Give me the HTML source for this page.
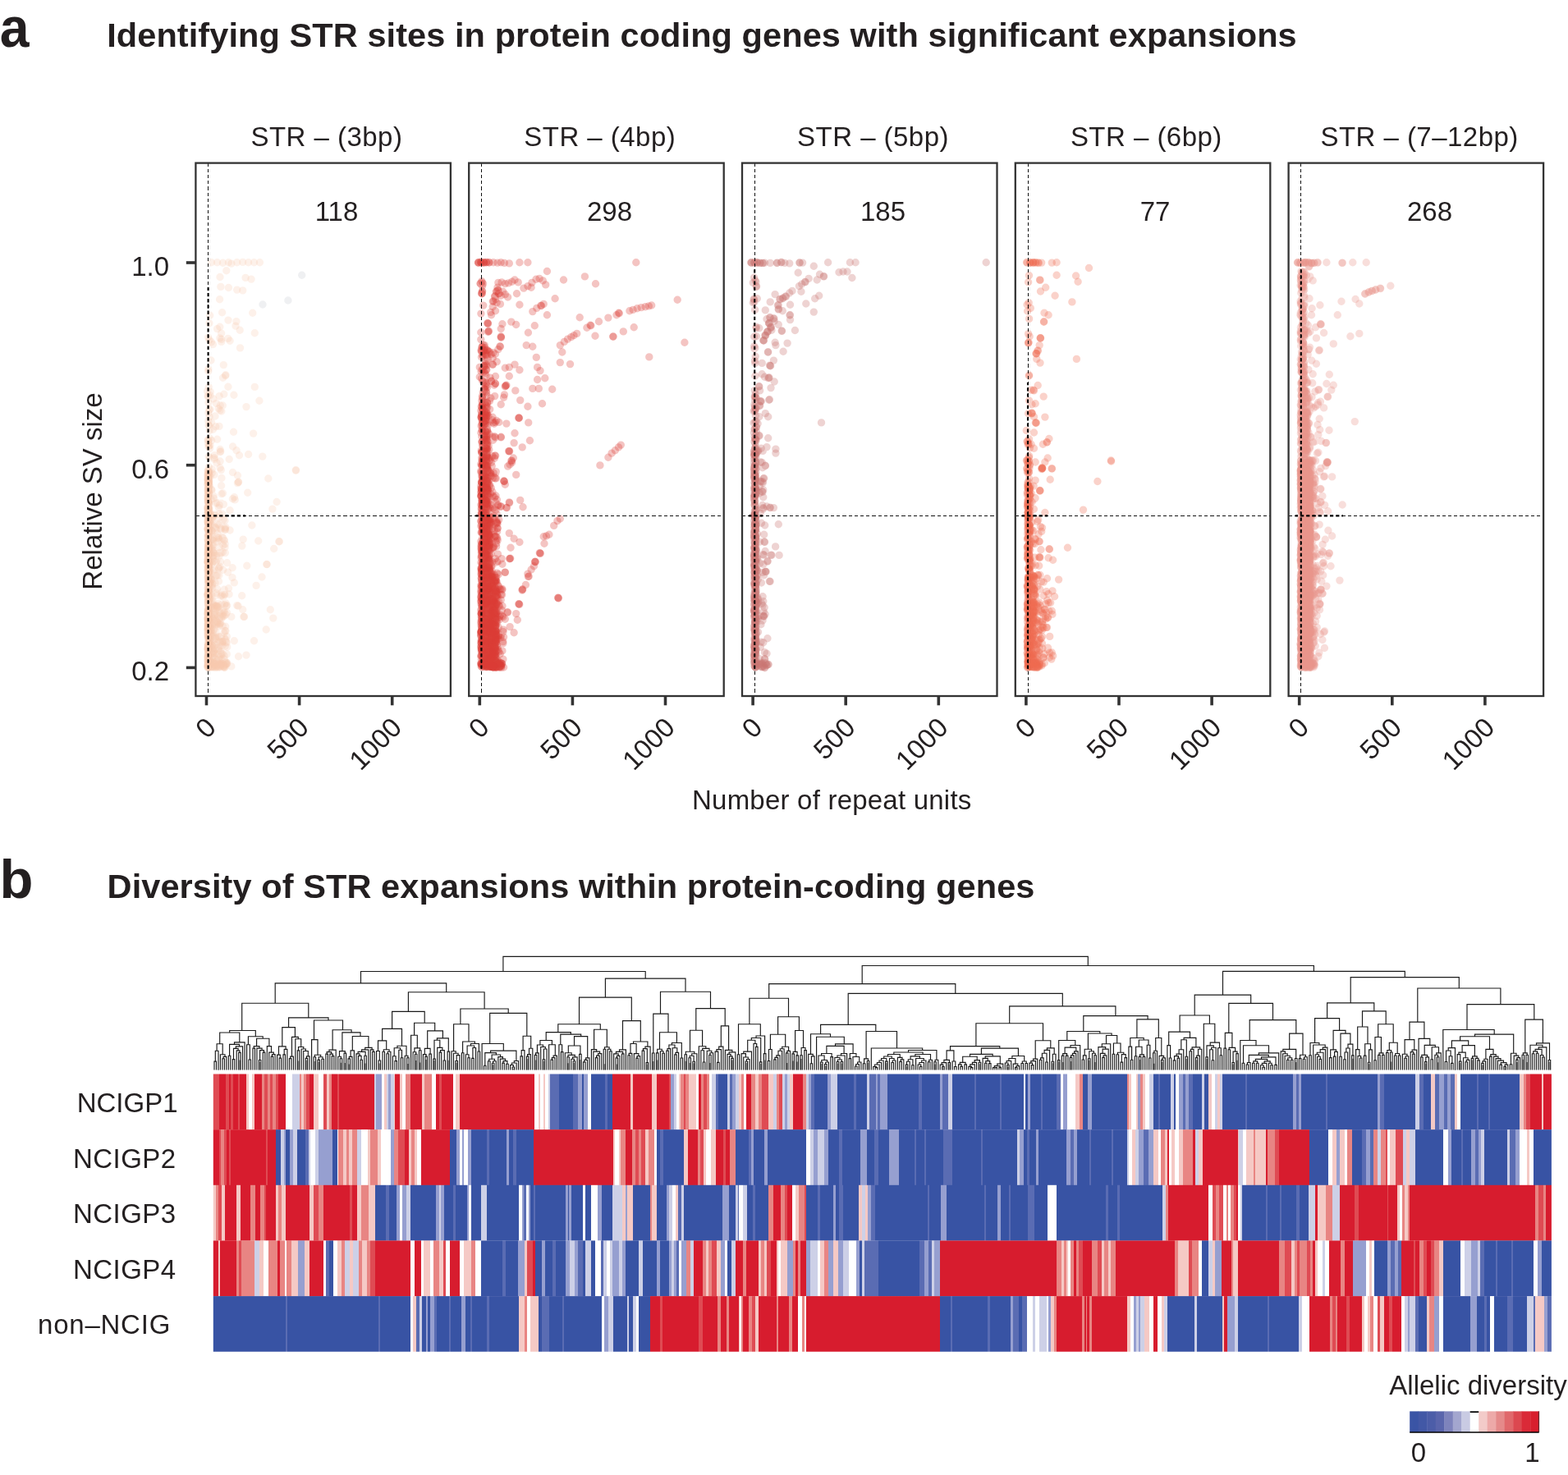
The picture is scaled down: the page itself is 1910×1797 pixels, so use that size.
<!DOCTYPE html>
<html lang="en">
<head>
<meta charset="utf-8">
<title>STR expansions in protein coding genes</title>
<style>
html,body{margin:0;padding:0;background:#fff;}
body{width:1910px;height:1797px;}
svg{display:block;}
svg text{font-family:'Liberation Sans', Arial, Helvetica, sans-serif;fill:#231f20;}
</style>
</head>
<body>
<svg width="1910" height="1797" viewBox="0 0 1910 1797">
<rect width="1910" height="1797" fill="#ffffff"/>
<text x="-0.3" y="57.0" font-size="69" text-anchor="start" font-weight="bold" textLength="35.8" lengthAdjust="spacingAndGlyphs">a</text>
<text x="130.2" y="57.1" font-size="41.5" text-anchor="start" font-weight="bold" textLength="1449.5">Identifying STR sites in protein coding genes with significant expansions</text>
<text x="-0.5" y="1094.0" font-size="67" text-anchor="start" font-weight="bold">b</text>
<text x="130.6" y="1094.1" font-size="41.5" text-anchor="start" font-weight="bold" textLength="1129.8">Diversity of STR expansions within protein-coding genes</text>
<text x="305.5" y="177.6" font-size="33" text-anchor="start" textLength="184.4">STR – (3bp)</text>
<g fill="none" stroke="#f9c7ae" stroke-opacity="0.26" stroke-width="9.4" stroke-linecap="round">
<path d="M257.6 319.7h0M278.4 350.5h0M271.5 460.2h0M255.9 481.8h0M280.1 646.0h0M288.7 737.6h0M295.7 742.8h0M253.8 637.7h0M254.8 754.5h0M253.3 632.9h0M253.7 595.3h0M253.6 786.9h0M254.7 782.0h0M254.1 794.0h0M253.5 611.2h0M254.2 678.7h0M254.2 791.5h0M253.9 576.9h0M254.6 789.2h0M254.5 789.2h0M253.3 723.7h0M252.9 618.9h0M253.6 683.7h0M254.4 759.4h0M254.3 755.4h0M253.2 690.6h0M253.8 686.2h0M254.4 628.0h0M254.0 723.6h0M253.1 590.2h0M253.5 667.3h0M254.0 761.8h0M254.6 766.2h0M254.1 791.3h0M254.5 663.7h0M254.6 770.1h0M253.6 737.2h0M267.9 760.8h0M258.7 761.0h0M276.4 775.5h0M253.9 799.7h0M261.9 755.7h0M257.3 739.3h0M255.4 793.5h0M256.8 807.3h0M267.3 750.4h0M268.7 754.3h0M264.3 753.5h0M269.8 753.7h0M260.3 793.4h0M257.7 789.5h0M256.4 736.5h0M263.9 737.5h0M265.9 735.5h0M266.6 692.7h0M264.8 700.6h0M263.3 725.2h0M255.6 710.5h0M255.8 672.1h0M259.5 664.2h0M259.3 658.4h0M253.5 808.1h0M266.7 808.5h0M265.8 813.1h0M273.5 811.0h0M260.4 607.1h0M257.7 596.4h0M254.2 471.6h0M254.1 518.0h0M267.6 364.7h0M291.5 554.7h0M258.1 646.7h0M289.4 579.3h0M257.9 730.0h0M266.4 618.2h0"/>
<path d="M264.6 319.7h0M288.7 353.1h0M310.3 471.4h0M257.6 514.6h0M314.7 659.0h0M329.3 742.8h0M254.2 763.0h0M254.9 812.4h0M253.1 630.0h0M254.4 650.1h0M253.0 804.3h0M254.9 729.9h0M253.7 762.4h0M253.4 572.8h0M253.8 637.0h0M254.2 729.4h0M253.7 708.4h0M254.5 585.6h0M253.3 777.1h0M253.9 647.2h0M254.2 698.9h0M254.3 791.8h0M253.9 674.7h0M254.5 668.7h0M254.9 575.6h0M254.1 584.2h0M254.8 629.3h0M253.1 787.3h0M253.6 686.5h0M254.0 688.0h0M254.8 787.8h0M253.1 589.9h0M254.6 786.3h0M253.0 596.5h0M254.0 695.6h0M253.1 635.7h0M253.7 765.9h0M274.9 779.1h0M259.3 736.2h0M267.4 800.5h0M256.6 805.3h0M263.2 761.0h0M267.7 805.6h0M263.1 805.8h0M273.3 750.3h0M254.7 753.5h0M256.4 778.0h0M259.9 795.6h0M254.2 759.4h0M253.1 753.9h0M272.2 781.3h0M254.8 755.6h0M257.1 768.2h0M256.9 708.6h0M266.6 630.7h0M260.2 676.6h0M274.0 667.0h0M255.7 680.8h0M265.9 655.0h0M269.2 726.1h0M255.1 635.5h0M255.8 807.5h0M262.2 809.4h0M257.8 812.6h0M265.0 810.6h0M256.1 626.4h0M269.6 591.8h0M253.9 503.1h0M254.4 568.9h0M287.9 391.6h0M292.5 423.9h0M256.0 719.0h0M289.4 588.6h0M264.7 650.5h0"/>
<path d="M271.5 320.2h0M295.7 353.9h0M315.9 488.3h0M262.8 519.8h0M339.7 659.8h0M297.4 751.4h0M253.1 643.8h0M254.6 742.3h0M253.1 584.6h0M253.5 587.9h0M253.4 741.5h0M254.3 712.3h0M254.6 709.4h0M253.5 735.1h0M253.3 670.8h0M254.5 803.3h0M254.7 763.9h0M254.5 612.1h0M254.8 697.6h0M253.3 720.4h0M254.6 718.9h0M254.8 598.1h0M254.1 573.2h0M254.7 784.2h0M254.1 749.8h0M254.8 672.4h0M253.9 798.1h0M254.5 722.1h0M253.3 653.7h0M254.3 642.7h0M253.4 658.0h0M254.4 788.8h0M254.8 725.8h0M253.3 622.9h0M253.4 811.0h0M254.3 593.7h0M260.4 810.8h0M267.7 761.0h0M259.0 789.9h0M255.0 809.1h0M255.7 780.0h0M265.2 738.0h0M267.9 781.8h0M253.6 797.1h0M271.3 762.8h0M265.9 797.0h0M254.8 805.3h0M269.6 797.0h0M253.1 759.6h0M273.1 746.1h0M272.9 771.3h0M258.8 807.4h0M262.5 745.7h0M265.8 739.8h0M259.8 670.6h0M257.8 725.1h0M259.0 731.7h0M268.5 684.2h0M256.5 629.6h0M257.9 673.8h0M271.8 664.2h0M261.5 811.8h0M268.7 812.2h0M260.6 811.8h0M255.6 812.4h0M262.0 507.0h0M263.2 613.1h0M254.8 499.2h0M253.9 543.9h0M267.9 411.9h0M284.9 481.2h0M294.7 725.7h0M296.2 657.1h0M279.1 724.0h0"/>
<path d="M278.4 319.7h0M270.6 380.7h0M300.0 495.6h0M360.4 572.6h0M340.4 659.8h0M296.9 751.4h0M253.1 767.1h0M253.5 625.9h0M254.5 613.2h0M253.1 711.8h0M253.4 770.5h0M253.2 578.5h0M254.1 663.1h0M253.3 611.3h0M254.2 690.2h0M254.3 618.5h0M254.8 682.9h0M253.6 761.8h0M254.0 618.9h0M254.8 601.5h0M254.6 626.6h0M253.9 754.5h0M254.3 775.5h0M254.3 756.8h0M253.4 667.7h0M254.0 715.5h0M254.3 684.0h0M253.6 636.1h0M254.4 774.1h0M254.5 588.5h0M253.6 658.4h0M253.1 724.3h0M253.9 742.8h0M253.4 744.6h0M254.2 627.8h0M253.9 684.1h0M271.0 786.3h0M270.9 742.2h0M276.3 796.9h0M264.8 750.5h0M271.1 749.5h0M266.1 746.3h0M268.5 758.9h0M253.9 777.1h0M260.7 748.5h0M258.4 786.9h0M276.5 737.6h0M255.7 773.3h0M264.7 776.2h0M258.8 758.4h0M258.8 801.1h0M267.4 756.1h0M267.2 755.4h0M271.1 655.4h0M255.2 675.3h0M271.4 672.7h0M258.4 711.8h0M256.2 729.4h0M263.9 738.1h0M264.6 717.5h0M255.3 649.4h0M260.3 810.3h0M261.7 811.1h0M255.5 813.3h0M269.5 809.9h0M269.3 572.6h0M268.3 494.0h0M254.7 543.0h0M253.6 411.1h0M284.5 526.3h0M279.2 559.5h0M256.1 625.0h0M267.8 673.3h0M294.8 665.1h0"/>
<path d="M288.7 319.7h0M307.7 381.2h0M268.0 499.9h0M326.8 583.0h0M333.7 668.5h0M332.8 753.1h0M254.3 580.2h0M253.5 587.1h0M254.0 678.9h0M253.4 716.4h0M254.1 641.4h0M252.9 791.5h0M254.1 718.2h0M254.7 730.6h0M253.5 774.2h0M253.9 613.5h0M254.2 619.9h0M253.2 606.2h0M254.0 692.5h0M254.5 575.5h0M254.4 767.3h0M253.9 736.9h0M253.3 680.5h0M254.4 668.8h0M253.0 617.6h0M253.6 639.6h0M254.9 768.8h0M254.3 707.5h0M253.0 599.2h0M253.3 731.2h0M253.7 664.3h0M253.2 751.5h0M254.5 672.6h0M254.1 624.5h0M252.9 685.0h0M254.8 712.8h0M252.9 764.6h0M254.2 742.4h0M265.8 782.7h0M253.5 754.2h0M262.6 741.0h0M275.5 782.0h0M263.9 740.5h0M275.2 735.0h0M272.7 813.0h0M272.9 781.2h0M260.4 793.8h0M255.4 780.5h0M256.2 781.2h0M259.5 741.0h0M258.5 796.3h0M258.1 747.0h0M267.7 787.2h0M265.0 638.5h0M255.2 686.0h0M272.3 632.5h0M266.5 708.3h0M271.1 634.3h0M274.0 643.6h0M274.3 673.6h0M261.6 744.7h0M253.2 808.3h0M261.4 808.8h0M263.2 813.2h0M268.9 809.7h0M271.5 601.0h0M259.8 485.9h0M253.4 483.4h0M253.8 452.2h0M274.6 457.8h0M257.0 439.0h0M273.4 658.7h0M290.1 738.3h0M271.9 727.2h0"/>
<path d="M295.7 319.4h0M264.6 400.6h0M308.6 528.1h0M290.5 587.3h0M267.1 677.1h0M281.8 751.4h0M254.9 804.8h0M254.4 667.5h0M253.3 748.1h0M253.6 680.3h0M253.3 745.3h0M254.3 804.3h0M253.1 725.6h0M253.8 787.0h0M254.9 680.1h0M252.9 684.9h0M254.3 769.2h0M253.9 746.1h0M254.1 576.8h0M253.3 625.3h0M254.7 646.9h0M253.3 587.2h0M254.4 668.7h0M254.3 587.2h0M253.7 594.0h0M254.2 706.5h0M254.1 598.0h0M254.1 724.1h0M254.5 721.8h0M253.1 643.9h0M253.3 707.2h0M254.2 629.7h0M253.7 605.6h0M253.3 638.4h0M253.6 763.9h0M254.6 643.9h0M267.3 753.6h0M266.3 790.5h0M253.0 761.0h0M263.4 789.7h0M253.0 749.1h0M260.6 767.3h0M254.0 770.0h0M255.8 758.5h0M255.1 784.6h0M255.5 758.6h0M258.6 807.9h0M261.4 737.8h0M253.5 799.3h0M253.1 813.1h0M255.3 762.2h0M274.7 763.2h0M254.3 751.1h0M260.5 673.9h0M263.9 682.9h0M255.9 687.3h0M273.8 724.5h0M257.5 687.4h0M266.3 677.1h0M266.5 691.9h0M257.8 812.6h0M275.9 807.1h0M274.6 809.1h0M258.2 809.6h0M262.1 808.5h0M268.3 550.8h0M255.1 524.6h0M255.0 519.0h0M253.8 449.6h0M257.7 536.7h0M267.2 482.6h0M257.8 706.0h0M268.1 562.0h0M267.3 615.4h0"/>
<path d="M302.6 319.7h0M287.0 397.1h0M259.4 523.2h0M290.4 587.4h0M276.6 685.8h0M324.2 767.0h0M254.2 719.8h0M254.6 664.1h0M253.2 726.7h0M254.8 687.7h0M253.0 625.6h0M252.9 724.8h0M254.9 784.1h0M253.6 732.1h0M253.0 577.7h0M254.3 613.6h0M254.2 744.7h0M254.6 737.8h0M254.8 695.6h0M254.3 648.4h0M253.5 794.6h0M253.1 579.1h0M253.3 610.2h0M253.6 684.1h0M253.4 790.4h0M253.5 744.4h0M254.1 680.9h0M254.4 616.2h0M254.4 621.9h0M254.3 738.9h0M254.5 701.6h0M253.3 756.3h0M254.4 811.2h0M253.2 754.4h0M254.3 717.5h0M254.5 671.5h0M263.1 770.9h0M254.7 766.5h0M257.7 786.0h0M257.4 807.8h0M276.4 808.7h0M264.7 789.0h0M261.5 766.1h0M257.3 739.9h0M254.9 804.0h0M274.3 787.3h0M261.4 749.1h0M264.0 791.0h0M254.6 755.0h0M268.9 792.6h0M254.8 778.1h0M269.0 791.7h0M256.5 790.9h0M255.2 672.9h0M258.6 657.6h0M258.3 670.2h0M256.2 700.7h0M269.1 673.9h0M264.9 674.4h0M269.2 645.2h0M264.5 809.7h0M265.6 812.2h0M255.2 809.1h0M269.8 808.1h0M267.3 810.7h0M272.8 480.2h0M269.8 601.8h0M253.3 482.2h0M254.9 393.7h0M257.5 416.8h0M261.0 557.7h0M263.7 653.9h0M259.0 711.4h0M283.4 607.8h0"/>
<path d="M309.5 319.7h0M292.2 402.3h0M264.6 535.3h0M301.7 600.2h0M325.0 687.5h0M285.3 780.8h0M253.2 573.7h0M254.8 776.2h0M253.1 672.4h0M254.0 780.9h0M254.0 777.5h0M253.9 747.8h0M254.4 664.5h0M253.3 674.9h0M254.6 580.1h0M253.4 654.2h0M253.3 789.1h0M254.8 689.9h0M253.7 765.0h0M253.6 720.9h0M253.3 813.0h0M254.0 695.3h0M253.9 573.8h0M252.9 656.6h0M254.0 693.6h0M253.5 573.4h0M253.3 582.7h0M253.4 808.5h0M253.7 632.8h0M253.5 604.8h0M254.6 707.0h0M253.9 756.1h0M253.7 610.8h0M253.5 703.4h0M253.2 608.2h0M254.7 592.1h0M252.9 812.7h0M271.3 781.5h0M253.7 764.6h0M258.1 771.3h0M265.7 759.1h0M268.7 793.9h0M253.2 789.5h0M273.2 798.9h0M253.2 743.3h0M256.4 785.2h0M262.9 785.6h0M263.3 803.4h0M254.4 789.1h0M255.5 754.9h0M254.5 751.0h0M273.6 736.6h0M260.1 673.2h0M258.7 686.2h0M255.0 668.6h0M274.2 645.5h0M261.8 694.0h0M267.0 657.5h0M272.9 743.7h0M256.4 640.5h0M272.3 809.5h0M271.9 811.7h0M270.7 808.4h0M259.5 811.3h0M265.3 807.2h0M269.9 582.4h0M256.0 498.7h0M255.7 534.1h0M255.7 384.3h0M266.2 497.7h0M260.6 628.4h0M258.2 665.1h0M283.2 691.8h0M266.3 639.4h0"/>
<path d="M316.4 319.7h0M310.3 405.8h0M283.6 544.0h0M286.2 608.9h0M325.0 687.6h0M309.5 780.8h0M254.0 584.5h0M252.9 621.0h0M253.3 635.7h0M253.3 607.5h0M254.1 638.2h0M253.5 813.2h0M254.4 711.4h0M254.5 792.5h0M254.3 708.9h0M254.3 696.7h0M254.9 807.9h0M254.8 590.9h0M254.0 689.5h0M253.1 747.9h0M254.7 602.6h0M254.0 605.7h0M254.7 765.1h0M254.2 721.9h0M254.8 708.2h0M253.4 580.4h0M254.0 600.3h0M254.7 783.9h0M254.5 659.8h0M253.6 746.7h0M253.3 754.7h0M253.7 652.2h0M253.3 673.4h0M254.5 686.7h0M253.5 633.1h0M254.6 620.7h0M270.1 751.2h0M253.5 752.8h0M261.6 796.8h0M253.9 811.3h0M266.1 792.8h0M261.0 813.0h0M262.1 753.7h0M258.9 762.9h0M267.7 759.5h0M253.5 812.1h0M258.1 786.6h0M254.7 746.9h0M271.1 796.7h0M262.7 753.9h0M255.3 771.7h0M257.3 765.1h0M271.0 654.4h0M257.9 646.6h0M271.7 694.2h0M256.6 654.7h0M259.4 661.4h0M267.0 666.2h0M255.1 711.5h0M272.9 657.4h0M254.3 810.5h0M262.5 812.1h0M270.7 810.5h0M275.6 809.1h0M268.0 809.9h0M257.9 597.5h0M260.2 604.2h0M254.0 490.6h0M255.1 414.2h0M277.8 412.4h0M258.7 633.0h0M258.3 576.3h0M259.0 658.2h0M270.8 626.3h0"/>
<path d="M281.8 321.1h0M269.7 413.5h0M302.6 553.5h0M269.7 613.2h0M300.8 689.2h0M300.0 798.1h0M253.3 628.9h0M254.7 684.4h0M254.8 765.6h0M254.7 769.1h0M254.7 619.6h0M253.1 702.9h0M253.8 774.1h0M254.7 663.6h0M253.5 762.7h0M254.1 754.1h0M254.0 762.5h0M253.3 698.2h0M254.3 586.0h0M253.1 694.2h0M253.4 746.8h0M253.3 619.6h0M254.3 779.5h0M253.4 799.9h0M254.9 725.3h0M253.2 753.7h0M253.8 732.6h0M253.0 584.8h0M254.2 810.8h0M253.6 598.6h0M254.7 638.5h0M254.8 733.7h0M253.5 806.0h0M253.4 786.0h0M254.6 695.6h0M254.0 697.9h0M264.5 757.8h0M254.4 744.7h0M270.9 782.9h0M254.1 805.9h0M258.6 781.4h0M271.3 802.0h0M257.0 766.0h0M263.7 738.6h0M273.4 803.2h0M259.9 776.4h0M269.5 775.5h0M253.0 773.9h0M253.3 767.2h0M260.4 808.1h0M257.0 770.1h0M253.5 804.2h0M258.1 668.4h0M260.0 683.6h0M257.6 706.2h0M266.1 655.4h0M267.9 690.5h0M258.8 716.8h0M255.7 633.0h0M261.7 642.1h0M268.7 811.0h0M272.8 811.9h0M269.2 808.1h0M257.3 809.3h0M264.0 563.9h0M261.3 554.7h0M264.5 612.5h0M255.9 542.6h0M268.9 349.4h0M288.1 548.7h0M283.5 575.5h0M272.4 614.4h0M256.2 580.4h0M268.8 643.4h0"/>
<path d="M268.0 337.5h0M280.1 415.3h0M319.8 556.1h0M337.1 611.5h0M319.0 703.0h0M269.7 803.2h0M253.0 682.9h0M254.9 666.7h0M253.5 785.4h0M253.4 616.2h0M252.9 635.5h0M254.4 789.1h0M253.1 752.6h0M254.1 647.0h0M252.9 603.1h0M253.7 762.8h0M253.5 791.5h0M253.5 747.4h0M254.0 670.7h0M253.4 618.1h0M253.4 593.6h0M254.6 811.0h0M254.2 668.5h0M254.2 652.2h0M254.5 588.5h0M253.7 788.5h0M253.8 633.8h0M253.4 673.5h0M253.6 703.5h0M254.3 708.6h0M252.9 695.5h0M253.9 700.8h0M253.0 645.1h0M254.7 653.3h0M254.2 811.7h0M253.2 772.5h0M258.4 777.3h0M259.1 740.7h0M254.4 795.1h0M262.5 779.0h0M270.2 736.3h0M259.2 769.0h0M255.6 740.4h0M253.0 805.4h0M267.4 745.6h0M262.2 738.6h0M261.5 801.3h0M259.8 769.6h0M258.2 752.0h0M258.2 761.4h0M276.7 788.2h0M257.4 795.4h0M256.9 632.8h0M256.3 705.8h0M256.5 682.9h0M254.9 691.6h0M257.2 657.2h0M270.4 724.9h0M258.0 713.6h0M258.6 630.3h0M259.6 813.0h0M276.6 807.6h0M255.4 807.9h0M276.6 807.9h0M271.3 494.0h0M269.8 501.0h0M255.5 626.1h0M255.1 507.8h0M267.8 398.3h0M256.2 477.4h0M259.3 680.1h0M285.4 605.7h0M263.7 738.7h0M256.5 714.6h0"/>
<path d="M275.8 329.7h0M259.4 419.6h0M360.4 573.3h0M331.9 620.1h0M285.3 709.9h0M281.8 811.9h0M253.8 775.0h0M253.0 723.2h0M253.3 666.0h0M254.4 798.9h0M253.8 584.7h0M254.4 741.3h0M253.0 716.4h0M253.2 690.8h0M253.8 576.0h0M254.7 591.2h0M254.6 654.8h0M254.2 697.2h0M254.8 794.8h0M254.0 676.3h0M254.6 672.6h0M254.8 593.2h0M254.1 692.7h0M254.2 708.6h0M254.1 754.8h0M254.4 582.2h0M254.1 672.1h0M254.1 594.9h0M254.4 794.1h0M254.7 798.8h0M254.0 708.1h0M254.3 742.4h0M253.1 727.7h0M254.0 802.9h0M253.4 700.1h0M253.5 645.6h0M256.8 761.5h0M274.1 768.5h0M273.5 778.0h0M263.0 755.7h0M255.0 771.7h0M263.1 806.0h0M273.8 810.8h0M257.0 774.1h0M266.8 808.5h0M264.0 757.3h0M266.5 775.8h0M256.1 797.6h0M275.8 738.3h0M276.2 782.9h0M272.1 751.0h0M261.9 739.3h0M255.0 701.8h0M257.2 638.9h0M264.6 739.7h0M259.8 656.0h0M258.6 648.8h0M263.4 677.2h0M274.7 642.1h0M263.4 644.8h0M273.7 813.4h0M275.7 809.6h0M261.3 809.8h0M268.1 809.4h0M261.6 626.9h0M258.3 571.7h0M253.5 536.1h0M253.8 512.9h0M268.7 549.8h0M269.7 416.4h0M277.6 697.3h0M268.1 570.0h0M278.5 716.8h0M256.8 657.7h0"/>
<path d="M306.0 340.1h0M272.3 444.6h0M261.1 559.5h0M280.1 621.8h0M312.1 713.4h0M290.5 799.8h0M253.9 725.8h0M254.5 635.7h0M254.6 726.2h0M253.3 801.3h0M253.3 659.8h0M254.5 792.7h0M253.9 626.0h0M254.6 776.6h0M254.6 627.8h0M254.8 745.8h0M253.1 677.3h0M254.6 706.3h0M253.4 685.2h0M253.7 670.6h0M254.5 600.7h0M253.0 801.6h0M254.9 765.9h0M254.0 664.8h0M253.0 796.4h0M254.9 799.9h0M254.5 699.2h0M254.0 587.6h0M253.8 659.9h0M254.7 676.6h0M254.8 728.5h0M254.7 669.9h0M254.5 613.7h0M253.9 623.8h0M253.2 757.5h0M253.1 644.4h0M258.8 787.3h0M261.7 785.7h0M257.9 774.2h0M273.7 812.8h0M254.2 765.3h0M262.1 776.2h0M265.9 802.9h0M274.6 811.6h0M260.0 741.2h0M255.9 798.0h0M275.2 748.6h0M253.4 806.1h0M261.1 794.7h0M253.1 766.6h0M258.6 740.7h0M258.8 753.7h0M263.4 722.6h0M258.9 677.4h0M259.3 695.4h0M261.8 704.1h0M262.3 642.7h0M266.8 700.9h0M258.7 631.1h0M264.8 660.1h0M263.5 812.3h0M269.8 808.6h0M253.1 810.2h0M268.4 808.4h0M267.0 519.4h0M255.5 557.7h0M255.5 546.4h0M253.3 536.3h0M263.4 491.4h0M269.6 406.1h0M262.0 710.1h0M260.9 643.6h0M256.5 637.0h0M274.0 634.0h0"/>
<path d="M299.1 338.4h0M274.9 456.7h0M252.5 476.6h0M306.9 640.0h0M273.2 723.8h0M274.9 768.7h0M253.9 731.2h0M253.1 651.0h0M253.1 810.8h0M254.7 716.9h0M254.0 602.0h0M253.6 736.8h0M254.3 691.0h0M254.3 801.2h0M253.2 581.4h0M253.2 680.4h0M254.0 757.0h0M253.5 662.8h0M253.2 675.6h0M254.0 608.9h0M253.7 736.8h0M253.8 756.1h0M253.4 791.8h0M254.9 726.3h0M253.2 684.8h0M253.0 790.4h0M254.9 801.9h0M253.1 734.6h0M253.1 783.0h0M254.5 644.2h0M254.5 585.6h0M254.6 732.3h0M253.0 681.7h0M253.0 800.6h0M252.9 769.9h0M253.8 744.1h0M256.0 750.7h0M269.0 799.4h0M254.2 790.9h0M270.6 782.2h0M263.2 748.6h0M259.7 805.9h0M259.5 798.1h0M260.7 751.2h0M255.4 759.1h0M253.5 757.4h0M269.4 747.9h0M263.2 777.6h0M276.4 746.3h0M265.5 739.6h0M266.7 763.4h0M253.1 746.8h0M274.2 662.9h0M256.1 696.2h0M273.2 718.3h0M263.0 701.1h0M255.2 636.0h0M270.1 721.7h0M262.9 684.5h0M257.1 684.4h0M270.3 808.1h0M274.7 807.2h0M262.6 809.1h0M267.7 812.7h0M267.0 626.3h0M268.1 547.5h0M253.5 540.2h0M254.2 556.1h0M278.0 390.1h0M277.9 471.2h0M283.0 703.6h0M274.5 645.0h0M257.1 608.3h0M261.0 578.4h0"/>
</g>
<path d="M367.7 335.3h0M350.9 366.0h0M320.0 371.0h0" fill="none" stroke="#c5c8d2" stroke-opacity="0.28" stroke-width="9.4" stroke-linecap="round"/>
<path d="M253.6 198.6 V848.0" stroke="#111" stroke-width="1" stroke-dasharray="4.2 3" fill="none" shape-rendering="crispEdges"/>
<path d="M238.4 628.4 H548.9" stroke="#111" stroke-width="1" stroke-dasharray="4.2 3" fill="none" shape-rendering="crispEdges"/>
<path d="M253.6 350 V818" stroke="#000" stroke-width="2.1" stroke-dasharray="4.2 3" stroke-dashoffset="0.2" fill="none"/>
<path d="M246.4 628.4 H299" stroke="#000" stroke-width="2.1" stroke-dasharray="4.2 3" stroke-dashoffset="8" fill="none"/>
<rect x="238.4" y="198.6" width="310.5" height="649.4" fill="none" stroke="#333333" stroke-width="2.3"/>
<text x="410.0" y="268.8" font-size="33" text-anchor="middle">118</text>
<path d="M251.5 848.0 V859.3" stroke="#333333" stroke-width="3.6" fill="none"/>
<text x="265.0" y="888.2" font-size="33" text-anchor="end" transform="rotate(-45 265.0 888.2)">0</text>
<path d="M364.6 848.0 V859.3" stroke="#333333" stroke-width="3.6" fill="none"/>
<text x="378.1" y="888.2" font-size="33" text-anchor="end" transform="rotate(-45 378.1 888.2)">500</text>
<path d="M477.7 848.0 V859.3" stroke="#333333" stroke-width="3.6" fill="none"/>
<text x="491.2" y="888.2" font-size="33" text-anchor="end" transform="rotate(-45 491.2 888.2)">1000</text>
<text x="638.3" y="177.6" font-size="33" text-anchor="start" textLength="184.4">STR – (4bp)</text>
<g fill="none" stroke="#dc3b36" stroke-opacity="0.3" stroke-width="9.4" stroke-linecap="round">
<path d="M582.6 319.8h0M606.0 320.1h0M619.4 344.9h0M605.2 368.7h0M647.1 350.3h0M666.4 383.8h0M702.7 406.4h0M790.3 372.9h0M653.3 435.4h0M642.9 495.2h0M610.5 411.3h0M600.2 444.1h0M625.3 558.0h0M756.3 542.1h0M663.0 662.2h0M636.1 719.1h0M615.3 590.2h0M606.0 643.8h0M610.2 730.9h0M596.2 806.2h0M599.1 752.8h0M588.1 786.6h0M604.4 734.1h0M600.0 770.7h0M600.3 808.4h0M603.2 804.7h0M602.3 746.1h0M602.4 796.5h0M600.0 757.5h0M600.5 810.0h0M600.4 783.4h0M604.0 762.3h0M595.8 804.2h0M585.7 772.9h0M597.6 789.0h0M602.3 747.5h0M601.5 810.9h0M593.7 750.4h0M603.8 753.2h0M590.8 748.1h0M585.8 757.6h0M598.8 702.8h0M588.6 716.2h0M593.1 747.6h0M602.4 783.0h0M593.5 715.6h0M587.9 712.6h0M587.2 721.2h0M597.9 765.7h0M598.9 784.1h0M604.2 787.7h0M595.6 782.5h0M595.7 719.3h0M586.4 793.7h0M593.6 734.0h0M592.2 779.2h0M599.1 769.1h0M592.3 793.4h0M589.0 775.7h0M601.6 792.8h0M594.9 759.3h0M602.0 743.5h0M591.2 700.4h0M585.8 719.4h0M589.5 730.1h0M594.5 796.9h0M592.0 715.3h0M598.3 785.4h0M591.7 777.1h0M589.3 734.6h0M587.1 729.4h0M587.0 764.7h0M587.3 720.2h0M595.3 709.3h0M592.8 710.6h0M589.6 762.5h0M592.3 805.3h0M599.0 795.2h0M596.1 724.7h0M603.5 768.6h0M602.6 782.4h0M592.4 771.1h0M588.3 781.8h0M596.4 796.2h0M604.6 703.4h0M595.1 789.0h0M592.2 735.4h0M585.8 641.0h0M594.2 692.1h0M586.3 696.7h0M595.3 658.9h0M593.3 628.5h0M586.3 677.5h0M587.8 644.3h0M590.2 676.1h0M587.1 678.5h0M592.0 693.0h0M591.8 684.5h0M592.0 675.2h0M594.8 651.4h0M589.5 641.9h0M594.1 662.0h0M585.9 634.7h0M586.3 639.7h0M587.5 686.8h0M589.3 636.3h0M587.7 650.2h0M594.0 665.1h0M593.3 645.7h0M589.7 658.8h0M590.8 686.8h0M598.3 632.2h0M602.0 630.8h0M603.3 680.6h0M601.7 628.6h0M608.8 717.8h0M606.2 788.8h0M611.7 750.4h0M605.9 779.3h0M593.5 811.3h0M597.8 812.4h0M605.5 809.3h0M606.9 808.6h0M604.6 810.2h0M610.7 813.2h0M593.2 808.6h0M590.7 580.4h0M588.3 586.7h0M592.1 625.1h0M590.4 619.5h0M587.2 568.0h0M587.5 620.4h0M590.8 608.6h0M586.8 567.2h0M585.8 604.3h0M592.3 599.1h0M586.5 587.4h0M585.9 575.3h0M586.6 598.1h0M588.0 561.3h0M589.7 598.4h0M602.1 581.1h0M604.2 582.9h0M600.4 604.3h0M587.1 512.1h0M592.5 509.6h0M587.5 519.5h0M589.7 514.3h0M587.3 502.4h0M585.9 527.3h0M591.3 558.1h0M591.0 490.8h0M602.9 555.1h0M593.9 515.7h0M598.1 558.1h0M592.8 426.6h0M592.0 457.2h0M590.4 464.1h0M586.7 461.1h0M602.1 469.3h0"/>
<path d="M582.6 320.0h0M610.2 319.8h0M623.6 343.2h0M609.4 370.4h0M647.9 344.4h0M622.8 392.1h0M714.9 399.2h0M793.7 372.0h0M654.6 447.4h0M660.5 491.8h0M609.4 422.3h0M605.2 440.7h0M603.5 467.5h0M585.1 345.2h0M658.0 673.9h0M636.7 718.0h0M596.8 591.8h0M606.1 643.4h0M618.6 746.0h0M599.8 805.4h0M600.8 712.6h0M596.9 798.1h0M587.3 715.4h0M602.5 742.1h0M601.0 775.3h0M594.1 717.7h0M600.8 804.6h0M591.7 755.4h0M602.5 778.1h0M604.3 801.3h0M591.7 752.0h0M586.1 762.3h0M602.3 738.2h0M587.5 745.4h0M592.9 770.6h0M590.1 732.8h0M592.4 702.4h0M604.0 738.4h0M603.4 746.2h0M592.2 764.5h0M599.3 792.9h0M587.9 769.1h0M604.7 807.0h0M602.3 783.7h0M598.1 721.6h0M594.9 796.7h0M590.5 733.5h0M603.1 737.1h0M603.8 768.7h0M594.2 804.7h0M590.1 810.3h0M596.7 731.9h0M587.1 780.2h0M589.2 709.2h0M604.5 776.3h0M593.8 795.3h0M604.6 735.1h0M586.9 736.0h0M586.3 790.4h0M604.1 754.8h0M603.3 722.6h0M593.2 747.2h0M588.2 775.8h0M603.0 796.9h0M600.2 809.9h0M599.7 744.4h0M592.5 806.4h0M596.5 728.9h0M602.1 758.6h0M602.5 801.7h0M592.6 783.5h0M597.8 700.7h0M598.5 757.0h0M586.8 757.2h0M596.4 749.4h0M587.2 730.9h0M592.1 795.3h0M592.9 733.3h0M604.3 804.5h0M595.7 779.6h0M590.4 748.5h0M586.3 769.5h0M599.3 766.6h0M604.1 721.7h0M600.1 795.4h0M602.1 708.6h0M596.9 771.9h0M592.8 648.1h0M590.8 689.8h0M590.3 696.8h0M590.0 673.5h0M596.1 665.0h0M590.1 662.0h0M593.5 657.7h0M587.5 672.1h0M588.2 679.4h0M591.2 636.1h0M594.3 653.6h0M592.4 666.1h0M594.4 643.1h0M586.3 665.9h0M588.0 682.6h0M589.1 683.6h0M596.4 695.7h0M590.3 654.2h0M595.7 697.9h0M585.8 692.2h0M594.6 633.4h0M591.2 676.5h0M595.0 670.9h0M593.3 644.0h0M606.5 675.1h0M604.9 654.1h0M603.3 654.1h0M604.8 662.0h0M605.7 804.9h0M613.0 769.6h0M606.5 726.5h0M610.4 773.9h0M585.7 808.8h0M604.3 812.7h0M598.8 812.2h0M609.9 810.9h0M609.3 812.0h0M590.9 810.6h0M606.0 810.0h0M591.0 603.1h0M592.9 607.4h0M587.8 624.4h0M585.8 599.8h0M587.5 592.9h0M590.7 607.4h0M586.2 625.8h0M589.1 592.6h0M593.9 614.1h0M589.2 627.1h0M585.9 573.6h0M586.9 596.8h0M588.6 572.3h0M587.3 600.9h0M592.8 604.4h0M603.0 582.8h0M596.4 605.9h0M598.7 563.2h0M592.9 550.5h0M590.6 502.0h0M592.7 559.7h0M593.5 523.9h0M586.2 495.1h0M592.1 530.7h0M590.8 557.3h0M593.6 490.4h0M600.7 514.8h0M595.8 547.8h0M593.6 556.4h0M588.4 434.0h0M589.2 465.4h0M587.2 422.6h0M603.5 458.5h0M587.6 348.4h0"/>
<path d="M582.8 320.1h0M614.4 320.4h0M627.0 341.0h0M600.2 373.7h0M653.0 340.2h0M628.7 395.5h0M719.1 396.3h0M825.2 365.3h0M658.0 451.6h0M632.0 509.4h0M608.9 421.9h0M627.0 527.8h0M603.4 467.3h0M585.2 345.7h0M657.3 673.6h0M632.0 735.9h0M633.7 609.4h0M620.3 649.6h0M617.9 745.9h0M588.6 723.5h0M589.9 721.8h0M596.3 789.5h0M597.1 754.9h0M596.2 753.7h0M592.0 810.3h0M602.5 792.1h0M603.7 737.6h0M592.2 703.4h0M593.0 811.2h0M596.3 766.8h0M593.4 710.6h0M598.9 738.2h0M596.8 774.2h0M593.7 737.1h0M595.0 810.0h0M590.0 790.3h0M586.0 787.4h0M590.1 792.6h0M603.0 776.1h0M597.9 714.8h0M604.4 778.5h0M600.6 781.3h0M587.5 756.9h0M604.2 811.2h0M600.6 709.2h0M597.1 785.4h0M589.0 773.4h0M603.0 761.9h0M600.9 796.7h0M592.1 705.2h0M599.3 776.9h0M604.6 768.2h0M599.7 739.7h0M602.7 762.9h0M586.5 769.1h0M587.0 809.2h0M591.7 754.9h0M601.9 778.2h0M587.7 777.8h0M603.2 792.9h0M587.3 731.2h0M603.7 722.9h0M593.5 718.8h0M587.5 771.3h0M586.4 754.4h0M597.7 780.2h0M599.2 714.5h0M587.6 792.8h0M602.5 759.3h0M589.9 705.3h0M595.7 801.8h0M587.2 724.0h0M588.3 720.2h0M598.7 781.0h0M598.2 802.8h0M604.2 805.7h0M595.7 708.6h0M602.4 734.0h0M588.9 778.6h0M587.6 729.6h0M593.3 730.4h0M593.7 808.9h0M588.1 781.1h0M599.3 763.1h0M594.3 766.7h0M589.2 755.1h0M599.8 705.0h0M586.6 699.6h0M596.3 688.5h0M587.2 686.2h0M592.9 646.4h0M593.1 644.1h0M587.7 691.0h0M594.4 692.0h0M587.8 635.6h0M590.4 634.3h0M592.4 631.6h0M593.5 692.7h0M593.1 665.1h0M589.8 638.4h0M588.4 662.2h0M592.2 666.0h0M594.7 683.0h0M588.7 693.0h0M589.7 666.5h0M594.9 682.6h0M590.4 650.0h0M592.3 658.3h0M589.7 637.8h0M589.0 646.7h0M591.6 634.4h0M607.2 699.8h0M598.7 689.0h0M601.0 666.4h0M599.1 698.8h0M604.1 793.2h0M606.5 804.2h0M603.8 703.6h0M611.6 724.6h0M592.6 807.4h0M604.2 812.4h0M599.5 812.8h0M597.1 810.9h0M608.6 808.3h0M604.4 811.2h0M609.4 808.9h0M587.7 577.7h0M587.2 610.1h0M594.1 583.6h0M589.6 594.1h0M594.5 573.9h0M586.8 587.8h0M592.1 567.2h0M592.2 613.7h0M586.5 626.9h0M588.7 600.4h0M593.4 594.8h0M589.7 580.5h0M593.6 569.4h0M589.6 611.5h0M587.4 584.2h0M595.3 578.4h0M598.0 577.0h0M593.8 581.6h0M589.0 546.4h0M592.2 556.7h0M592.9 505.4h0M592.1 493.9h0M591.1 512.4h0M587.9 492.9h0M589.1 513.4h0M586.6 506.0h0M604.8 512.5h0M593.4 546.8h0M587.7 482.0h0M589.5 473.9h0M589.3 427.3h0M589.9 446.0h0M597.9 485.0h0M587.1 344.3h0"/>
<path d="M585.9 319.8h0M620.3 320.9h0M631.2 343.9h0M597.7 380.4h0M657.1 339.4h0M651.3 396.7h0M719.8 396.8h0M833.9 417.3h0M663.8 460.8h0M632.3 509.3h0M606.9 425.6h0M626.1 539.6h0M598.5 464.2h0M586.8 357.8h0M658.1 674.4h0M632.7 736.4h0M637.0 617.8h0M626.1 656.3h0M628.7 747.6h0M599.3 746.3h0M600.9 813.3h0M592.7 707.0h0M603.4 761.7h0M600.3 768.8h0M594.7 781.5h0M595.6 772.2h0M603.2 725.9h0M590.5 732.2h0M595.8 723.6h0M603.5 703.5h0M598.1 728.2h0M593.4 767.4h0M587.7 729.9h0M588.0 748.8h0M598.4 742.1h0M598.2 761.8h0M588.9 740.3h0M588.4 765.8h0M595.0 768.0h0M587.3 754.9h0M601.0 746.3h0M590.4 807.6h0M595.3 721.3h0M599.0 720.8h0M604.0 708.0h0M588.3 768.7h0M591.6 765.7h0M593.9 737.8h0M602.8 715.4h0M601.4 733.1h0M598.0 702.5h0M597.4 736.3h0M602.7 739.4h0M590.0 762.9h0M599.9 781.2h0M595.7 789.5h0M586.8 766.7h0M585.8 727.0h0M603.1 777.5h0M597.8 763.2h0M595.1 770.0h0M594.8 789.3h0M595.9 764.6h0M592.5 741.6h0M596.3 798.5h0M598.0 738.6h0M588.7 779.4h0M596.8 723.9h0M604.7 721.7h0M600.2 796.6h0M599.2 727.3h0M592.6 703.9h0M598.0 737.8h0M588.7 721.7h0M592.3 721.9h0M598.6 754.7h0M586.8 799.3h0M592.2 809.7h0M597.4 788.7h0M595.7 729.7h0M592.8 780.9h0M588.8 784.9h0M592.0 738.1h0M591.9 781.1h0M601.7 746.8h0M587.6 795.2h0M595.6 810.3h0M596.1 664.7h0M587.8 687.1h0M586.2 663.9h0M587.7 690.2h0M585.9 635.0h0M595.2 662.2h0M591.9 648.7h0M591.7 669.0h0M588.9 641.2h0M589.9 642.0h0M596.2 671.0h0M589.7 669.7h0M585.9 685.2h0M587.4 645.9h0M587.0 672.6h0M586.2 693.9h0M596.2 651.1h0M595.9 682.0h0M596.2 684.6h0M593.6 689.3h0M588.4 671.1h0M591.6 685.1h0M590.8 655.8h0M596.4 638.0h0M599.3 695.9h0M601.5 666.3h0M596.4 691.5h0M599.6 662.7h0M605.6 758.1h0M604.1 804.0h0M613.1 767.1h0M603.7 789.8h0M609.9 811.3h0M607.2 812.3h0M590.6 808.8h0M603.8 807.1h0M596.5 812.0h0M611.2 808.1h0M592.0 612.1h0M594.1 604.6h0M590.4 613.8h0M587.9 608.9h0M590.5 614.1h0M585.9 615.1h0M589.8 609.1h0M591.3 584.3h0M588.7 582.8h0M592.8 599.2h0M588.6 617.3h0M593.6 586.9h0M592.7 617.4h0M589.4 593.4h0M589.5 592.9h0M602.3 620.2h0M593.8 567.5h0M594.4 596.2h0M605.2 626.5h0M588.2 498.4h0M591.9 526.0h0M588.8 543.6h0M592.4 545.4h0M593.3 535.3h0M586.5 508.0h0M588.0 542.9h0M589.3 522.7h0M595.2 542.9h0M603.5 532.9h0M591.4 443.2h0M587.8 464.3h0M591.1 470.9h0M593.2 482.3h0M602.7 482.6h0M588.5 345.6h0"/>
<path d="M586.6 320.2h0M632.9 319.8h0M606.0 350.3h0M603.5 378.7h0M661.3 341.9h0M611.9 394.7h0M729.5 391.8h0M790.8 434.9h0M654.6 462.5h0M632.0 508.9h0M594.3 393.8h0M645.4 536.7h0M598.5 464.5h0M587.2 357.7h0M652.1 684.8h0M632.1 735.8h0M620.3 611.9h0M632.9 660.5h0M630.3 755.2h0M593.7 794.4h0M592.9 725.3h0M587.0 708.1h0M603.0 795.3h0M601.8 717.2h0M600.6 745.4h0M598.4 757.4h0M593.8 802.7h0M602.6 812.1h0M590.5 806.4h0M586.1 759.8h0M598.5 767.6h0M597.0 768.4h0M589.1 776.4h0M585.8 713.0h0M595.4 802.4h0M603.0 740.0h0M594.4 735.8h0M601.0 732.6h0M598.6 773.2h0M595.8 762.9h0M603.7 748.9h0M603.4 748.1h0M595.0 796.2h0M599.3 796.4h0M590.8 743.9h0M591.8 742.9h0M591.3 753.4h0M593.2 741.5h0M588.2 771.7h0M586.9 808.8h0M591.3 727.1h0M600.7 784.0h0M603.9 755.1h0M587.1 760.0h0M588.6 781.4h0M593.1 783.7h0M593.0 717.1h0M587.6 752.8h0M586.8 728.7h0M588.3 772.3h0M602.2 713.3h0M597.9 729.2h0M589.8 760.8h0M586.6 750.4h0M593.7 761.2h0M601.0 774.9h0M595.6 715.5h0M595.6 717.2h0M592.1 702.6h0M597.7 733.2h0M595.8 774.5h0M600.5 797.1h0M598.2 789.1h0M588.2 722.1h0M602.5 770.2h0M604.5 719.6h0M592.8 704.0h0M595.3 790.8h0M599.9 775.8h0M588.9 757.9h0M600.9 756.7h0M586.3 748.6h0M586.3 779.9h0M602.1 788.2h0M599.4 702.7h0M604.2 742.7h0M589.8 732.5h0M588.7 645.5h0M587.0 690.6h0M591.5 642.0h0M591.5 695.8h0M596.5 629.0h0M588.2 660.0h0M586.0 699.6h0M591.7 674.6h0M595.5 676.7h0M589.5 679.6h0M587.6 687.2h0M594.1 636.7h0M588.5 691.6h0M586.1 679.9h0M596.6 634.2h0M588.0 668.0h0M588.4 668.0h0M588.2 700.0h0M588.0 696.0h0M590.8 697.3h0M590.5 689.4h0M588.9 659.3h0M591.8 660.4h0M596.3 689.2h0M599.1 689.8h0M598.7 687.7h0M605.6 684.2h0M603.8 685.2h0M612.9 803.1h0M608.5 738.5h0M605.5 785.7h0M605.1 709.1h0M588.9 810.7h0M597.0 812.5h0M597.6 809.6h0M597.2 810.8h0M589.0 811.0h0M588.7 810.9h0M588.8 614.0h0M587.9 567.0h0M591.7 582.5h0M590.3 600.4h0M593.4 584.0h0M590.5 603.2h0M587.8 611.9h0M592.7 616.8h0M586.2 619.5h0M593.9 589.3h0M588.5 612.9h0M586.4 599.4h0M591.1 602.9h0M594.2 614.1h0M591.4 620.1h0M599.2 567.8h0M598.3 594.6h0M598.1 614.8h0M596.3 576.2h0M590.0 507.5h0M592.9 532.5h0M587.2 538.0h0M591.2 497.1h0M588.2 557.0h0M586.6 505.4h0M590.0 521.5h0M593.5 524.9h0M594.1 518.7h0M593.7 496.2h0M590.3 420.6h0M587.9 432.4h0M591.6 451.3h0M592.1 450.2h0M600.9 429.6h0M587.4 355.3h0"/>
<path d="M585.4 319.3h0M642.9 319.8h0M604.4 355.3h0M598.5 383.8h0M664.7 346.9h0M610.2 400.5h0M740.9 387.1h0M725.0 409.2h0M648.8 473.4h0M643.7 514.9h0M594.4 394.4h0M636.2 544.9h0M615.3 470.9h0M585.9 382.1h0M651.7 684.5h0M679.8 728.4h0M620.6 612.6h0M622.0 667.2h0M615.3 754.3h0M587.2 806.8h0M587.1 720.8h0M586.2 783.2h0M592.4 726.8h0M598.1 742.1h0M604.5 746.3h0M591.3 745.0h0M596.4 723.8h0M588.0 739.2h0M589.7 731.4h0M600.5 770.8h0M592.4 738.1h0M597.5 760.6h0M604.4 727.4h0M593.8 749.4h0M604.5 782.0h0M596.3 801.5h0M598.2 765.3h0M596.8 769.5h0M585.9 728.1h0M600.2 794.9h0M593.2 731.0h0M604.4 736.8h0M594.6 791.1h0M604.1 769.0h0M595.8 788.3h0M597.1 779.3h0M587.5 755.6h0M594.8 738.3h0M586.7 730.1h0M604.6 776.2h0M604.5 756.9h0M588.4 729.9h0M601.9 760.7h0M594.0 708.9h0M603.4 805.3h0M601.1 778.4h0M587.8 783.0h0M602.8 707.7h0M595.7 798.7h0M585.8 771.0h0M601.3 783.9h0M593.0 701.0h0M603.0 747.3h0M594.3 700.2h0M603.2 807.7h0M604.5 808.7h0M590.4 749.8h0M595.6 718.9h0M596.5 732.4h0M588.7 711.3h0M599.3 706.5h0M586.4 703.9h0M597.2 719.7h0M596.0 770.1h0M590.1 755.9h0M598.9 749.5h0M594.6 801.4h0M587.5 735.6h0M602.9 790.2h0M593.1 710.3h0M591.7 781.9h0M592.9 793.0h0M598.9 754.0h0M589.7 761.7h0M588.8 800.8h0M603.6 807.9h0M600.6 783.5h0M590.0 658.7h0M588.4 673.1h0M592.6 630.3h0M587.7 659.8h0M594.1 695.2h0M586.1 648.8h0M587.6 655.7h0M592.0 673.3h0M592.1 693.7h0M589.1 668.2h0M586.8 648.9h0M594.4 697.4h0M591.4 651.3h0M594.7 666.4h0M588.2 698.5h0M589.8 657.8h0M587.9 662.9h0M588.9 658.6h0M590.0 649.1h0M595.6 679.7h0M589.8 669.2h0M587.3 644.3h0M595.9 663.1h0M606.1 638.1h0M605.8 655.8h0M602.0 651.7h0M596.0 640.1h0M598.6 636.2h0M612.9 783.6h0M607.4 732.5h0M606.1 754.0h0M611.7 718.8h0M608.0 808.8h0M600.7 813.0h0M587.2 807.8h0M590.7 809.3h0M593.7 808.1h0M598.2 809.2h0M592.2 606.6h0M585.9 603.9h0M590.9 596.8h0M591.2 622.7h0M590.3 601.0h0M589.8 598.1h0M593.1 617.4h0M586.6 587.9h0M593.2 619.1h0M590.0 624.7h0M594.1 596.7h0M587.5 615.8h0M592.0 563.8h0M588.1 561.3h0M587.2 594.5h0M596.6 560.9h0M597.3 623.9h0M604.1 621.3h0M594.4 611.2h0M592.0 506.3h0M592.3 534.4h0M587.8 549.5h0M593.0 554.1h0M591.1 555.2h0M591.5 551.2h0M587.1 510.1h0M589.3 559.1h0M599.6 511.8h0M594.0 526.4h0M591.8 445.2h0M593.6 426.5h0M587.2 422.6h0M592.6 478.4h0M597.1 460.1h0M587.6 354.8h0"/>
<path d="M589.3 319.8h0M774.8 319.8h0M605.0 354.8h0M606.9 353.6h0M618.6 362.0h0M643.4 405.2h0M751.0 383.8h0M746.8 410.1h0M656.3 473.4h0M616.9 516.1h0M593.8 393.6h0M610.2 532.9h0M615.8 470.2h0M584.3 447.4h0M651.9 684.1h0M680.3 729.0h0M610.2 617.0h0M621.1 680.6h0M621.1 763.6h0M589.3 766.5h0M604.4 807.9h0M599.6 812.0h0M598.4 746.9h0M600.7 746.5h0M598.7 724.5h0M602.7 798.8h0M593.4 735.8h0M598.4 712.5h0M592.6 798.4h0M586.7 764.3h0M600.7 759.1h0M600.5 722.4h0M586.2 784.8h0M589.1 726.8h0M604.2 783.0h0M590.0 810.0h0M597.1 718.3h0M600.0 805.5h0M598.9 727.6h0M589.8 753.2h0M596.5 750.7h0M603.6 710.5h0M598.0 766.5h0M604.3 805.1h0M586.8 743.5h0M596.9 766.6h0M587.2 700.6h0M593.5 729.1h0M599.9 811.7h0M593.7 759.0h0M594.5 720.9h0M595.4 812.4h0M596.1 755.5h0M588.9 737.1h0M601.1 780.1h0M599.5 702.0h0M587.5 711.1h0M587.6 807.6h0M596.6 808.3h0M597.9 810.3h0M589.7 737.7h0M585.8 775.1h0M598.4 700.1h0M586.7 810.5h0M592.8 781.7h0M597.2 723.4h0M602.9 748.8h0M588.3 797.1h0M588.9 701.1h0M591.5 716.8h0M603.7 776.0h0M604.5 769.6h0M590.2 785.0h0M597.3 793.1h0M588.6 714.4h0M602.0 719.6h0M593.0 716.4h0M592.0 769.6h0M589.9 781.6h0M594.0 810.3h0M591.9 803.6h0M600.0 739.6h0M595.1 790.1h0M588.5 728.7h0M589.5 700.3h0M601.2 732.8h0M592.7 781.2h0M589.8 646.6h0M589.7 650.6h0M594.5 634.2h0M587.4 648.7h0M590.5 674.1h0M590.7 630.5h0M586.6 694.2h0M596.0 691.7h0M587.4 691.2h0M593.8 692.9h0M592.7 688.8h0M590.8 696.0h0M590.7 674.8h0M587.7 647.8h0M590.0 659.8h0M586.7 638.8h0M595.8 693.7h0M594.0 665.3h0M586.6 671.4h0M589.8 656.8h0M586.4 629.3h0M591.3 631.9h0M596.2 698.3h0M596.8 696.0h0M607.7 633.2h0M595.7 681.3h0M596.5 653.1h0M599.8 643.9h0M607.7 714.7h0M603.8 750.8h0M604.4 712.4h0M612.9 751.8h0M605.8 810.7h0M602.4 808.6h0M593.9 812.6h0M603.1 812.0h0M610.8 810.5h0M598.2 810.8h0M587.1 560.7h0M593.5 613.7h0M592.1 597.1h0M588.1 580.2h0M594.0 582.8h0M588.2 562.7h0M590.2 590.1h0M587.5 564.0h0M593.7 593.7h0M586.9 587.8h0M593.8 593.6h0M592.4 585.9h0M591.8 608.9h0M588.2 600.9h0M588.1 614.7h0M601.2 576.1h0M604.0 604.0h0M600.4 582.4h0M586.7 550.7h0M591.2 516.3h0M589.5 531.4h0M593.5 554.1h0M586.9 532.0h0M590.1 532.7h0M587.6 491.7h0M592.7 555.6h0M587.8 498.1h0M593.8 549.3h0M595.0 506.8h0M588.3 477.5h0M591.0 474.5h0M586.0 452.2h0M588.2 486.3h0M600.2 436.2h0M588.7 372.1h0"/>
<path d="M589.2 319.6h0M666.4 330.5h0M607.7 357.8h0M606.6 353.8h0M632.9 371.2h0M706.2 386.8h0M754.3 381.8h0M747.0 410.0h0M672.7 474.2h0M607.7 514.4h0M595.2 403.9h0M610.3 532.3h0M613.6 484.3h0M584.3 459.2h0M650.4 689.8h0M680.0 728.1h0M610.1 617.1h0M621.7 680.3h0M626.1 770.8h0M598.2 763.5h0M603.3 720.4h0M600.6 722.5h0M588.7 705.3h0M588.7 701.4h0M590.3 755.4h0M602.9 805.3h0M603.1 778.0h0M594.1 744.5h0M599.1 766.5h0M596.2 782.8h0M602.5 804.7h0M585.8 743.0h0M603.9 758.0h0M587.9 758.0h0M593.4 732.3h0M603.2 716.4h0M596.8 725.5h0M587.5 746.4h0M590.5 802.9h0M594.4 722.8h0M598.2 743.2h0M586.9 787.9h0M604.2 727.1h0M597.3 802.2h0M597.7 732.7h0M601.0 793.2h0M588.4 780.5h0M598.6 774.7h0M586.0 769.1h0M603.5 782.0h0M590.2 741.4h0M591.8 744.8h0M602.8 753.0h0M596.0 755.5h0M586.8 713.0h0M589.6 769.3h0M591.3 722.5h0M604.5 707.6h0M586.4 808.7h0M587.7 780.8h0M595.1 706.8h0M589.8 791.2h0M587.4 760.4h0M594.6 748.8h0M593.9 749.8h0M603.8 790.8h0M601.6 733.7h0M597.6 758.2h0M589.4 733.2h0M603.8 755.6h0M604.1 735.8h0M601.3 789.6h0M599.8 746.9h0M599.7 799.7h0M594.9 762.0h0M603.7 755.7h0M589.3 732.3h0M598.9 761.1h0M586.1 736.1h0M593.9 709.0h0M591.0 741.6h0M594.5 715.8h0M603.9 772.2h0M590.8 782.0h0M601.0 752.8h0M600.7 774.2h0M599.1 707.2h0M591.7 677.2h0M588.7 676.9h0M592.4 634.7h0M591.3 642.9h0M589.6 635.7h0M588.3 682.7h0M596.5 639.6h0M587.4 665.2h0M590.3 678.8h0M595.7 632.8h0M588.6 663.5h0M586.8 667.6h0M588.5 688.2h0M596.3 645.3h0M591.7 650.5h0M588.5 642.5h0M587.1 662.2h0M590.1 682.4h0M586.5 665.3h0M591.9 637.1h0M589.1 693.9h0M594.6 695.1h0M588.7 686.0h0M602.6 654.1h0M596.4 643.6h0M598.2 637.8h0M596.1 658.8h0M605.1 732.8h0M607.7 744.1h0M611.3 743.2h0M608.8 810.7h0M609.2 796.6h0M601.2 812.6h0M591.9 812.7h0M606.5 811.9h0M598.4 807.6h0M605.1 808.9h0M608.3 813.2h0M589.5 627.3h0M591.1 620.2h0M594.1 619.9h0M589.3 623.9h0M586.9 625.7h0M591.5 591.2h0M593.0 593.9h0M587.2 596.1h0M589.5 607.8h0M587.5 615.4h0M588.7 582.0h0M592.2 566.4h0M592.2 613.2h0M588.6 576.5h0M589.2 619.9h0M597.0 618.7h0M594.7 613.1h0M598.2 579.9h0M586.7 551.4h0M592.5 535.8h0M588.7 514.1h0M586.0 508.4h0M589.2 559.0h0M593.2 556.5h0M591.5 546.1h0M587.4 524.7h0M592.4 537.3h0M600.5 536.2h0M600.3 532.5h0M593.7 435.6h0M592.9 445.4h0M587.0 450.2h0M591.7 429.9h0M594.2 437.6h0M586.9 342.6h0"/>
<path d="M590.0 320.1h0M712.4 336.9h0M607.6 357.6h0M612.7 355.3h0M676.1 363.7h0M682.3 420.6h0M753.6 381.3h0M759.3 403.9h0M620.3 458.3h0M627.0 444.1h0M595.3 403.3h0M620.3 549.6h0M610.2 492.7h0M682.3 632.0h0M647.1 694.0h0M621.1 565.9h0M616.9 618.6h0M620.7 680.8h0M613.6 776.1h0M599.1 734.6h0M587.1 812.6h0M589.1 741.3h0M601.5 810.9h0M595.3 714.5h0M588.5 778.6h0M595.1 738.9h0M604.2 774.0h0M598.1 808.9h0M598.9 799.4h0M586.2 769.4h0M597.7 786.2h0M585.9 721.7h0M587.0 799.7h0M594.4 768.7h0M588.7 772.7h0M591.2 802.1h0M597.6 731.1h0M587.4 801.6h0M585.9 747.5h0M588.0 803.2h0M599.4 793.4h0M600.1 762.5h0M595.2 717.8h0M588.3 767.1h0M596.9 772.3h0M600.8 752.8h0M589.6 747.0h0M596.1 787.5h0M585.9 782.6h0M598.3 778.2h0M593.4 702.5h0M600.1 792.2h0M588.0 721.4h0M603.0 760.7h0M588.3 790.3h0M590.2 797.1h0M601.8 778.8h0M587.7 747.4h0M598.9 801.7h0M601.7 756.6h0M591.1 719.3h0M597.4 776.8h0M588.1 782.5h0M604.4 796.5h0M598.0 811.1h0M595.0 703.6h0M603.0 773.5h0M593.9 805.1h0M591.7 740.3h0M594.4 781.7h0M588.7 731.9h0M597.3 759.4h0M596.4 747.0h0M589.1 776.9h0M602.5 776.9h0M597.1 747.1h0M589.8 743.3h0M592.4 702.5h0M595.6 762.8h0M600.2 731.3h0M588.1 762.7h0M604.3 782.5h0M596.6 748.6h0M595.1 727.0h0M604.0 795.8h0M592.2 773.5h0M600.1 798.7h0M588.7 693.3h0M593.8 677.2h0M586.6 692.5h0M591.0 636.3h0M590.3 648.0h0M595.2 659.1h0M586.6 678.0h0M587.9 689.9h0M591.4 679.3h0M590.2 678.7h0M592.9 655.2h0M594.8 651.3h0M593.1 655.9h0M596.0 693.1h0M593.9 678.9h0M593.4 638.4h0M589.7 680.4h0M592.6 641.9h0M594.3 661.2h0M592.1 671.7h0M595.1 655.1h0M589.7 637.4h0M595.0 659.9h0M597.6 661.7h0M604.2 659.8h0M604.6 665.8h0M602.3 667.1h0M609.9 718.0h0M606.8 791.5h0M608.1 755.0h0M612.0 738.3h0M609.2 807.8h0M607.9 812.5h0M609.2 807.4h0M591.1 808.7h0M603.4 809.9h0M587.9 809.0h0M605.4 812.1h0M593.8 572.8h0M588.4 586.7h0M586.5 604.3h0M589.6 625.2h0M591.1 593.5h0M587.9 573.2h0M592.2 610.6h0M591.6 627.5h0M594.0 575.1h0M585.8 592.0h0M592.6 561.3h0M587.6 611.4h0M591.0 611.9h0M594.0 582.3h0M586.9 566.7h0M604.2 574.6h0M603.6 576.4h0M599.9 599.3h0M593.2 547.4h0M587.0 496.6h0M590.2 508.6h0M590.5 530.8h0M588.0 515.6h0M589.6 515.0h0M587.1 516.5h0M587.5 537.7h0M591.6 503.2h0M596.7 498.6h0M593.4 541.9h0M588.7 427.6h0M592.8 469.5h0M588.0 425.5h0M586.8 428.0h0M598.1 431.6h0M585.8 413.6h0"/>
<path d="M592.6 319.8h0M686.5 341.0h0M602.7 361.1h0M615.3 358.6h0M648.8 379.6h0M684.8 429.0h0M766.9 378.7h0M772.2 398.8h0M616.9 469.2h0M632.9 450.8h0M594.5 404.3h0M619.6 549.6h0M730.9 566.9h0M678.9 634.6h0M642.9 699.1h0M623.6 563.4h0M617.3 618.5h0M611.1 680.6h0M611.9 792.9h0M590.1 774.9h0M599.4 800.1h0M592.2 715.0h0M599.6 714.1h0M600.1 799.9h0M589.3 735.7h0M602.2 700.2h0M604.5 720.5h0M601.4 726.1h0M593.3 798.7h0M593.6 758.8h0M597.9 761.9h0M594.5 739.0h0M595.6 719.3h0M603.8 794.3h0M599.1 711.5h0M602.6 762.3h0M594.7 771.2h0M602.1 741.4h0M599.4 744.4h0M593.0 730.3h0M602.3 761.9h0M587.9 776.8h0M598.3 777.7h0M599.2 777.0h0M586.3 746.9h0M596.9 761.5h0M586.5 780.6h0M591.8 708.0h0M602.7 731.9h0M591.2 762.8h0M602.8 772.2h0M590.1 802.3h0M591.2 735.6h0M598.5 800.4h0M597.3 742.7h0M599.2 808.5h0M588.9 802.6h0M596.8 766.6h0M604.4 720.5h0M591.5 730.5h0M590.8 807.2h0M590.3 799.4h0M598.3 759.2h0M592.1 771.2h0M593.1 709.3h0M602.4 748.9h0M591.4 798.8h0M596.8 788.0h0M599.0 735.7h0M600.0 714.6h0M593.9 773.4h0M597.9 773.4h0M591.6 768.7h0M593.2 760.7h0M594.7 797.5h0M594.5 737.2h0M587.8 721.1h0M592.9 812.1h0M591.6 713.7h0M592.8 781.2h0M598.0 703.2h0M603.4 792.6h0M596.6 704.5h0M598.3 804.7h0M599.8 730.6h0M604.2 747.5h0M592.2 693.1h0M595.1 687.9h0M588.7 639.5h0M593.6 677.5h0M588.2 663.0h0M592.2 653.8h0M593.5 698.3h0M586.4 673.6h0M593.8 656.7h0M586.6 695.1h0M595.2 684.8h0M592.6 636.7h0M595.0 658.7h0M594.7 669.6h0M595.4 688.9h0M586.7 670.3h0M596.1 662.6h0M590.1 656.6h0M593.0 679.6h0M590.1 641.4h0M592.6 648.1h0M594.0 665.7h0M588.6 685.1h0M590.7 630.7h0M606.9 684.0h0M606.2 658.2h0M605.6 647.6h0M596.8 635.9h0M604.4 726.1h0M607.2 764.1h0M606.0 769.9h0M607.4 774.3h0M605.5 744.9h0M590.3 807.9h0M601.5 811.6h0M600.5 810.4h0M596.5 807.3h0M603.5 813.4h0M600.3 812.5h0M591.6 624.0h0M594.6 575.3h0M592.4 610.1h0M587.6 625.4h0M590.4 565.9h0M590.3 610.9h0M589.3 566.7h0M590.9 621.2h0M592.0 560.1h0M587.0 614.9h0M594.6 618.2h0M587.0 623.6h0M589.3 603.0h0M587.0 617.2h0M586.6 621.6h0M594.7 601.3h0M595.5 617.7h0M594.5 572.6h0M592.2 550.0h0M591.4 525.6h0M593.5 491.1h0M586.1 518.9h0M585.8 500.3h0M588.2 492.7h0M593.1 503.0h0M590.2 555.6h0M592.7 556.2h0M594.0 538.5h0M602.4 558.2h0M586.2 427.7h0M589.4 490.0h0M590.9 454.5h0M586.5 435.1h0M596.1 428.7h0M585.8 405.0h0"/>
<path d="M592.6 319.5h0M725.5 345.7h0M602.9 360.8h0M603.5 364.5h0M653.8 375.4h0M687.3 416.4h0M771.1 377.4h0M682.3 441.6h0M616.1 469.7h0M620.3 447.4h0M591.8 432.4h0M620.6 549.9h0M740.9 557.2h0M674.7 640.4h0M643.4 702.4h0M628.7 578.4h0M606.9 615.3h0M611.9 687.3h0M613.6 813.0h0M603.7 707.1h0M602.7 798.8h0M600.4 782.2h0M586.0 770.0h0M591.9 785.0h0M602.8 798.0h0M602.1 704.6h0M593.9 719.3h0M589.2 752.2h0M586.3 751.5h0M600.3 735.4h0M593.4 774.1h0M599.9 701.0h0M588.1 709.9h0M586.9 705.8h0M603.6 769.4h0M585.9 799.7h0M586.3 803.6h0M600.6 758.9h0M598.5 748.0h0M602.9 732.1h0M591.7 711.9h0M587.3 738.0h0M589.9 768.3h0M598.8 773.1h0M601.3 747.7h0M602.4 788.5h0M600.6 804.4h0M603.0 750.4h0M585.7 808.3h0M599.6 788.7h0M595.3 799.8h0M603.1 766.1h0M587.9 793.8h0M595.6 767.0h0M588.8 745.3h0M586.9 806.1h0M597.8 781.4h0M597.9 711.3h0M597.9 735.5h0M602.3 779.1h0M590.5 725.8h0M589.6 724.6h0M603.5 764.1h0M602.5 734.4h0M585.9 732.9h0M602.0 787.8h0M596.1 762.1h0M586.7 707.4h0M591.5 792.3h0M594.6 758.6h0M603.0 742.2h0M587.2 791.7h0M600.8 791.1h0M603.6 801.4h0M587.7 761.6h0M588.9 762.1h0M599.3 769.9h0M596.9 775.2h0M597.1 746.5h0M586.1 774.6h0M600.2 755.1h0M595.5 792.8h0M603.3 806.5h0M598.8 804.1h0M594.7 717.0h0M603.9 752.2h0M590.6 647.6h0M595.0 640.2h0M585.8 659.6h0M593.1 660.6h0M593.3 670.5h0M596.3 687.3h0M595.4 651.2h0M594.2 661.6h0M591.1 689.5h0M590.2 667.1h0M594.4 650.2h0M594.3 670.6h0M588.0 634.0h0M596.6 660.4h0M591.5 677.3h0M591.5 670.5h0M596.6 665.3h0M593.1 642.7h0M589.0 661.6h0M591.1 691.8h0M595.5 684.4h0M594.6 649.7h0M592.3 664.9h0M595.9 633.8h0M603.4 653.4h0M597.1 685.6h0M605.8 635.7h0M602.7 639.3h0M609.8 776.7h0M604.1 720.4h0M610.4 724.4h0M603.7 812.5h0M607.7 794.1h0M608.5 812.2h0M597.1 812.0h0M608.6 809.5h0M605.8 811.3h0M592.7 811.7h0M596.2 808.9h0M590.1 566.8h0M588.6 619.8h0M588.6 595.8h0M587.7 617.5h0M588.8 622.9h0M594.6 620.3h0M592.5 575.0h0M591.6 589.0h0M591.8 591.9h0M587.4 608.0h0M593.2 609.9h0M590.9 568.0h0M585.8 595.3h0M587.8 565.8h0M587.3 581.4h0M594.0 572.1h0M596.2 590.3h0M597.4 601.4h0M589.2 550.0h0M591.8 510.4h0M587.6 514.9h0M587.1 551.3h0M589.1 555.7h0M591.6 515.3h0M593.2 540.5h0M590.1 535.4h0M592.2 505.8h0M603.2 514.5h0M599.6 555.4h0M589.5 453.0h0M587.4 484.4h0M588.8 420.4h0M590.7 426.7h0M593.1 432.7h0M586.7 357.3h0"/>
<path d="M596.0 319.8h0M606.9 344.4h0M610.2 360.3h0M629.5 357.8h0M658.8 372.4h0M691.5 413.1h0M776.1 375.7h0M694.5 443.6h0M627.8 475.9h0M615.3 448.3h0M592.0 432.5h0M622.8 561.4h0M745.1 552.1h0M668.9 651.3h0M644.2 702.2h0M613.6 586.0h0M606.3 615.8h0M615.3 697.4h0M593.6 762.2h0M587.7 812.1h0M585.9 798.8h0M593.7 764.9h0M593.3 805.7h0M598.5 762.2h0M603.6 787.8h0M598.5 707.9h0M594.6 757.4h0M595.2 778.9h0M601.6 722.2h0M589.7 713.2h0M599.7 714.3h0M598.6 809.1h0M590.4 759.4h0M589.3 701.2h0M599.9 805.7h0M600.8 729.6h0M590.1 719.1h0M598.0 793.0h0M600.8 717.4h0M590.1 723.9h0M586.0 788.1h0M586.1 715.5h0M599.8 796.3h0M596.0 764.3h0M597.9 701.8h0M586.9 747.6h0M600.6 806.1h0M591.2 766.6h0M592.7 734.8h0M597.9 750.2h0M601.1 743.2h0M597.5 774.2h0M594.8 765.6h0M591.4 803.1h0M588.1 789.9h0M599.3 705.2h0M595.1 725.2h0M589.5 807.5h0M590.1 775.2h0M588.5 727.8h0M593.3 794.1h0M592.8 787.1h0M588.8 807.6h0M599.2 731.9h0M596.8 714.4h0M599.0 788.9h0M597.2 759.3h0M598.7 767.9h0M591.8 784.5h0M589.7 761.8h0M604.1 761.8h0M591.5 806.2h0M593.6 778.1h0M596.1 809.4h0M598.9 794.0h0M589.5 801.8h0M598.7 803.8h0M602.3 747.2h0M602.1 724.9h0M588.4 716.8h0M602.6 775.5h0M600.1 729.8h0M590.3 787.1h0M590.9 704.0h0M602.4 782.9h0M596.0 798.3h0M588.1 695.6h0M592.1 658.9h0M588.4 672.5h0M589.7 688.8h0M592.1 644.4h0M590.2 651.5h0M593.2 685.5h0M593.0 655.7h0M590.5 672.8h0M594.8 667.3h0M587.3 662.0h0M595.4 672.9h0M596.3 648.8h0M593.0 676.3h0M588.3 634.5h0M595.3 651.2h0M588.1 642.3h0M596.4 637.1h0M590.6 682.5h0M590.9 650.5h0M592.9 692.0h0M590.4 650.5h0M592.7 650.9h0M593.0 639.4h0M598.3 674.3h0M596.7 695.2h0M599.8 684.8h0M604.3 635.3h0M609.6 749.1h0M612.7 781.6h0M605.7 724.7h0M607.2 778.4h0M611.6 808.5h0M604.7 813.2h0M607.0 808.6h0M586.1 811.8h0M596.6 811.7h0M602.9 809.1h0M590.5 808.3h0M593.6 598.6h0M593.2 589.5h0M591.6 587.2h0M586.8 608.7h0M588.5 566.8h0M588.2 561.0h0M592.2 597.1h0M590.6 562.9h0M590.1 601.9h0M594.1 564.3h0M592.3 571.3h0M590.0 565.4h0M586.7 602.6h0M590.0 593.2h0M588.6 597.5h0M600.6 619.3h0M595.3 586.0h0M605.4 608.8h0M587.7 494.2h0M589.3 518.0h0M586.3 548.9h0M589.9 549.1h0M592.1 512.2h0M588.2 509.1h0M588.3 546.8h0M587.2 523.7h0M587.0 538.7h0M602.4 531.8h0M595.3 558.3h0M590.3 423.4h0M593.6 471.7h0M592.1 440.5h0M587.0 488.2h0M603.4 431.3h0"/>
<path d="M595.6 319.9h0M611.1 343.9h0M601.0 367.0h0M637.9 351.1h0M659.5 372.5h0M695.7 410.6h0M781.1 374.6h0M641.2 420.6h0M614.4 480.9h0M610.2 410.6h0M591.9 431.7h0M623.5 561.1h0M749.3 548.8h0M665.5 653.0h0M640.4 712.5h0M614.2 586.2h0M605.2 637.1h0M615.2 697.1h0M598.0 731.1h0M586.7 714.7h0M596.5 811.4h0M597.1 764.1h0M594.3 778.7h0M587.3 810.4h0M591.9 737.2h0M591.8 710.5h0M602.3 771.0h0M599.5 788.1h0M595.9 749.6h0M600.3 782.7h0M600.1 801.0h0M588.3 800.7h0M597.2 738.0h0M599.2 751.5h0M590.2 729.9h0M587.3 724.2h0M598.3 785.5h0M591.5 758.2h0M603.8 720.7h0M603.8 721.9h0M588.1 774.2h0M596.9 779.7h0M591.9 716.8h0M599.7 718.9h0M599.4 785.2h0M600.2 753.3h0M603.2 769.9h0M591.5 741.5h0M587.0 750.8h0M600.3 712.1h0M598.9 711.4h0M592.3 783.3h0M588.7 766.0h0M588.1 759.5h0M586.2 791.0h0M586.4 747.8h0M598.1 746.3h0M602.8 709.4h0M589.7 776.1h0M601.1 775.7h0M588.8 790.6h0M595.7 744.6h0M594.1 713.6h0M601.4 708.9h0M604.0 779.9h0M589.0 760.9h0M591.6 700.7h0M593.4 782.6h0M599.6 703.6h0M594.9 793.4h0M603.6 797.1h0M596.2 711.1h0M596.1 731.6h0M593.3 802.8h0M587.3 700.9h0M586.9 782.2h0M594.7 769.0h0M600.7 730.3h0M587.1 794.9h0M595.1 766.1h0M596.1 704.1h0M590.8 791.8h0M592.2 726.7h0M589.5 727.9h0M595.3 757.4h0M599.3 807.1h0M596.1 694.2h0M588.4 668.4h0M590.4 636.7h0M596.3 676.9h0M590.5 648.2h0M593.2 667.8h0M589.1 640.8h0M595.0 692.6h0M589.8 695.7h0M587.3 641.6h0M593.0 686.4h0M592.0 677.3h0M592.6 637.4h0M587.6 695.0h0M590.0 630.5h0M592.5 684.1h0M593.2 648.9h0M595.9 665.9h0M596.2 676.1h0M596.3 671.4h0M593.5 629.4h0M591.9 690.1h0M593.7 692.3h0M589.2 649.7h0M597.5 632.3h0M598.0 656.5h0M598.0 652.4h0M602.2 646.0h0M608.4 751.5h0M605.6 735.9h0M607.1 775.9h0M606.2 718.7h0M595.0 809.9h0M610.9 808.4h0M593.8 807.5h0M599.2 811.1h0M589.5 812.2h0M604.8 807.1h0M601.6 810.3h0M589.6 624.4h0M590.6 626.8h0M589.0 579.7h0M586.8 597.3h0M589.7 580.9h0M585.8 565.5h0M594.4 574.4h0M587.3 576.1h0M594.0 571.4h0M588.5 570.5h0M587.1 562.9h0M592.4 562.1h0M589.9 626.1h0M588.4 589.2h0M586.8 579.5h0M594.5 588.2h0M603.4 611.4h0M597.4 576.0h0M592.8 537.3h0M591.0 512.7h0M591.0 504.2h0M592.4 501.1h0M592.4 497.1h0M592.6 546.8h0M592.5 532.3h0M586.8 557.8h0M593.2 530.5h0M603.6 555.3h0M600.0 508.3h0M589.6 445.5h0M592.2 466.8h0M586.2 426.1h0M588.0 450.9h0M595.3 428.0h0"/>
<path d="M601.0 319.8h0M615.3 345.6h0M600.3 367.3h0M642.9 348.6h0M662.2 370.4h0M699.0 408.6h0M786.1 373.7h0M648.8 422.3h0M633.7 487.6h0M610.3 410.0h0M600.2 444.1h0M618.6 568.1h0M753.5 544.9h0M662.2 653.8h0M636.2 718.3h0M614.3 586.5h0M605.3 637.0h0M611.9 717.5h0M587.0 706.9h0M595.3 736.5h0M589.4 744.5h0M597.3 771.4h0M586.3 704.8h0M591.6 707.9h0M600.5 762.8h0M595.3 750.8h0M597.6 765.2h0M590.2 736.5h0M593.3 710.7h0M591.6 766.4h0M604.7 773.6h0M594.3 705.2h0M602.1 789.8h0M596.1 747.6h0M588.9 767.2h0M604.5 747.3h0M586.6 791.4h0M592.9 711.4h0M596.8 740.0h0M593.5 745.5h0M598.9 736.3h0M593.8 703.0h0M597.7 703.0h0M586.2 771.0h0M587.9 730.9h0M590.5 757.1h0M602.0 731.7h0M587.7 710.4h0M586.7 739.2h0M601.3 719.5h0M595.8 763.8h0M601.3 741.2h0M592.5 802.0h0M585.9 732.0h0M594.8 798.8h0M588.8 707.1h0M589.2 747.5h0M601.9 729.3h0M595.6 713.6h0M596.2 738.9h0M595.7 806.0h0M599.0 729.8h0M590.0 763.0h0M587.9 741.0h0M601.8 799.8h0M599.9 768.7h0M589.7 771.0h0M604.0 714.0h0M590.8 739.0h0M599.6 787.9h0M586.3 725.0h0M593.2 707.7h0M589.2 748.0h0M599.1 745.5h0M604.1 780.3h0M599.6 760.9h0M599.7 788.2h0M592.2 706.3h0M594.7 761.1h0M602.1 786.2h0M601.1 771.3h0M588.0 720.0h0M590.5 805.5h0M598.9 712.7h0M600.5 796.2h0M598.1 710.6h0M594.4 648.8h0M591.2 674.3h0M596.3 653.8h0M593.1 652.8h0M595.0 656.5h0M588.2 672.4h0M595.7 642.7h0M589.0 661.7h0M594.0 679.9h0M590.0 680.0h0M590.6 679.0h0M595.3 630.3h0M589.9 643.5h0M591.4 651.4h0M586.9 648.8h0M591.4 695.1h0M591.1 668.6h0M593.7 647.1h0M592.2 653.3h0M595.6 691.1h0M591.5 680.2h0M585.9 668.5h0M590.7 660.8h0M593.0 649.5h0M600.0 668.0h0M605.8 698.3h0M597.0 640.1h0M599.8 631.1h0M605.0 741.2h0M606.4 712.9h0M605.8 725.2h0M607.4 737.6h0M594.4 810.0h0M600.4 811.9h0M606.6 809.4h0M610.7 811.7h0M597.5 809.9h0M593.1 812.1h0M592.3 807.7h0M591.0 614.8h0M593.0 605.5h0M592.5 569.0h0M588.0 615.6h0M588.7 565.3h0M589.9 582.0h0M585.9 604.5h0M592.7 594.9h0M587.1 611.8h0M592.6 596.8h0M587.5 586.2h0M586.7 594.6h0M591.9 607.9h0M591.6 580.9h0M592.7 588.3h0M602.5 605.9h0M594.4 597.4h0M595.9 605.3h0M590.3 500.0h0M593.6 504.8h0M590.7 500.5h0M592.9 542.2h0M588.0 542.8h0M590.9 533.9h0M588.6 526.4h0M586.2 508.5h0M591.5 509.4h0M596.1 529.0h0M601.9 516.3h0M590.5 476.7h0M592.8 450.5h0M590.2 473.8h0M592.1 476.8h0M596.4 488.7h0"/>
</g>
<path d="M586.4 198.6 V848.0" stroke="#111" stroke-width="1" stroke-dasharray="4.2 3" fill="none" shape-rendering="crispEdges"/>
<path d="M571.2 628.4 H881.7" stroke="#111" stroke-width="1" stroke-dasharray="4.2 3" fill="none" shape-rendering="crispEdges"/>
<path d="M586.4 422 V818" stroke="#000" stroke-width="2.1" stroke-dasharray="4.2 3" stroke-dashoffset="0.2" fill="none"/>
<path d="M579.2 628.4 H615" stroke="#000" stroke-width="2.1" stroke-dasharray="4.2 3" stroke-dashoffset="8" fill="none"/>
<rect x="571.2" y="198.6" width="310.5" height="649.4" fill="none" stroke="#333333" stroke-width="2.3"/>
<text x="742.5" y="268.8" font-size="33" text-anchor="middle">298</text>
<path d="M584.3 848.0 V859.3" stroke="#333333" stroke-width="3.6" fill="none"/>
<text x="597.8" y="888.2" font-size="33" text-anchor="end" transform="rotate(-45 597.8 888.2)">0</text>
<path d="M697.4 848.0 V859.3" stroke="#333333" stroke-width="3.6" fill="none"/>
<text x="710.9" y="888.2" font-size="33" text-anchor="end" transform="rotate(-45 710.9 888.2)">500</text>
<path d="M810.5 848.0 V859.3" stroke="#333333" stroke-width="3.6" fill="none"/>
<text x="824.0" y="888.2" font-size="33" text-anchor="end" transform="rotate(-45 824.0 888.2)">1000</text>
<text x="971.1" y="177.6" font-size="33" text-anchor="start" textLength="184.4">STR – (5bp)</text>
<g fill="none" stroke="#cb7672" stroke-opacity="0.32" stroke-width="9.4" stroke-linecap="round">
<path d="M915.6 320.1h0M938.2 320.4h0M991.3 324.3h0M973.4 348.6h0M948.3 377.1h0M937.7 386.5h0M931.9 408.2h0M935.7 429.0h0M943.2 465.0h0M935.7 507.7h0M927.3 546.3h0M928.2 563.4h0M931.5 660.5h0M929.0 737.6h0M920.1 651.6h0M921.0 696.6h0M920.0 714.3h0M918.7 767.1h0M918.8 691.1h0M918.7 742.4h0M918.8 676.9h0M919.0 676.8h0M919.7 726.2h0M919.3 646.3h0M919.0 727.8h0M919.6 675.6h0M920.7 704.0h0M920.7 801.8h0M920.9 732.2h0M918.7 793.5h0M920.4 631.0h0M918.8 798.7h0M919.2 670.8h0M920.4 642.3h0M919.5 691.9h0M919.8 744.8h0M919.9 676.0h0M932.4 696.4h0M930.1 745.1h0M927.0 782.1h0M927.0 809.1h0M920.6 812.9h0M920.3 543.8h0M918.6 595.3h0M919.2 614.4h0M919.6 621.6h0M920.0 579.7h0M918.8 555.0h0M919.3 593.3h0M920.2 618.1h0M920.1 623.1h0M925.2 592.6h0M919.7 488.0h0M919.9 458.0h0M921.1 399.7h0"/>
<path d="M915.0 319.7h0M946.6 320.1h0M972.2 332.3h0M975.9 355.3h0M948.4 376.4h0M942.4 388.0h0M929.8 414.8h0M935.4 428.9h0M924.8 470.9h0M918.1 501.0h0M926.5 563.0h0M930.7 582.6h0M944.6 665.9h0M930.7 751.0h0M920.4 645.4h0M920.9 746.1h0M919.0 751.6h0M919.0 647.7h0M920.3 662.0h0M920.5 776.8h0M919.2 667.5h0M918.6 674.9h0M919.0 742.2h0M919.3 696.8h0M920.4 704.6h0M920.4 641.8h0M920.4 793.4h0M919.6 797.4h0M920.8 790.4h0M921.0 639.1h0M918.9 753.0h0M920.4 738.8h0M921.1 733.2h0M919.8 636.9h0M919.7 709.8h0M920.0 673.1h0M919.7 786.0h0M927.4 710.0h0M931.1 660.0h0M925.1 802.6h0M918.6 807.4h0M933.3 808.2h0M919.4 615.7h0M919.4 547.1h0M918.7 549.3h0M918.5 559.5h0M918.5 573.3h0M920.7 585.7h0M920.8 549.8h0M920.2 564.5h0M919.8 593.7h0M923.7 548.7h0M921.3 525.6h0M920.2 434.3h0"/>
<path d="M914.8 320.0h0M946.3 320.5h0M1022.0 331.8h0M965.0 354.4h0M953.3 378.7h0M942.9 388.1h0M930.1 414.7h0M919.8 424.0h0M924.5 470.8h0M924.8 507.7h0M932.3 567.2h0M930.0 583.0h0M929.8 675.6h0M930.3 750.4h0M919.3 772.3h0M918.9 689.2h0M920.9 733.3h0M918.6 797.9h0M919.0 731.8h0M918.8 750.7h0M920.8 659.4h0M921.0 639.9h0M920.3 661.8h0M919.3 642.6h0M919.9 710.7h0M920.6 780.6h0M918.9 711.8h0M919.9 790.5h0M919.4 767.5h0M919.8 659.6h0M920.5 765.3h0M919.6 784.6h0M920.0 793.3h0M919.6 662.4h0M920.6 762.9h0M920.0 646.0h0M920.9 781.0h0M929.1 726.7h0M921.3 781.7h0M922.1 735.7h0M921.4 808.1h0M934.1 810.4h0M921.1 552.4h0M918.5 569.5h0M918.6 605.1h0M920.2 584.0h0M920.7 546.6h0M918.5 570.4h0M919.1 595.0h0M919.2 597.3h0M920.5 535.7h0M928.9 569.7h0M921.4 485.1h0M918.9 424.6h0"/>
<path d="M918.9 320.1h0M951.6 319.8h0M1027.0 331.0h0M961.7 357.0h0M962.5 371.2h0M936.5 393.8h0M930.4 415.0h0M944.1 417.3h0M939.0 472.6h0M923.1 516.1h0M919.8 551.3h0M929.0 586.8h0M930.4 676.1h0M929.0 756.0h0M920.1 810.4h0M919.6 714.3h0M919.3 735.1h0M920.7 716.2h0M918.7 731.2h0M920.2 780.8h0M919.6 758.8h0M919.1 729.7h0M920.7 653.8h0M919.0 811.2h0M920.0 743.6h0M920.6 756.5h0M920.2 683.9h0M919.0 714.2h0M919.3 665.7h0M919.5 811.2h0M919.7 725.8h0M919.1 722.9h0M919.4 661.6h0M919.5 789.1h0M920.6 763.8h0M920.1 732.5h0M919.0 689.2h0M923.3 757.2h0M922.3 694.5h0M926.3 788.4h0M929.8 811.0h0M928.5 808.1h0M918.6 602.8h0M921.0 570.9h0M920.9 549.5h0M919.0 609.6h0M919.1 593.0h0M919.8 589.8h0M919.9 576.5h0M919.3 551.4h0M918.8 576.5h0M925.4 600.7h0M919.8 484.1h0M920.9 343.6h0"/>
<path d="M919.0 319.8h0M952.0 319.5h0M1032.0 331.0h0M957.5 361.1h0M932.3 377.9h0M936.8 393.8h0M943.2 391.3h0M942.4 439.1h0M925.6 475.9h0M918.1 515.3h0M920.2 551.0h0M929.0 599.4h0M939.9 676.4h0M934.9 777.8h0M920.0 673.3h0M920.4 682.5h0M919.2 704.4h0M919.2 693.8h0M918.9 801.9h0M920.4 777.9h0M920.6 752.3h0M920.0 699.8h0M918.8 668.3h0M920.5 728.2h0M919.3 638.0h0M919.2 749.7h0M918.6 647.2h0M920.2 714.1h0M919.5 688.5h0M920.8 740.3h0M919.3 637.2h0M919.0 680.5h0M919.3 788.5h0M919.3 796.2h0M920.6 758.1h0M919.9 723.4h0M920.5 676.7h0M932.1 671.5h0M922.7 727.6h0M925.9 686.1h0M929.7 812.4h0M930.4 810.4h0M919.6 604.0h0M918.9 538.1h0M919.0 588.5h0M919.9 580.0h0M919.3 589.2h0M918.6 580.2h0M919.3 627.7h0M919.1 578.2h0M920.1 583.9h0M923.2 550.2h0M920.8 496.8h0M919.5 439.6h0"/>
<path d="M918.7 320.1h0M955.8 320.4h0M1037.9 338.5h0M956.7 361.2h0M997.7 360.3h0M937.1 394.0h0M939.9 402.2h0M938.2 445.8h0M931.5 459.2h0M1000.5 514.9h0M919.8 568.1h0M928.5 598.7h0M939.2 676.1h0M929.8 782.8h0M918.8 676.8h0M919.2 628.6h0M919.9 804.1h0M919.0 682.0h0M920.0 792.7h0M919.0 777.7h0M920.7 644.6h0M920.3 651.5h0M919.4 758.1h0M920.3 655.8h0M920.4 642.9h0M921.0 718.3h0M918.9 802.6h0M919.5 812.3h0M919.8 726.0h0M920.7 811.9h0M919.5 638.1h0M919.6 731.1h0M919.3 745.4h0M919.7 772.4h0M919.4 803.3h0M919.2 721.4h0M919.4 654.7h0M923.5 770.0h0M925.3 660.1h0M931.4 794.7h0M933.8 810.4h0M931.1 807.7h0M919.4 570.9h0M919.9 585.1h0M919.1 531.7h0M919.2 626.1h0M918.8 605.1h0M920.8 575.5h0M920.4 573.6h0M919.1 607.2h0M929.3 588.2h0M921.3 520.3h0M920.6 498.2h0M919.3 475.6h0"/>
<path d="M922.3 320.1h0M961.7 320.9h0M998.5 334.3h0M953.3 363.7h0M992.7 363.7h0M939.0 398.8h0M952.4 403.0h0M938.6 445.8h0M937.4 486.8h0M924.8 531.2h0M919.6 568.1h0M934.0 617.0h0M949.1 676.4h0M934.0 796.2h0M919.8 764.4h0M919.4 631.5h0M919.7 704.1h0M919.1 639.2h0M919.5 776.6h0M919.2 665.7h0M919.3 694.5h0M920.2 657.1h0M919.9 767.6h0M921.0 737.4h0M919.7 654.3h0M919.7 795.1h0M920.9 635.5h0M919.7 758.2h0M920.4 775.4h0M920.2 792.7h0M921.0 635.4h0M919.4 700.2h0M919.9 743.9h0M918.9 688.1h0M918.8 762.3h0M920.5 682.1h0M920.1 781.7h0M921.7 744.7h0M929.8 687.4h0M929.7 750.7h0M928.0 812.6h0M925.0 809.6h0M920.8 621.1h0M918.6 571.4h0M918.8 583.4h0M920.8 564.7h0M920.9 586.2h0M919.9 553.2h0M919.4 578.4h0M919.7 545.8h0M926.2 586.2h0M921.3 520.4h0M919.3 499.8h0M918.8 421.7h0"/>
<path d="M921.8 319.8h0M974.2 320.1h0M1003.5 336.9h0M954.0 363.0h0M981.8 370.0h0M938.9 399.6h0M952.3 403.4h0M937.5 445.1h0M936.7 487.2h0M924.8 530.4h0M917.3 344.4h0M938.2 618.6h0M934.9 684.0h0M931.5 802.9h0M919.3 639.9h0M921.1 710.2h0M918.8 650.4h0M920.1 732.6h0M919.4 712.5h0M919.1 628.0h0M920.8 721.4h0M920.6 635.8h0M918.9 655.8h0M918.5 678.6h0M920.6 783.7h0M920.2 757.1h0M919.8 640.6h0M919.4 762.1h0M919.0 779.9h0M919.4 770.5h0M920.8 768.2h0M918.8 743.6h0M919.9 646.9h0M920.8 755.3h0M921.1 754.5h0M920.8 693.9h0M920.5 796.3h0M921.4 772.2h0M922.9 680.9h0M926.9 760.8h0M926.2 810.1h0M927.7 812.6h0M920.2 561.7h0M920.0 604.7h0M920.2 600.6h0M919.0 554.3h0M920.7 596.4h0M918.9 576.3h0M920.3 565.6h0M921.0 552.2h0M926.9 586.9h0M918.5 527.2h0M919.9 501.2h0M918.8 367.9h0"/>
<path d="M922.4 320.0h0M973.8 320.0h0M1003.3 336.6h0M949.9 364.5h0M991.3 380.1h0M939.1 398.4h0M968.4 402.5h0M928.2 442.4h0M926.5 489.3h0M935.7 533.7h0M921.5 348.6h0M937.9 618.3h0M935.0 683.6h0M931.6 803.0h0M918.6 745.2h0M919.8 739.6h0M920.3 742.5h0M919.0 710.6h0M920.0 631.5h0M918.7 726.8h0M920.0 672.6h0M919.9 715.5h0M919.5 799.7h0M920.6 722.9h0M918.8 702.3h0M919.4 766.4h0M921.1 681.4h0M918.7 683.3h0M919.1 787.9h0M920.6 743.6h0M919.0 697.9h0M919.6 759.1h0M919.3 684.2h0M918.5 653.1h0M919.9 694.0h0M920.5 665.9h0M920.5 797.4h0M922.4 679.4h0M923.4 753.6h0M923.2 706.0h0M932.3 808.9h0M919.8 808.9h0M920.1 617.1h0M919.4 615.5h0M920.6 598.0h0M919.8 584.0h0M920.8 553.7h0M920.0 589.5h0M920.8 557.6h0M918.8 581.7h0M929.7 596.8h0M920.3 506.6h0M919.1 523.2h0M921.2 398.1h0"/>
<path d="M925.6 320.1h0M977.6 320.1h0M995.2 341.0h0M950.3 364.8h0M962.5 383.8h0M934.9 403.9h0M924.8 399.7h0M919.8 442.4h0M926.2 488.7h0M919.8 534.5h0M918.1 364.5h0M942.4 618.6h0M929.0 697.4h0M935.7 809.6h0M920.9 779.6h0M920.8 735.9h0M919.2 698.1h0M919.8 782.9h0M918.6 634.5h0M919.1 697.0h0M918.8 736.2h0M920.0 674.1h0M920.7 629.6h0M921.1 783.6h0M920.5 731.3h0M920.6 752.7h0M919.6 747.5h0M919.5 749.9h0M920.4 751.8h0M921.0 791.4h0M918.8 658.6h0M919.4 791.4h0M920.4 728.6h0M918.9 764.5h0M920.2 656.6h0M919.8 812.6h0M920.0 659.2h0M922.5 650.3h0M923.5 730.1h0M921.2 692.4h0M924.1 808.8h0M924.8 808.8h0M919.8 626.8h0M920.2 580.5h0M920.1 571.5h0M921.1 600.7h0M920.8 601.7h0M918.9 567.4h0M919.3 558.3h0M920.4 596.2h0M929.8 605.7h0M919.0 492.7h0M920.2 480.1h0M920.0 341.8h0"/>
<path d="M926.1 320.6h0M1008.6 319.8h0M985.1 339.4h0M944.1 358.6h0M961.9 384.0h0M934.6 404.5h0M948.3 395.5h0M928.2 455.8h0M927.3 488.9h0M919.6 534.9h0M918.7 364.8h0M929.8 619.5h0M933.2 696.5h0M936.1 809.5h0M920.9 685.4h0M919.3 709.9h0M920.4 638.9h0M920.5 813.0h0M920.1 645.5h0M918.8 642.7h0M919.7 779.9h0M920.2 684.8h0M919.3 788.9h0M919.8 729.5h0M920.9 733.1h0M919.8 747.1h0M919.4 807.9h0M920.5 655.0h0M919.3 652.3h0M920.8 720.4h0M920.2 773.6h0M920.9 748.2h0M919.0 688.3h0M918.9 650.4h0M919.1 649.5h0M919.0 661.9h0M920.7 669.7h0M923.7 733.9h0M922.3 701.1h0M927.5 637.2h0M919.0 807.2h0M927.0 807.4h0M918.6 627.0h0M918.6 554.2h0M920.4 562.4h0M920.0 562.1h0M920.0 595.9h0M918.5 563.7h0M919.4 611.7h0M919.4 611.2h0M929.3 620.4h0M920.2 483.5h0M919.8 514.2h0M919.6 377.4h0"/>
<path d="M929.0 320.4h0M1035.4 319.8h0M980.9 343.6h0M938.2 367.9h0M962.5 389.6h0M935.3 403.9h0M959.1 418.1h0M936.5 460.0h0M925.6 494.3h0M934.0 544.6h0M922.3 363.7h0M929.6 618.7h0M937.4 708.3h0M931.5 813.0h0M920.0 669.1h0M919.0 738.6h0M918.8 736.7h0M918.7 654.2h0M919.8 752.0h0M920.5 739.4h0M920.0 693.6h0M918.7 803.9h0M919.9 631.4h0M919.5 679.8h0M918.8 789.5h0M920.4 654.7h0M920.0 789.6h0M919.7 736.8h0M919.2 732.9h0M919.4 768.3h0M920.6 711.2h0M921.0 679.8h0M918.7 737.0h0M919.1 795.9h0M919.1 785.0h0M920.3 630.8h0M931.7 640.0h0M932.4 696.4h0M930.6 700.8h0M927.9 735.3h0M920.8 809.5h0M920.9 596.2h0M918.6 607.9h0M919.4 587.3h0M920.4 554.5h0M919.2 626.6h0M921.1 536.6h0M920.7 601.5h0M919.6 610.9h0M920.9 621.4h0M929.2 549.4h0M919.3 522.1h0M919.4 495.1h0M921.4 409.8h0"/>
<path d="M929.3 320.6h0M1042.1 319.8h0M980.7 343.4h0M947.4 372.0h0M934.0 388.8h0M932.3 408.9h0M944.9 420.6h0M937.0 460.2h0M925.2 494.2h0M944.9 547.1h0M917.3 368.7h0M948.3 638.7h0M938.1 708.4h0M931.6 813.7h0M920.8 666.9h0M919.3 728.9h0M919.8 689.3h0M919.8 749.1h0M920.5 805.8h0M918.9 677.2h0M920.9 711.6h0M918.7 673.6h0M921.0 710.9h0M919.7 755.8h0M920.7 770.7h0M921.1 669.2h0M919.5 701.8h0M920.8 727.7h0M919.2 692.4h0M919.1 718.0h0M919.3 806.3h0M919.0 628.8h0M920.8 690.2h0M920.2 784.8h0M920.8 704.5h0M920.0 714.3h0M921.1 701.6h0M932.1 748.2h0M924.6 750.7h0M921.1 686.9h0M922.7 811.2h0M921.0 533.9h0M920.3 536.4h0M920.5 583.9h0M919.9 540.3h0M919.6 567.9h0M921.0 530.4h0M919.6 602.3h0M919.2 552.0h0M920.7 594.1h0M928.7 615.5h0M919.9 496.9h0M919.2 483.2h0M918.7 410.3h0"/>
<path d="M931.5 320.1h0M1201.2 319.8h0M976.7 346.1h0M948.2 371.6h0M938.2 387.1h0M932.6 408.6h0M954.1 428.2h0M935.8 460.6h0M932.3 503.6h0M944.9 552.1h0M932.3 567.5h0M930.7 651.3h0M929.8 732.6h0M918.8 667.3h0M919.0 798.7h0M918.9 682.6h0M918.6 786.4h0M920.9 731.9h0M920.6 722.5h0M920.4 731.7h0M920.7 797.3h0M918.8 706.8h0M920.1 628.4h0M918.8 725.4h0M919.2 728.8h0M921.0 670.9h0M918.5 686.1h0M920.6 684.1h0M920.8 758.8h0M920.0 639.5h0M920.2 699.2h0M920.6 795.9h0M918.5 744.5h0M918.9 710.4h0M919.7 639.3h0M920.7 704.4h0M926.9 811.4h0M921.7 672.3h0M922.5 695.5h0M931.2 740.1h0M927.7 809.3h0M920.6 603.1h0M918.8 553.1h0M919.2 553.4h0M919.2 623.1h0M919.6 579.4h0M918.6 549.8h0M918.9 580.0h0M918.9 599.2h0M919.5 603.3h0M926.1 625.4h0M921.0 513.3h0M921.2 349.5h0M918.6 338.1h0"/>
</g>
<path d="M919.2 198.6 V848.0" stroke="#111" stroke-width="1" stroke-dasharray="4.2 3" fill="none" shape-rendering="crispEdges"/>
<path d="M904.0 628.4 H1214.5" stroke="#111" stroke-width="1" stroke-dasharray="4.2 3" fill="none" shape-rendering="crispEdges"/>
<path d="M919.2 326 V818" stroke="#000" stroke-width="2.1" stroke-dasharray="4.2 3" stroke-dashoffset="5.0" fill="none"/>
<path d="M912.0 628.4 H929" stroke="#000" stroke-width="2.1" stroke-dasharray="4.2 3" stroke-dashoffset="8" fill="none"/>
<rect x="904.0" y="198.6" width="310.5" height="649.4" fill="none" stroke="#333333" stroke-width="2.3"/>
<text x="1075.5" y="268.8" font-size="33" text-anchor="middle">185</text>
<path d="M917.1 848.0 V859.3" stroke="#333333" stroke-width="3.6" fill="none"/>
<text x="930.6" y="888.2" font-size="33" text-anchor="end" transform="rotate(-45 930.6 888.2)">0</text>
<path d="M1030.2 848.0 V859.3" stroke="#333333" stroke-width="3.6" fill="none"/>
<text x="1043.7" y="888.2" font-size="33" text-anchor="end" transform="rotate(-45 1043.7 888.2)">500</text>
<path d="M1143.3 848.0 V859.3" stroke="#333333" stroke-width="3.6" fill="none"/>
<text x="1156.8" y="888.2" font-size="33" text-anchor="end" transform="rotate(-45 1156.8 888.2)">1000</text>
<text x="1303.9" y="177.6" font-size="33" text-anchor="start" textLength="184.4">STR – (6bp)</text>
<g fill="none" stroke="#ef6a4e" stroke-opacity="0.3" stroke-width="9.4" stroke-linecap="round">
<path d="M1251.1 320.1h0M1287.1 319.8h0M1277.1 383.8h0M1262.7 430.7h0M1256.9 502.9h0M1256.1 541.2h0M1353.6 562.0h0M1260.3 607.7h0M1264.3 700.5h0M1267.9 777.8h0M1253.3 667.2h0M1251.5 757.7h0M1252.7 746.6h0M1252.9 619.7h0M1252.6 612.1h0M1254.5 613.5h0M1253.5 810.9h0M1254.1 805.3h0M1254.2 774.4h0M1251.5 767.2h0M1252.3 806.6h0M1253.0 757.6h0M1254.0 744.7h0M1253.1 642.3h0M1252.9 721.2h0M1254.2 693.4h0M1253.6 773.5h0M1252.4 628.0h0M1254.4 799.0h0M1253.8 703.6h0M1253.3 796.6h0M1253.0 709.1h0M1253.3 629.4h0M1255.4 762.2h0M1256.1 749.1h0M1258.3 745.9h0M1254.9 784.5h0M1259.8 712.8h0M1255.6 790.4h0M1258.1 797.4h0M1256.8 700.3h0M1259.6 734.0h0M1259.4 807.5h0M1254.5 708.7h0M1267.4 766.7h0M1259.7 782.8h0M1269.5 775.6h0M1259.7 808.6h0M1266.0 734.0h0M1265.8 794.9h0M1278.7 775.4h0M1256.3 808.6h0M1262.2 808.7h0M1261.7 810.0h0M1260.1 812.9h0M1261.1 606.8h0M1258.3 662.5h0M1253.3 575.4h0M1251.8 565.0h0"/>
<path d="M1250.6 319.5h0M1326.5 326.5h0M1271.7 391.8h0M1262.8 437.4h0M1259.5 507.7h0M1259.5 546.3h0M1336.9 586.5h0M1272.9 624.5h0M1271.2 709.1h0M1268.1 777.7h0M1253.3 805.7h0M1251.8 613.6h0M1251.4 742.3h0M1252.7 592.2h0M1251.4 775.0h0M1253.7 597.4h0M1252.7 624.6h0M1251.9 681.2h0M1251.7 733.5h0M1251.6 786.5h0M1253.9 643.2h0M1253.5 641.5h0M1251.7 768.5h0M1253.3 792.8h0M1252.8 629.6h0M1252.6 594.8h0M1252.2 615.1h0M1253.6 751.4h0M1252.2 726.6h0M1252.9 704.0h0M1254.3 631.3h0M1251.6 650.2h0M1253.4 704.8h0M1258.0 802.8h0M1258.8 760.1h0M1256.3 746.7h0M1260.0 812.7h0M1258.3 745.7h0M1259.4 798.8h0M1255.0 748.2h0M1257.9 741.8h0M1256.9 718.3h0M1254.7 762.0h0M1255.1 715.0h0M1270.1 746.8h0M1263.1 791.2h0M1261.6 769.3h0M1264.9 758.1h0M1262.3 802.2h0M1266.7 757.7h0M1275.7 731.4h0M1255.4 812.2h0M1255.9 807.2h0M1262.1 807.4h0M1257.7 809.2h0M1257.0 645.7h0M1259.2 592.1h0M1251.4 574.5h0M1253.9 570.6h0"/>
<path d="M1255.3 320.1h0M1287.1 335.2h0M1271.5 392.3h0M1267.0 442.1h0M1272.9 508.1h0M1353.3 561.0h0M1319.5 621.1h0M1269.5 642.9h0M1274.6 720.8h0M1264.5 784.5h0M1254.2 767.4h0M1253.3 776.6h0M1252.1 798.8h0M1252.6 632.3h0M1252.3 628.5h0M1252.6 761.0h0M1253.2 592.7h0M1254.2 727.9h0M1251.9 707.5h0M1254.7 603.2h0M1253.1 650.9h0M1252.9 786.8h0M1254.7 762.3h0M1254.7 681.1h0M1252.5 655.4h0M1252.4 610.2h0M1253.7 688.2h0M1254.2 743.7h0M1254.8 736.7h0M1252.9 612.7h0M1252.8 674.0h0M1254.5 726.7h0M1252.4 763.3h0M1255.8 706.6h0M1259.0 784.9h0M1259.5 773.5h0M1255.8 707.1h0M1258.3 738.0h0M1259.1 787.4h0M1257.0 734.3h0M1259.9 807.8h0M1257.6 758.2h0M1255.1 753.9h0M1254.4 791.1h0M1264.5 792.2h0M1266.4 779.4h0M1259.8 725.9h0M1261.9 746.4h0M1269.8 789.7h0M1264.0 735.4h0M1281.9 748.4h0M1252.3 813.2h0M1266.3 809.3h0M1262.7 807.0h0M1264.0 812.7h0M1257.1 611.5h0M1254.9 627.4h0M1253.5 557.5h0M1253.5 534.9h0"/>
<path d="M1254.5 320.3h0M1310.6 336.0h0M1267.5 411.9h0M1311.4 437.4h0M1262.0 515.3h0M1276.2 558.0h0M1300.5 667.2h0M1266.2 659.7h0M1284.6 726.7h0M1271.2 801.2h0M1254.2 711.4h0M1252.0 806.8h0M1254.4 778.5h0M1254.7 680.9h0M1254.6 777.6h0M1251.9 719.4h0M1254.3 639.4h0M1254.3 594.8h0M1252.1 703.1h0M1254.5 720.7h0M1253.2 803.1h0M1252.5 692.4h0M1254.2 714.0h0M1252.0 779.4h0M1253.2 805.3h0M1252.5 628.7h0M1254.8 646.2h0M1251.4 782.2h0M1254.6 734.5h0M1254.2 806.9h0M1251.6 674.6h0M1253.1 605.0h0M1252.9 741.1h0M1258.8 811.9h0M1257.5 714.1h0M1258.6 742.7h0M1258.8 735.0h0M1257.5 749.1h0M1256.2 720.1h0M1256.6 779.3h0M1254.4 761.5h0M1256.6 720.2h0M1258.0 811.4h0M1254.5 798.0h0M1260.0 767.9h0M1264.1 759.9h0M1259.8 722.8h0M1262.8 704.9h0M1268.1 743.3h0M1259.8 785.2h0M1275.5 704.7h0M1264.2 808.2h0M1256.5 812.6h0M1266.3 810.9h0M1266.3 807.6h0M1256.3 601.3h0M1256.8 689.3h0M1253.1 587.0h0M1254.2 409.9h0"/>
<path d="M1254.9 319.6h0M1313.1 343.2h0M1267.5 412.0h0M1253.6 457.0h0M1261.3 515.0h0M1272.9 563.0h0M1289.6 706.1h0M1265.9 659.6h0M1279.6 734.2h0M1270.9 801.3h0M1253.8 808.3h0M1253.7 669.0h0M1253.7 783.4h0M1251.5 594.3h0M1252.2 590.1h0M1252.0 779.8h0M1251.6 655.7h0M1254.1 683.5h0M1254.4 757.5h0M1251.5 741.1h0M1254.8 799.3h0M1252.5 765.6h0M1251.8 646.3h0M1252.4 742.0h0M1252.1 646.4h0M1252.3 622.7h0M1252.7 704.6h0M1253.1 786.1h0M1252.5 643.6h0M1252.3 632.7h0M1251.3 714.9h0M1252.5 762.0h0M1252.0 736.1h0M1259.5 750.7h0M1256.3 800.7h0M1257.9 711.5h0M1257.9 753.8h0M1254.3 776.2h0M1258.1 775.6h0M1258.1 701.5h0M1259.9 809.8h0M1255.4 719.9h0M1257.9 750.3h0M1258.5 807.3h0M1259.4 712.1h0M1265.6 812.5h0M1268.5 708.7h0M1265.2 783.1h0M1260.0 718.4h0M1267.0 737.8h0M1282.7 799.0h0M1255.0 807.1h0M1256.2 809.4h0M1251.7 811.3h0M1258.2 808.8h0M1258.8 646.6h0M1267.4 641.6h0M1251.9 587.5h0M1253.2 368.9h0"/>
<path d="M1258.6 320.1h0M1267.0 341.4h0M1267.1 411.7h0M1264.2 469.5h0M1262.2 515.1h0M1261.2 563.0h0M1269.5 570.9h0M1261.2 657.2h0M1272.9 742.6h0M1252.0 738.1h0M1253.0 692.0h0M1254.3 750.3h0M1254.3 757.6h0M1254.6 742.2h0M1254.3 597.9h0M1254.3 644.2h0M1253.9 765.1h0M1253.3 789.0h0M1252.5 780.3h0M1254.2 608.0h0M1251.4 625.7h0M1251.5 781.6h0M1252.6 702.4h0M1253.7 628.3h0M1253.8 746.3h0M1254.4 734.8h0M1251.4 666.3h0M1251.3 736.2h0M1252.4 737.1h0M1252.1 630.0h0M1253.0 803.6h0M1254.2 763.3h0M1254.1 766.0h0M1255.7 703.6h0M1259.5 766.2h0M1259.2 733.2h0M1257.0 765.3h0M1258.5 748.9h0M1255.8 781.8h0M1258.2 805.5h0M1257.3 778.9h0M1258.9 736.5h0M1260.0 772.2h0M1258.3 797.2h0M1270.3 761.1h0M1262.6 755.0h0M1265.1 767.9h0M1269.0 811.0h0M1261.1 806.9h0M1277.3 734.2h0M1281.3 795.0h0M1254.2 812.2h0M1254.0 812.1h0M1257.6 812.5h0M1256.7 811.5h0M1264.7 633.2h0M1260.4 679.3h0M1252.7 540.3h0M1253.6 388.4h0"/>
<path d="M1258.7 320.0h0M1266.6 340.9h0M1252.8 417.6h0M1259.5 475.9h0M1250.3 524.5h0M1251.1 561.4h0M1268.8 571.5h0M1260.8 656.4h0M1272.2 742.2h0M1254.2 595.3h0M1252.1 752.5h0M1251.6 678.7h0M1254.4 779.0h0M1252.0 743.6h0M1253.8 728.0h0M1252.8 595.8h0M1251.7 614.6h0M1252.2 773.4h0M1254.2 790.8h0M1252.0 590.4h0M1251.5 790.3h0M1251.8 750.9h0M1254.3 780.8h0M1251.7 735.9h0M1253.8 676.9h0M1251.4 666.2h0M1251.7 676.3h0M1252.5 610.9h0M1251.5 603.4h0M1253.7 799.0h0M1251.8 609.9h0M1253.0 692.7h0M1254.5 776.4h0M1257.0 777.5h0M1259.6 739.8h0M1259.7 718.3h0M1256.4 741.4h0M1258.0 735.4h0M1257.3 786.4h0M1254.5 804.7h0M1259.3 755.9h0M1255.6 761.2h0M1258.1 797.5h0M1255.6 750.0h0M1262.3 791.3h0M1259.8 702.5h0M1261.7 726.4h0M1265.8 768.3h0M1265.5 800.2h0M1277.9 744.3h0M1272.2 796.5h0M1265.9 807.5h0M1258.7 807.1h0M1253.3 811.8h0M1258.4 809.3h0M1259.4 620.3h0M1268.7 647.5h0M1252.3 564.0h0M1252.6 406.6h0"/>
<path d="M1258.9 319.6h0M1273.7 350.3h0M1252.6 418.3h0M1258.8 475.2h0M1259.5 527.0h0M1250.4 560.9h0M1269.8 570.5h0M1278.4 669.2h0M1281.3 744.3h0M1251.6 804.2h0M1254.8 645.3h0M1252.1 638.0h0M1252.3 705.9h0M1252.0 738.5h0M1252.7 720.3h0M1252.8 670.9h0M1254.4 776.3h0M1252.3 624.0h0M1251.6 713.7h0M1254.5 640.6h0M1251.3 600.9h0M1251.4 743.6h0M1253.0 729.7h0M1251.6 671.4h0M1254.1 695.4h0M1252.4 798.3h0M1253.5 716.5h0M1254.8 688.3h0M1252.3 775.4h0M1252.9 787.0h0M1253.2 811.0h0M1252.0 665.1h0M1253.3 716.0h0M1258.1 753.2h0M1254.9 755.8h0M1259.2 702.1h0M1257.9 751.7h0M1255.6 786.8h0M1257.3 762.4h0M1259.7 744.4h0M1258.1 773.8h0M1256.3 797.7h0M1257.2 771.8h0M1257.4 783.7h0M1261.6 723.7h0M1266.7 717.9h0M1259.3 734.3h0M1263.0 785.7h0M1269.1 809.2h0M1278.7 795.3h0M1273.9 754.1h0M1254.0 812.1h0M1261.1 807.5h0M1252.4 809.5h0M1265.0 650.7h0M1266.8 678.9h0M1253.5 582.7h0M1252.1 541.8h0M1253.5 335.6h0"/>
<path d="M1262.0 320.1h0M1267.5 355.0h0M1253.0 417.0h0M1256.1 475.1h0M1277.9 534.5h0M1269.5 570.6h0M1281.3 570.9h0M1278.1 668.7h0M1276.2 752.7h0M1254.0 633.8h0M1253.0 684.1h0M1251.4 753.6h0M1253.0 683.9h0M1254.3 705.3h0M1253.8 656.3h0M1251.4 680.4h0M1254.7 670.2h0M1254.5 788.3h0M1252.4 624.2h0M1253.3 709.6h0M1252.8 718.0h0M1254.8 734.2h0M1254.4 702.9h0M1251.3 617.5h0M1252.2 772.2h0M1253.5 651.6h0M1252.1 740.1h0M1254.7 689.3h0M1252.5 805.7h0M1254.3 657.5h0M1254.3 655.7h0M1252.6 715.7h0M1254.5 651.8h0M1255.0 808.1h0M1257.9 776.2h0M1259.8 746.1h0M1254.6 809.6h0M1256.9 778.2h0M1259.0 798.2h0M1257.2 730.3h0M1257.7 714.9h0M1257.7 720.5h0M1258.7 745.9h0M1256.1 738.2h0M1271.2 725.8h0M1265.2 773.8h0M1271.2 765.1h0M1259.8 703.5h0M1259.9 718.9h0M1278.3 801.0h0M1274.0 735.8h0M1262.7 811.9h0M1264.3 811.7h0M1263.4 812.9h0M1257.3 687.3h0M1260.7 662.5h0M1253.1 540.9h0M1253.5 562.2h0M1252.6 343.8h0"/>
<path d="M1261.4 319.7h0M1285.1 360.3h0M1266.2 420.6h0M1271.2 483.1h0M1275.4 538.7h0M1269.1 569.8h0M1261.2 585.1h0M1265.8 678.6h0M1276.6 752.2h0M1253.2 672.7h0M1253.9 661.7h0M1253.6 712.3h0M1253.8 787.9h0M1253.6 680.8h0M1253.6 801.6h0M1251.5 813.3h0M1253.0 717.7h0M1254.7 691.2h0M1253.7 675.6h0M1251.4 781.6h0M1254.4 778.6h0M1252.1 676.3h0M1254.2 639.7h0M1254.2 621.1h0M1252.9 592.2h0M1251.6 788.1h0M1251.5 668.2h0M1254.2 702.6h0M1253.4 808.2h0M1251.4 786.1h0M1254.0 774.4h0M1254.1 769.5h0M1252.8 782.1h0M1259.3 701.5h0M1258.1 783.5h0M1254.4 777.4h0M1256.2 737.6h0M1257.7 801.0h0M1257.5 715.4h0M1258.7 758.8h0M1259.9 754.6h0M1254.5 760.8h0M1260.1 805.1h0M1264.3 740.0h0M1269.8 764.1h0M1259.9 737.8h0M1263.8 797.9h0M1267.4 745.7h0M1263.6 755.2h0M1274.4 746.2h0M1280.8 803.1h0M1254.6 810.1h0M1263.3 813.4h0M1260.5 810.7h0M1261.4 688.7h0M1254.3 663.7h0M1253.5 575.2h0M1252.4 564.9h0M1251.6 379.0h0"/>
<path d="M1265.3 320.4h0M1305.9 367.9h0M1264.5 427.3h0M1261.2 491.8h0M1275.1 538.9h0M1269.4 570.2h0M1279.2 584.3h0M1266.4 679.4h0M1269.5 757.7h0M1253.2 640.0h0M1251.5 772.6h0M1252.3 638.5h0M1251.5 599.2h0M1251.5 765.1h0M1251.6 790.9h0M1252.3 723.6h0M1252.4 742.8h0M1252.9 752.5h0M1254.0 612.3h0M1254.2 629.8h0M1253.5 669.2h0M1254.6 617.4h0M1253.2 630.7h0M1254.3 702.5h0M1252.7 629.3h0M1254.0 694.3h0M1254.5 663.2h0M1251.6 715.3h0M1253.5 682.5h0M1251.9 638.6h0M1251.3 795.8h0M1253.2 597.9h0M1252.6 753.5h0M1257.2 789.1h0M1254.9 767.1h0M1255.7 811.7h0M1256.5 783.6h0M1258.5 802.6h0M1257.7 770.8h0M1255.6 778.2h0M1257.0 801.8h0M1256.2 792.5h0M1255.3 746.5h0M1265.1 779.5h0M1259.7 778.0h0M1259.3 717.5h0M1262.2 812.9h0M1261.9 744.6h0M1263.4 784.9h0M1282.0 719.9h0M1272.3 807.8h0M1266.5 809.5h0M1256.0 810.3h0M1252.7 809.7h0M1254.4 696.2h0M1267.9 669.8h0M1252.5 573.0h0M1253.1 561.3h0M1252.6 503.7h0"/>
<path d="M1264.6 320.0h0M1251.1 371.2h0M1263.8 427.2h0M1257.0 492.7h0M1270.4 541.2h0M1281.3 570.9h0M1267.0 597.7h0M1277.1 679.8h0M1269.7 757.3h0M1254.3 771.9h0M1253.2 703.1h0M1252.9 706.8h0M1251.8 642.7h0M1252.3 608.5h0M1253.5 639.6h0M1253.2 694.1h0M1252.1 787.6h0M1254.1 762.6h0M1252.2 679.6h0M1254.0 807.3h0M1251.7 613.1h0M1253.8 674.8h0M1254.3 733.9h0M1252.9 735.9h0M1252.8 727.4h0M1251.9 730.6h0M1253.0 731.0h0M1252.6 807.4h0M1254.0 594.6h0M1254.4 793.5h0M1254.1 602.3h0M1253.9 786.5h0M1253.3 648.8h0M1257.6 807.5h0M1255.9 761.5h0M1259.1 752.2h0M1256.2 714.9h0M1256.2 808.2h0M1257.4 703.7h0M1257.1 795.8h0M1257.2 704.0h0M1259.9 768.0h0M1259.5 708.8h0M1260.0 739.1h0M1264.3 756.7h0M1262.3 736.8h0M1270.7 754.4h0M1269.3 767.7h0M1263.9 714.1h0M1277.0 723.6h0M1270.7 747.9h0M1263.5 811.0h0M1256.8 812.1h0M1252.9 808.7h0M1263.6 635.4h0M1256.7 660.1h0M1254.4 565.9h0M1251.7 560.1h0M1253.6 488.1h0"/>
<path d="M1268.7 320.1h0M1255.3 375.4h0M1262.0 430.7h0M1257.0 503.6h0M1251.1 537.9h0M1251.1 571.4h0M1266.7 597.5h0M1282.6 682.3h0M1275.4 764.4h0M1254.3 631.0h0M1253.9 712.1h0M1254.4 606.9h0M1253.9 638.7h0M1252.9 706.0h0M1254.2 665.2h0M1253.7 598.1h0M1252.8 640.0h0M1253.7 650.9h0M1253.0 805.0h0M1252.2 799.0h0M1253.1 749.6h0M1254.3 748.9h0M1253.0 705.8h0M1251.4 712.8h0M1252.5 664.0h0M1253.7 745.2h0M1253.7 662.8h0M1251.9 655.6h0M1252.4 617.2h0M1253.1 753.1h0M1254.7 602.9h0M1252.5 595.4h0M1253.8 676.4h0M1259.3 726.7h0M1254.4 732.3h0M1257.2 755.5h0M1257.9 792.8h0M1254.7 786.5h0M1257.9 798.9h0M1255.4 792.9h0M1256.8 769.6h0M1255.5 806.1h0M1259.5 738.3h0M1265.8 793.0h0M1261.9 758.6h0M1259.9 724.0h0M1266.4 789.6h0M1266.9 700.5h0M1263.8 803.8h0M1276.2 791.4h0M1276.5 789.1h0M1263.4 809.2h0M1253.6 810.4h0M1253.5 810.9h0M1255.3 592.6h0M1256.8 636.4h0M1252.0 576.4h0M1254.3 567.3h0M1253.5 458.0h0"/>
<path d="M1281.3 320.1h0M1272.0 381.3h0M1262.2 430.7h0M1256.9 503.8h0M1251.6 537.5h0M1250.8 570.6h0M1266.6 598.1h0M1264.5 700.7h0M1274.6 764.4h0M1254.1 603.7h0M1252.5 658.2h0M1251.5 657.4h0M1252.3 619.4h0M1252.7 810.2h0M1251.5 721.5h0M1252.1 789.9h0M1251.9 591.5h0M1254.2 625.5h0M1253.0 656.7h0M1251.4 795.3h0M1252.1 616.7h0M1254.6 741.1h0M1253.7 621.8h0M1254.1 750.2h0M1252.3 644.8h0M1252.1 721.4h0M1254.1 754.4h0M1253.1 793.7h0M1251.9 801.2h0M1251.8 634.5h0M1254.3 648.3h0M1253.5 695.3h0M1258.4 755.1h0M1259.3 734.9h0M1257.9 764.5h0M1259.0 809.6h0M1260.0 779.5h0M1256.0 705.7h0M1259.5 740.1h0M1255.8 786.8h0M1258.5 803.1h0M1259.2 707.0h0M1259.8 702.7h0M1269.4 783.8h0M1263.7 781.1h0M1262.7 806.1h0M1261.2 736.8h0M1259.6 744.9h0M1264.9 739.4h0M1273.7 751.1h0M1259.1 813.0h0M1262.6 811.8h0M1261.3 808.5h0M1251.8 807.4h0M1265.7 689.3h0M1254.6 683.3h0M1253.7 555.5h0M1254.4 545.9h0"/>
</g>
<path d="M1252.0 198.6 V848.0" stroke="#111" stroke-width="1" stroke-dasharray="4.2 3" fill="none" shape-rendering="crispEdges"/>
<path d="M1236.8 628.4 H1547.3" stroke="#111" stroke-width="1" stroke-dasharray="4.2 3" fill="none" shape-rendering="crispEdges"/>
<path d="M1252.0 466 V818" stroke="#000" stroke-width="2.1" stroke-dasharray="4.2 3" stroke-dashoffset="1.0" fill="none"/>
<path d="M1244.8 628.4 H1276" stroke="#000" stroke-width="2.1" stroke-dasharray="4.2 3" stroke-dashoffset="8" fill="none"/>
<rect x="1236.8" y="198.6" width="310.5" height="649.4" fill="none" stroke="#333333" stroke-width="2.3"/>
<text x="1407.0" y="268.8" font-size="33" text-anchor="middle">77</text>
<path d="M1249.9 848.0 V859.3" stroke="#333333" stroke-width="3.6" fill="none"/>
<text x="1263.4" y="888.2" font-size="33" text-anchor="end" transform="rotate(-45 1263.4 888.2)">0</text>
<path d="M1363.0 848.0 V859.3" stroke="#333333" stroke-width="3.6" fill="none"/>
<text x="1376.5" y="888.2" font-size="33" text-anchor="end" transform="rotate(-45 1376.5 888.2)">500</text>
<path d="M1476.1 848.0 V859.3" stroke="#333333" stroke-width="3.6" fill="none"/>
<text x="1489.6" y="888.2" font-size="33" text-anchor="end" transform="rotate(-45 1489.6 888.2)">1000</text>
<text x="1608.4" y="177.6" font-size="33" text-anchor="start" textLength="240.9">STR – (7–12bp)</text>
<g fill="none" stroke="#e8958b" stroke-opacity="0.31" stroke-width="9.4" stroke-linecap="round">
<path d="M1580.8 320.1h0M1593.7 319.8h0M1594.9 324.4h0M1634.0 367.3h0M1594.2 425.6h0M1607.2 510.3h0M1595.0 363.7h0M1605.9 618.6h0M1621.0 689.8h0M1604.2 764.4h0M1587.8 603.0h0M1588.3 679.7h0M1595.6 793.6h0M1594.2 725.7h0M1594.5 707.9h0M1587.8 794.8h0M1584.2 701.4h0M1589.6 749.9h0M1595.8 566.5h0M1594.2 786.2h0M1593.0 723.0h0M1593.7 580.0h0M1588.3 620.3h0M1587.8 607.0h0M1586.9 799.8h0M1594.0 606.3h0M1590.2 596.0h0M1588.6 700.6h0M1592.0 714.8h0M1584.9 793.8h0M1586.8 678.4h0M1592.3 731.4h0M1595.9 687.2h0M1588.6 657.6h0M1593.7 702.4h0M1586.9 731.3h0M1593.4 698.8h0M1594.1 600.7h0M1592.3 582.5h0M1595.6 563.7h0M1594.5 632.7h0M1591.1 606.0h0M1586.6 793.8h0M1589.3 564.3h0M1592.1 694.6h0M1587.4 575.9h0M1595.6 648.1h0M1587.5 585.6h0M1587.4 725.6h0M1592.8 696.3h0M1585.6 733.8h0M1588.3 604.4h0M1593.9 748.6h0M1593.8 695.8h0M1585.4 617.3h0M1595.8 608.5h0M1587.0 809.2h0M1593.5 767.8h0M1588.0 682.0h0M1590.5 734.8h0M1585.7 616.1h0M1595.2 593.5h0M1595.3 766.1h0M1595.1 698.2h0M1585.3 779.2h0M1591.8 613.0h0M1587.7 767.2h0M1588.9 591.2h0M1586.0 736.9h0M1587.8 680.8h0M1585.6 569.6h0M1591.8 791.2h0M1591.3 808.5h0M1586.4 581.5h0M1584.3 651.3h0M1591.5 739.4h0M1587.5 652.3h0M1588.3 651.8h0M1591.7 764.0h0M1585.8 614.3h0M1586.8 575.8h0M1585.1 623.2h0M1586.8 769.0h0M1585.9 642.6h0M1589.4 662.6h0M1589.9 743.4h0M1584.2 572.2h0M1593.6 787.4h0M1592.5 633.5h0M1592.4 592.6h0M1588.9 667.8h0M1589.7 698.9h0M1585.0 808.6h0M1594.1 690.0h0M1585.7 742.4h0M1593.6 680.4h0M1589.9 730.7h0M1588.7 583.3h0M1589.7 660.9h0M1594.3 793.8h0M1596.0 660.4h0M1586.5 716.2h0M1588.4 673.1h0M1594.6 767.3h0M1586.1 619.9h0M1585.6 807.9h0M1588.6 735.2h0M1589.7 660.8h0M1590.3 642.6h0M1594.3 632.6h0M1595.7 743.9h0M1585.8 689.1h0M1588.1 747.5h0M1595.1 687.2h0M1595.3 599.1h0M1591.8 575.7h0M1594.8 729.5h0M1584.3 590.8h0M1585.1 643.1h0M1584.8 602.6h0M1585.2 637.3h0M1584.9 574.8h0M1584.1 648.7h0M1584.6 571.0h0M1584.9 764.2h0M1584.3 585.6h0M1584.7 805.6h0M1595.8 813.3h0M1595.6 611.7h0M1594.8 748.6h0M1596.4 667.8h0M1595.7 667.0h0M1594.8 563.6h0M1595.8 645.8h0M1596.4 725.5h0M1595.5 719.1h0M1594.7 765.0h0M1595.5 692.6h0M1597.1 565.3h0M1597.2 656.4h0M1601.9 583.7h0M1596.6 771.3h0M1595.6 625.6h0M1596.2 673.0h0M1597.0 725.3h0M1596.6 627.0h0M1598.8 763.8h0M1602.3 699.7h0M1602.3 720.1h0M1604.2 705.9h0M1600.9 593.3h0M1594.8 808.0h0M1593.2 813.0h0M1593.6 813.1h0M1597.3 809.1h0M1590.2 527.7h0M1587.3 467.1h0M1591.8 520.2h0M1589.2 533.4h0M1590.7 476.0h0M1591.1 545.8h0M1585.9 478.4h0M1584.4 515.5h0M1588.3 505.6h0M1592.9 466.0h0M1589.1 538.5h0M1587.5 514.0h0M1589.5 511.8h0M1591.7 517.2h0M1589.0 482.6h0M1595.1 501.4h0M1597.4 495.9h0M1585.2 433.7h0M1585.2 452.0h0M1585.4 348.3h0M1584.5 338.4h0M1585.6 353.9h0M1587.4 436.3h0M1587.9 418.9h0M1584.2 414.3h0M1588.5 344.8h0M1587.5 417.0h0M1595.4 423.1h0M1593.7 405.7h0"/>
<path d="M1581.2 319.7h0M1597.5 320.1h0M1662.8 357.8h0M1607.9 371.7h0M1594.3 425.6h0M1650.3 513.6h0M1597.5 383.8h0M1635.2 615.0h0M1611.7 700.7h0M1590.5 648.7h0M1586.4 648.2h0M1586.0 631.4h0M1587.1 639.3h0M1585.1 761.7h0M1592.6 646.1h0M1595.1 695.0h0M1588.3 638.8h0M1584.9 805.5h0M1594.1 772.9h0M1591.8 619.6h0M1590.5 691.2h0M1587.6 808.1h0M1586.2 621.6h0M1584.6 680.9h0M1587.4 580.4h0M1592.1 758.4h0M1589.0 810.6h0M1586.1 758.3h0M1591.4 648.1h0M1590.1 666.0h0M1586.5 779.3h0M1591.5 720.8h0M1589.1 610.4h0M1587.8 660.6h0M1593.8 706.5h0M1594.6 561.0h0M1587.2 647.4h0M1593.6 615.7h0M1595.7 658.9h0M1586.6 566.4h0M1585.5 618.9h0M1591.2 709.6h0M1585.7 594.3h0M1585.1 686.3h0M1592.1 578.0h0M1589.8 609.6h0M1593.5 790.8h0M1588.8 754.8h0M1589.7 594.5h0M1589.7 594.9h0M1590.0 758.7h0M1586.3 753.2h0M1595.3 652.6h0M1588.1 571.4h0M1589.4 590.9h0M1586.5 689.4h0M1594.1 593.4h0M1594.2 794.5h0M1586.6 747.1h0M1590.6 623.5h0M1585.2 652.3h0M1589.2 592.6h0M1587.8 761.8h0M1585.6 601.2h0M1587.9 568.5h0M1595.6 698.2h0M1591.9 641.2h0M1590.9 673.8h0M1594.6 678.6h0M1589.3 744.1h0M1587.0 655.0h0M1595.1 604.1h0M1584.1 584.9h0M1591.2 588.5h0M1585.5 758.9h0M1589.6 628.6h0M1595.7 680.3h0M1589.5 773.0h0M1595.8 622.9h0M1589.9 634.1h0M1586.6 737.4h0M1585.4 574.9h0M1591.3 799.2h0M1585.1 661.4h0M1585.5 779.0h0M1591.5 657.7h0M1593.7 752.2h0M1586.1 702.9h0M1588.8 741.9h0M1594.8 683.1h0M1592.7 809.1h0M1590.7 706.4h0M1585.7 638.3h0M1585.9 593.0h0M1584.7 714.6h0M1589.0 615.8h0M1592.7 620.3h0M1593.7 781.0h0M1591.0 687.3h0M1590.7 723.3h0M1587.1 649.8h0M1594.4 588.3h0M1591.9 698.6h0M1588.8 591.2h0M1584.1 785.2h0M1589.8 611.7h0M1594.1 591.5h0M1588.1 696.2h0M1594.3 585.7h0M1592.0 698.1h0M1594.8 780.9h0M1589.9 768.1h0M1589.8 782.7h0M1591.7 687.4h0M1592.6 797.6h0M1593.8 630.3h0M1589.0 621.9h0M1585.3 581.8h0M1584.6 729.8h0M1585.0 565.9h0M1585.3 735.8h0M1585.4 582.0h0M1584.2 594.6h0M1585.3 663.7h0M1585.3 804.4h0M1585.1 571.1h0M1584.6 782.5h0M1596.5 711.2h0M1595.6 619.1h0M1596.1 724.0h0M1596.2 738.8h0M1595.9 658.2h0M1594.9 744.6h0M1594.6 779.6h0M1595.3 764.1h0M1594.6 639.2h0M1596.1 679.9h0M1594.7 645.5h0M1599.1 698.6h0M1595.4 798.3h0M1600.1 678.9h0M1598.1 721.7h0M1597.6 743.7h0M1598.7 726.2h0M1600.2 809.0h0M1599.3 585.6h0M1599.3 588.9h0M1606.3 722.8h0M1602.6 757.0h0M1603.1 607.2h0M1611.1 723.0h0M1592.5 812.0h0M1591.9 807.6h0M1593.8 807.6h0M1586.1 481.8h0M1585.6 479.1h0M1586.6 499.9h0M1588.7 504.5h0M1588.7 519.2h0M1584.9 535.1h0M1592.4 501.9h0M1587.7 494.6h0M1587.9 515.8h0M1591.4 528.9h0M1584.4 528.0h0M1590.9 549.1h0M1584.4 540.3h0M1588.8 474.8h0M1587.1 537.8h0M1590.2 501.0h0M1601.9 477.0h0M1599.4 538.9h0M1588.6 372.6h0M1584.7 421.5h0M1588.9 331.8h0M1588.8 373.0h0M1587.7 349.6h0M1588.8 453.0h0M1584.6 416.3h0M1587.6 461.2h0M1586.5 430.3h0M1586.1 372.9h0M1589.1 407.5h0"/>
<path d="M1580.4 319.7h0M1597.8 320.6h0M1662.8 358.2h0M1629.3 383.8h0M1603.4 443.2h0M1619.0 524.2h0M1593.3 396.3h0M1617.6 622.8h0M1631.9 707.1h0M1593.0 716.8h0M1595.1 725.9h0M1592.5 790.0h0M1592.4 682.6h0M1586.9 786.3h0M1590.7 763.7h0M1590.9 720.5h0M1588.9 657.9h0M1587.4 738.2h0M1589.7 639.5h0M1590.0 775.9h0M1592.3 664.5h0M1593.3 651.9h0M1593.0 564.9h0M1587.4 738.1h0M1595.1 783.0h0M1584.8 649.5h0M1585.2 808.0h0M1595.0 655.3h0M1586.9 737.5h0M1591.6 797.7h0M1588.4 577.7h0M1588.3 741.9h0M1588.1 622.4h0M1594.9 698.3h0M1589.5 738.8h0M1588.7 568.1h0M1592.9 626.2h0M1594.2 598.9h0M1594.9 658.3h0M1593.4 563.2h0M1590.4 764.1h0M1595.6 727.7h0M1594.7 808.6h0M1588.6 566.0h0M1589.9 570.8h0M1587.0 688.9h0M1589.6 598.1h0M1591.2 810.8h0M1590.9 728.8h0M1589.0 634.6h0M1595.4 565.2h0M1585.5 641.9h0M1586.3 748.4h0M1587.8 753.0h0M1594.4 730.8h0M1588.0 756.6h0M1588.4 795.2h0M1590.5 809.9h0M1593.7 715.8h0M1594.2 563.5h0M1594.0 767.4h0M1592.4 586.1h0M1589.4 763.0h0M1596.0 646.9h0M1584.5 706.3h0M1587.2 604.7h0M1594.3 781.9h0M1584.3 783.9h0M1594.7 652.9h0M1588.2 690.1h0M1591.6 626.1h0M1590.3 635.2h0M1587.0 740.1h0M1585.4 645.0h0M1587.0 641.9h0M1596.1 786.0h0M1593.7 804.6h0M1590.2 582.4h0M1594.5 667.9h0M1584.7 718.2h0M1588.8 793.7h0M1588.6 800.1h0M1592.6 758.0h0M1588.4 691.4h0M1590.6 813.2h0M1588.8 643.4h0M1591.3 583.9h0M1584.9 787.8h0M1589.2 589.6h0M1595.5 722.3h0M1592.4 808.2h0M1585.3 786.0h0M1585.5 783.4h0M1591.9 745.4h0M1591.7 696.7h0M1594.4 740.1h0M1589.5 606.1h0M1589.3 701.7h0M1595.0 613.0h0M1595.0 747.9h0M1586.4 693.2h0M1594.9 610.8h0M1589.2 596.8h0M1586.1 698.5h0M1585.9 663.7h0M1591.7 741.2h0M1592.6 708.5h0M1591.6 655.1h0M1588.7 697.4h0M1588.1 718.5h0M1586.7 784.9h0M1589.9 727.6h0M1587.9 601.6h0M1586.9 564.6h0M1589.4 688.1h0M1586.9 732.7h0M1586.2 681.9h0M1585.1 788.1h0M1585.2 768.7h0M1585.2 589.4h0M1584.4 575.1h0M1585.3 688.2h0M1584.2 613.9h0M1585.2 713.5h0M1584.5 812.1h0M1585.1 648.9h0M1584.6 561.1h0M1595.5 679.7h0M1595.7 593.8h0M1596.4 640.8h0M1595.2 668.6h0M1595.3 765.7h0M1594.9 804.7h0M1596.0 765.3h0M1594.7 599.3h0M1595.4 657.5h0M1595.1 664.6h0M1595.2 670.4h0M1597.2 788.7h0M1597.5 704.0h0M1599.0 718.7h0M1598.4 770.7h0M1596.2 752.9h0M1601.2 721.9h0M1600.6 598.7h0M1601.5 641.2h0M1595.2 658.4h0M1603.3 702.0h0M1610.8 723.2h0M1613.4 789.5h0M1612.2 685.3h0M1590.1 807.4h0M1586.9 808.9h0M1592.7 809.4h0M1590.3 525.7h0M1592.7 515.1h0M1584.5 515.5h0M1590.4 538.3h0M1591.7 502.5h0M1585.7 466.6h0M1590.0 510.2h0M1587.9 465.0h0M1591.7 542.0h0M1584.2 505.5h0M1593.1 488.6h0M1591.2 490.7h0M1588.1 477.9h0M1593.1 540.0h0M1587.6 534.5h0M1592.1 548.5h0M1605.0 517.5h0M1594.2 515.3h0M1586.8 375.5h0M1586.1 453.6h0M1586.5 431.2h0M1587.1 403.0h0M1584.5 371.1h0M1587.6 452.4h0M1587.7 336.2h0M1584.4 336.5h0M1585.8 438.4h0M1584.2 403.9h0M1593.9 450.4h0"/>
<path d="M1584.1 320.1h0M1598.0 320.8h0M1667.0 356.1h0M1608.4 394.7h0M1619.3 456.3h0M1615.1 539.6h0M1616.8 563.4h0M1617.9 646.3h0M1609.2 718.3h0M1584.8 674.5h0M1593.5 574.0h0M1586.5 762.3h0M1592.1 670.0h0M1589.6 734.0h0M1593.7 753.5h0M1592.6 613.9h0M1594.4 731.7h0M1593.9 772.2h0M1590.1 638.1h0M1586.3 721.9h0M1589.1 566.1h0M1592.3 674.3h0M1586.0 677.7h0M1585.0 577.5h0M1588.6 668.8h0M1585.8 667.7h0M1592.7 631.6h0M1593.3 710.5h0M1592.9 720.4h0M1594.2 697.0h0M1585.3 563.5h0M1590.4 634.6h0M1587.5 809.5h0M1585.4 727.0h0M1586.6 806.7h0M1595.9 783.5h0M1584.8 594.6h0M1591.7 610.9h0M1592.8 595.3h0M1593.7 761.5h0M1588.4 589.7h0M1593.9 727.2h0M1585.1 794.5h0M1595.0 781.1h0M1589.2 650.1h0M1591.7 715.5h0M1590.8 676.9h0M1594.9 605.0h0M1585.8 763.0h0M1594.8 722.3h0M1593.4 598.5h0M1595.2 760.8h0M1584.4 743.6h0M1586.3 581.8h0M1590.1 759.9h0M1590.6 729.2h0M1586.1 572.0h0M1586.8 643.2h0M1593.6 766.6h0M1592.6 784.3h0M1589.0 608.7h0M1595.8 809.4h0M1592.6 637.1h0M1590.4 797.3h0M1587.2 736.3h0M1591.9 701.3h0M1590.0 636.4h0M1586.5 752.4h0M1585.8 755.2h0M1593.4 654.4h0M1588.3 739.6h0M1587.2 626.4h0M1591.4 607.3h0M1586.9 745.8h0M1592.8 716.9h0M1584.1 637.1h0M1594.2 597.8h0M1596.1 638.9h0M1584.5 589.5h0M1588.6 727.6h0M1587.1 777.7h0M1593.5 644.2h0M1587.1 593.6h0M1594.7 783.1h0M1595.8 629.5h0M1595.9 766.7h0M1589.0 778.4h0M1594.4 675.4h0M1589.3 722.2h0M1593.7 776.0h0M1584.5 608.0h0M1584.9 589.2h0M1586.0 643.5h0M1593.4 743.0h0M1591.9 583.7h0M1586.2 698.1h0M1585.7 704.8h0M1589.3 686.0h0M1593.2 604.2h0M1588.6 673.0h0M1595.4 603.3h0M1588.3 655.5h0M1595.6 683.6h0M1584.7 622.6h0M1595.2 667.4h0M1587.2 641.0h0M1593.8 776.6h0M1594.0 760.0h0M1587.4 690.0h0M1589.7 616.2h0M1589.9 616.2h0M1588.2 704.6h0M1585.2 563.6h0M1586.7 803.4h0M1587.3 807.2h0M1596.0 639.2h0M1585.0 780.6h0M1584.9 651.8h0M1584.5 721.6h0M1584.9 652.1h0M1585.1 585.1h0M1584.3 577.6h0M1585.0 702.1h0M1585.3 745.0h0M1584.9 567.0h0M1584.4 573.1h0M1585.6 667.7h0M1596.0 647.6h0M1594.9 647.2h0M1595.1 764.2h0M1595.0 723.4h0M1595.1 743.4h0M1594.7 664.9h0M1595.0 772.4h0M1595.8 613.2h0M1595.0 656.8h0M1595.2 632.1h0M1596.3 798.7h0M1599.9 607.1h0M1598.2 695.7h0M1602.0 587.2h0M1597.7 789.2h0M1596.4 635.1h0M1600.1 678.0h0M1596.3 637.0h0M1600.1 584.4h0M1595.6 722.8h0M1601.6 583.1h0M1607.5 742.9h0M1611.9 672.8h0M1603.7 691.9h0M1596.8 807.2h0M1599.8 807.6h0M1595.1 807.3h0M1584.6 514.8h0M1591.1 479.4h0M1586.5 474.1h0M1584.7 519.6h0M1591.7 527.4h0M1592.5 501.2h0M1589.0 481.4h0M1588.6 532.2h0M1587.0 490.5h0M1585.9 481.3h0M1584.8 556.0h0M1585.5 491.3h0M1588.0 547.3h0M1591.8 541.1h0M1584.5 466.7h0M1587.6 511.4h0M1593.4 503.7h0M1594.5 484.8h0M1585.0 448.9h0M1587.6 354.3h0M1585.9 382.5h0M1587.1 416.7h0M1587.6 391.0h0M1585.2 406.3h0M1584.3 341.4h0M1585.0 330.6h0M1586.0 363.4h0M1588.5 359.8h0M1589.2 410.5h0"/>
<path d="M1584.2 320.5h0M1600.9 320.1h0M1667.6 355.8h0M1608.8 395.4h0M1599.2 455.8h0M1615.5 539.4h0M1616.2 564.0h0M1622.6 653.0h0M1608.7 718.0h0M1589.5 726.2h0M1588.4 574.8h0M1588.1 638.0h0M1595.4 640.0h0M1594.3 754.9h0M1590.6 796.6h0M1586.9 782.0h0M1595.4 797.9h0M1592.3 738.3h0M1590.9 745.6h0M1587.6 570.9h0M1590.5 657.8h0M1594.9 658.5h0M1593.6 569.4h0M1588.0 705.2h0M1589.8 738.0h0M1592.7 641.5h0M1590.1 569.5h0M1593.6 691.8h0M1584.8 677.9h0M1587.5 692.1h0M1591.6 812.0h0M1586.5 806.1h0M1591.8 623.8h0M1587.6 765.0h0M1586.6 681.7h0M1593.4 688.6h0M1584.7 678.2h0M1590.0 591.1h0M1585.8 579.5h0M1590.7 726.0h0M1589.3 810.3h0M1587.7 674.4h0M1584.1 720.9h0M1592.6 609.2h0M1584.7 707.0h0M1591.9 797.1h0M1594.1 640.2h0M1584.9 716.7h0M1589.6 594.9h0M1592.7 718.5h0M1587.3 683.3h0M1592.3 763.3h0M1593.0 704.8h0M1595.0 733.1h0M1584.7 778.9h0M1589.2 741.0h0M1591.3 630.2h0M1594.0 589.4h0M1595.4 739.0h0M1593.3 589.6h0M1594.9 638.8h0M1594.1 602.6h0M1595.0 596.9h0M1594.3 592.1h0M1588.1 753.8h0M1594.6 755.4h0M1591.9 662.9h0M1594.9 581.9h0M1591.9 789.1h0M1588.9 582.0h0M1595.7 708.9h0M1589.7 646.4h0M1595.7 665.2h0M1587.3 782.3h0M1590.4 685.2h0M1595.9 687.6h0M1585.1 593.6h0M1587.7 804.3h0M1595.4 650.8h0M1586.5 670.6h0M1587.6 722.0h0M1584.3 712.0h0M1586.2 678.2h0M1584.9 775.6h0M1587.7 681.8h0M1589.4 804.0h0M1587.8 654.6h0M1588.3 641.1h0M1594.2 632.0h0M1590.8 741.2h0M1594.3 811.5h0M1589.5 672.5h0M1593.9 715.1h0M1586.2 727.3h0M1585.3 708.2h0M1593.0 780.1h0M1590.2 792.9h0M1595.5 598.9h0M1587.3 768.3h0M1592.2 641.9h0M1592.9 760.1h0M1585.8 784.8h0M1586.9 632.7h0M1587.1 669.5h0M1593.7 642.8h0M1590.7 600.6h0M1591.4 562.8h0M1586.1 634.2h0M1585.7 717.4h0M1586.6 757.4h0M1595.5 664.8h0M1586.1 562.6h0M1594.7 643.7h0M1592.2 641.9h0M1588.5 607.9h0M1591.8 655.7h0M1584.4 681.6h0M1585.4 560.4h0M1585.6 564.6h0M1585.6 638.6h0M1585.0 637.4h0M1584.5 561.3h0M1585.6 707.3h0M1584.7 562.4h0M1584.5 742.5h0M1584.7 584.7h0M1584.3 739.7h0M1596.6 629.9h0M1596.2 742.2h0M1595.4 571.8h0M1595.5 689.7h0M1596.1 699.4h0M1595.5 636.4h0M1596.5 566.4h0M1595.5 637.2h0M1596.1 613.2h0M1595.0 575.5h0M1595.4 762.7h0M1600.2 705.0h0M1598.8 608.1h0M1599.8 588.3h0M1598.4 622.5h0M1599.3 688.0h0M1599.7 572.8h0M1595.5 680.6h0M1596.0 615.3h0M1599.6 601.3h0M1605.4 694.7h0M1607.5 623.4h0M1606.8 795.2h0M1609.8 708.3h0M1597.2 812.8h0M1594.5 807.4h0M1584.9 808.2h0M1585.3 512.8h0M1587.0 548.3h0M1587.9 548.5h0M1586.1 467.4h0M1585.1 503.3h0M1587.9 513.9h0M1586.5 501.5h0M1591.9 553.4h0M1591.7 488.9h0M1591.3 532.5h0M1587.4 544.4h0M1591.9 503.4h0M1589.5 514.9h0M1585.8 475.7h0M1584.3 475.1h0M1590.2 552.5h0M1598.0 483.8h0M1596.9 532.6h0M1585.2 340.5h0M1584.6 343.1h0M1588.9 461.4h0M1585.4 453.5h0M1588.7 403.4h0M1587.6 449.6h0M1587.7 408.1h0M1585.3 347.5h0M1587.1 382.3h0M1588.5 447.2h0M1588.5 341.4h0"/>
<path d="M1583.4 320.2h0M1600.7 320.5h0M1671.2 354.4h0M1609.2 395.0h0M1615.9 467.5h0M1601.7 537.9h0M1616.3 562.6h0M1614.3 657.2h0M1608.7 718.7h0M1591.6 729.6h0M1591.8 654.0h0M1586.7 640.4h0M1592.5 620.8h0M1588.3 753.0h0M1591.6 694.0h0M1586.5 748.3h0M1595.8 581.4h0M1591.2 680.6h0M1592.5 762.7h0M1584.3 682.2h0M1595.0 732.3h0M1589.7 795.8h0M1584.2 670.4h0M1592.5 660.8h0M1593.7 577.6h0M1584.6 604.4h0M1589.6 713.1h0M1591.3 710.8h0M1587.2 588.5h0M1593.3 730.6h0M1591.5 670.7h0M1593.8 561.4h0M1587.6 736.0h0M1591.7 645.8h0M1587.1 804.1h0M1587.6 654.5h0M1592.1 678.2h0M1594.9 599.0h0M1587.1 565.9h0M1593.5 795.3h0M1594.3 802.5h0M1592.7 578.9h0M1593.1 660.5h0M1589.0 594.7h0M1584.3 581.1h0M1586.6 593.2h0M1588.8 754.4h0M1592.1 673.2h0M1585.3 773.5h0M1587.1 628.8h0M1585.5 580.8h0M1595.7 563.4h0M1591.1 600.5h0M1593.1 563.7h0M1587.3 790.0h0M1590.0 604.1h0M1590.4 806.5h0M1591.3 563.6h0M1591.3 603.4h0M1593.3 598.7h0M1595.8 703.1h0M1592.3 669.0h0M1593.5 643.2h0M1593.0 661.1h0M1594.5 574.3h0M1592.6 651.3h0M1588.2 627.1h0M1588.5 793.4h0M1587.9 620.7h0M1586.7 595.1h0M1595.6 604.0h0M1593.2 643.6h0M1594.6 665.0h0M1584.6 767.3h0M1592.4 704.9h0M1587.2 609.5h0M1594.0 603.5h0M1592.6 761.0h0M1586.5 762.8h0M1585.2 608.0h0M1590.8 569.4h0M1593.7 584.2h0M1590.3 737.2h0M1586.6 652.9h0M1592.4 755.3h0M1586.5 566.2h0M1585.2 691.8h0M1587.2 727.2h0M1595.6 807.3h0M1595.7 629.5h0M1592.0 729.7h0M1592.7 662.3h0M1589.0 798.8h0M1593.7 675.0h0M1591.7 716.0h0M1586.2 599.8h0M1588.1 809.5h0M1589.1 675.5h0M1588.4 590.0h0M1584.7 579.4h0M1586.4 576.2h0M1588.4 779.2h0M1589.4 793.0h0M1586.4 595.4h0M1587.5 780.6h0M1588.6 788.2h0M1594.6 561.5h0M1595.9 703.3h0M1590.4 753.1h0M1584.9 610.1h0M1585.8 791.0h0M1590.6 632.9h0M1590.9 600.7h0M1586.8 775.0h0M1588.0 657.7h0M1587.2 751.1h0M1585.5 721.7h0M1585.3 641.0h0M1585.3 643.5h0M1584.9 605.9h0M1585.5 778.9h0M1585.0 791.0h0M1584.8 634.0h0M1584.9 771.9h0M1585.2 617.7h0M1584.5 749.2h0M1585.3 697.7h0M1596.5 813.3h0M1595.4 585.5h0M1595.8 718.0h0M1595.8 715.3h0M1596.1 740.4h0M1595.3 732.0h0M1596.3 624.5h0M1596.2 729.2h0M1595.2 619.4h0M1595.1 790.3h0M1594.6 633.2h0M1597.7 637.7h0M1595.2 635.3h0M1598.6 561.9h0M1595.6 755.5h0M1600.1 767.2h0M1595.6 606.4h0M1600.3 724.1h0M1597.9 695.6h0M1595.5 683.7h0M1603.1 696.4h0M1600.4 775.1h0M1600.8 809.3h0M1608.3 772.5h0M1595.8 812.2h0M1600.1 812.9h0M1594.2 811.5h0M1590.6 541.3h0M1590.0 516.0h0M1588.0 543.2h0M1589.9 551.3h0M1587.1 505.1h0M1588.9 529.0h0M1590.2 489.9h0M1585.5 547.6h0M1589.6 552.9h0M1591.4 490.2h0M1589.5 521.0h0M1587.8 514.7h0M1584.8 550.9h0M1587.0 519.2h0M1586.2 487.8h0M1591.1 513.8h0M1609.3 537.4h0M1596.8 532.2h0M1585.1 453.7h0M1589.1 401.7h0M1584.1 347.8h0M1586.1 386.9h0M1587.1 347.5h0M1587.0 437.2h0M1585.8 331.7h0M1588.2 349.9h0M1586.7 386.6h0M1587.7 331.3h0M1591.4 335.3h0"/>
<path d="M1587.5 320.1h0M1605.0 320.1h0M1671.3 354.4h0M1602.5 398.8h0M1624.3 469.2h0M1616.8 563.0h0M1612.6 580.9h0M1603.4 653.8h0M1615.9 714.1h0M1589.2 768.0h0M1594.8 778.2h0M1593.6 798.0h0M1585.9 681.2h0M1594.4 774.2h0M1593.9 749.4h0M1589.4 599.4h0M1587.2 672.0h0M1595.1 610.1h0M1593.9 631.0h0M1584.5 638.7h0M1589.5 596.8h0M1595.6 604.9h0M1586.1 564.2h0M1584.5 590.3h0M1588.3 807.7h0M1593.9 650.0h0M1594.3 614.4h0M1589.3 794.8h0M1592.7 676.4h0M1592.2 716.5h0M1589.5 806.4h0M1594.4 568.4h0M1586.6 652.7h0M1592.8 762.2h0M1592.7 642.4h0M1589.1 705.9h0M1588.1 775.2h0M1591.8 606.5h0M1586.5 617.6h0M1595.0 630.4h0M1595.5 703.1h0M1589.2 761.9h0M1591.7 613.2h0M1588.6 805.3h0M1586.6 653.9h0M1589.8 576.9h0M1593.6 641.2h0M1594.6 595.2h0M1591.2 624.8h0M1586.7 671.2h0M1585.2 667.8h0M1595.8 713.1h0M1595.6 803.7h0M1587.2 582.5h0M1595.6 680.1h0M1584.6 674.1h0M1596.1 681.0h0M1586.0 604.7h0M1591.1 616.0h0M1594.3 607.8h0M1585.0 691.4h0M1592.5 634.7h0M1592.4 638.0h0M1595.8 648.5h0M1588.0 620.6h0M1588.5 810.1h0M1589.7 734.2h0M1590.1 713.2h0M1590.6 659.2h0M1589.7 777.2h0M1587.1 635.3h0M1595.2 653.5h0M1594.9 621.7h0M1586.6 667.1h0M1590.9 615.8h0M1586.7 679.6h0M1584.8 760.4h0M1584.7 757.4h0M1595.8 561.4h0M1586.6 643.8h0M1585.5 729.1h0M1593.8 655.7h0M1591.0 770.0h0M1595.1 664.1h0M1589.6 684.2h0M1590.5 697.8h0M1594.1 762.4h0M1586.5 739.0h0M1585.9 656.2h0M1595.2 724.3h0M1585.7 757.9h0M1589.7 605.8h0M1587.6 623.5h0M1594.4 771.9h0M1594.4 774.2h0M1587.6 583.9h0M1594.1 694.0h0M1585.0 777.1h0M1590.9 753.3h0M1587.0 601.7h0M1586.2 577.3h0M1585.3 757.2h0M1590.9 767.5h0M1596.0 621.6h0M1587.7 744.8h0M1592.3 747.2h0M1594.7 642.8h0M1593.9 792.6h0M1584.7 802.1h0M1587.2 664.4h0M1592.6 727.5h0M1588.0 779.3h0M1595.9 646.9h0M1590.8 571.6h0M1589.5 747.5h0M1586.4 696.5h0M1585.6 622.5h0M1584.8 650.5h0M1584.3 727.2h0M1585.0 576.6h0M1585.4 744.7h0M1584.9 791.2h0M1584.7 672.7h0M1585.2 621.8h0M1584.4 637.6h0M1585.0 572.4h0M1584.5 675.2h0M1594.9 700.7h0M1594.9 676.6h0M1594.7 789.6h0M1594.7 641.1h0M1595.7 668.3h0M1595.9 792.9h0M1596.3 753.0h0M1595.2 811.3h0M1596.3 661.2h0M1595.6 735.3h0M1594.7 740.2h0M1595.3 779.0h0M1598.3 750.1h0M1595.3 792.5h0M1595.9 797.2h0M1596.4 663.0h0M1601.8 640.4h0M1601.2 591.1h0M1599.6 779.3h0M1598.0 748.4h0M1602.2 787.0h0M1601.5 772.5h0M1605.8 730.1h0M1608.7 696.1h0M1590.8 811.8h0M1599.5 811.3h0M1597.1 809.2h0M1585.5 538.3h0M1590.1 484.9h0M1589.4 530.5h0M1587.7 526.8h0M1588.8 481.1h0M1585.3 502.3h0M1585.5 502.3h0M1590.1 509.3h0M1584.9 525.1h0M1588.5 525.4h0M1586.1 495.2h0M1586.1 465.9h0M1588.4 475.7h0M1588.4 532.9h0M1584.4 548.8h0M1587.4 487.4h0M1594.5 516.1h0M1604.4 552.3h0M1586.2 336.5h0M1586.0 400.6h0M1587.5 463.7h0M1587.2 406.4h0M1586.2 350.1h0M1585.9 446.5h0M1584.5 405.1h0M1586.9 419.9h0M1584.3 369.6h0M1584.8 406.6h0M1591.8 402.8h0"/>
<path d="M1588.2 319.6h0M1605.0 319.6h0M1675.4 353.3h0M1612.6 405.5h0M1621.8 475.1h0M1616.9 563.8h0M1613.4 580.2h0M1603.6 654.4h0M1607.6 735.9h0M1588.6 742.1h0M1589.7 645.5h0M1589.3 632.5h0M1585.3 679.9h0M1589.4 638.3h0M1591.7 605.8h0M1595.2 561.4h0M1591.9 626.7h0M1584.8 734.1h0M1592.3 575.5h0M1585.5 730.8h0M1595.5 751.0h0M1586.1 804.9h0M1588.3 634.6h0M1593.4 764.4h0M1591.4 725.3h0M1591.5 690.8h0M1585.6 788.7h0M1595.4 771.6h0M1589.6 584.3h0M1584.4 683.5h0M1591.8 702.5h0M1589.4 673.7h0M1584.7 754.5h0M1591.6 690.4h0M1594.7 740.5h0M1585.4 696.7h0M1593.8 696.7h0M1590.9 590.9h0M1591.2 765.0h0M1595.3 606.8h0M1592.3 596.5h0M1590.8 733.6h0M1586.7 624.4h0M1586.8 643.3h0M1588.3 708.2h0M1589.7 631.5h0M1590.6 776.6h0M1595.9 673.3h0M1588.7 782.2h0M1589.3 749.8h0M1594.0 791.7h0M1592.1 571.5h0M1592.6 622.8h0M1594.3 686.1h0M1589.3 711.2h0M1589.3 570.2h0M1585.2 732.9h0M1589.7 613.0h0M1586.5 590.3h0M1591.0 646.3h0M1587.7 653.1h0M1589.9 794.4h0M1587.5 688.1h0M1589.4 671.0h0M1590.4 747.3h0M1591.6 660.2h0M1584.3 681.9h0M1589.3 671.4h0M1594.1 765.8h0M1594.2 627.4h0M1588.2 661.7h0M1590.4 637.5h0M1588.3 622.7h0M1587.8 569.7h0M1590.7 624.5h0M1587.3 572.9h0M1591.2 637.5h0M1590.2 720.1h0M1593.6 657.6h0M1589.1 662.0h0M1585.8 753.1h0M1587.6 782.2h0M1587.8 789.4h0M1584.4 747.9h0M1595.1 575.9h0M1587.1 586.9h0M1585.9 765.4h0M1586.4 564.2h0M1589.4 620.8h0M1589.5 584.0h0M1584.1 573.9h0M1589.2 641.6h0M1586.3 799.8h0M1586.2 582.0h0M1592.9 589.9h0M1588.0 668.8h0M1594.9 591.0h0M1593.3 745.6h0M1589.0 638.3h0M1588.8 563.7h0M1592.9 750.9h0M1584.8 613.3h0M1586.1 743.2h0M1594.7 782.2h0M1590.2 795.3h0M1593.8 799.4h0M1595.6 736.3h0M1586.5 750.3h0M1589.7 584.4h0M1586.1 776.0h0M1588.4 775.8h0M1589.6 805.0h0M1585.1 754.3h0M1586.7 712.3h0M1586.6 682.0h0M1586.8 659.3h0M1585.1 725.7h0M1585.1 665.8h0M1585.3 570.3h0M1585.4 655.9h0M1584.6 812.8h0M1584.9 610.8h0M1584.5 778.5h0M1585.2 589.5h0M1584.6 682.0h0M1584.8 800.9h0M1584.3 644.9h0M1594.6 807.9h0M1596.0 655.6h0M1596.5 642.6h0M1595.8 591.8h0M1596.3 617.2h0M1594.7 715.7h0M1595.2 648.2h0M1594.8 701.5h0M1595.9 650.2h0M1596.4 600.8h0M1596.6 724.3h0M1597.9 560.8h0M1597.3 603.2h0M1599.5 604.6h0M1601.2 767.4h0M1601.8 738.1h0M1600.1 651.9h0M1599.1 713.3h0M1600.3 625.8h0M1601.2 809.2h0M1608.3 624.9h0M1611.1 663.4h0M1601.4 805.5h0M1599.7 808.7h0M1592.4 811.4h0M1586.9 807.9h0M1592.9 810.5h0M1587.0 548.2h0M1587.0 491.6h0M1591.7 502.5h0M1589.1 558.6h0M1585.9 482.7h0M1586.8 532.0h0M1587.4 495.1h0M1591.7 483.3h0M1592.0 537.8h0M1592.7 485.3h0M1586.7 533.3h0M1585.8 474.8h0M1587.7 493.5h0M1592.5 520.2h0M1584.9 540.7h0M1592.8 505.6h0M1602.7 495.3h0M1605.4 490.7h0M1584.7 336.4h0M1588.9 362.4h0M1584.4 444.1h0M1587.0 376.4h0M1585.8 345.3h0M1584.1 366.9h0M1588.4 334.4h0M1588.1 453.6h0M1587.5 371.6h0M1587.6 445.5h0M1595.9 404.0h0"/>
<path d="M1588.2 320.6h0M1615.9 319.8h0M1675.9 352.8h0M1603.4 411.9h0M1605.9 475.1h0M1617.3 563.1h0M1622.6 580.9h0M1603.5 654.3h0M1607.8 735.2h0M1595.9 762.0h0M1585.9 582.3h0M1591.2 664.4h0M1586.3 604.1h0M1590.0 579.3h0M1588.5 750.8h0M1585.2 616.8h0M1585.1 582.1h0M1587.5 642.6h0M1591.6 598.8h0M1585.1 621.3h0M1593.3 734.9h0M1588.0 592.3h0M1586.7 665.7h0M1585.3 756.4h0M1584.2 789.1h0M1585.8 796.7h0M1594.5 634.3h0M1589.9 657.2h0M1587.8 739.6h0M1589.2 653.6h0M1593.1 596.4h0M1594.9 735.2h0M1585.9 767.3h0M1586.9 652.9h0M1589.0 625.6h0M1588.5 768.0h0M1585.6 644.0h0M1593.4 775.2h0M1586.0 812.3h0M1595.7 646.0h0M1589.3 765.8h0M1594.6 693.8h0M1587.8 615.0h0M1586.3 767.7h0M1584.4 599.9h0M1591.8 719.8h0M1584.3 732.0h0M1584.2 745.4h0M1585.1 644.4h0M1593.8 794.7h0M1590.6 655.8h0M1586.0 688.5h0M1593.0 690.3h0M1591.2 603.2h0M1588.3 791.6h0M1590.2 782.8h0M1590.8 764.2h0M1593.7 788.2h0M1587.5 715.3h0M1588.8 718.5h0M1591.3 686.4h0M1586.2 705.0h0M1589.2 646.2h0M1595.2 583.1h0M1587.0 636.9h0M1585.7 650.2h0M1586.8 660.8h0M1595.3 648.0h0M1584.9 572.5h0M1590.6 790.0h0M1592.1 573.3h0M1586.4 734.3h0M1590.1 799.1h0M1595.4 665.4h0M1594.0 766.5h0M1592.6 733.3h0M1591.1 731.1h0M1586.8 590.3h0M1595.8 560.8h0M1593.7 754.7h0M1591.4 619.6h0M1590.2 619.3h0M1593.3 794.3h0M1587.0 619.1h0M1588.1 624.0h0M1584.6 648.1h0M1584.7 583.2h0M1596.0 756.5h0M1586.6 663.0h0M1588.3 692.0h0M1591.0 602.3h0M1585.2 617.6h0M1590.9 598.9h0M1584.1 784.9h0M1592.7 758.9h0M1587.9 637.9h0M1594.4 618.3h0M1593.1 664.7h0M1596.1 778.8h0M1594.3 598.7h0M1584.4 720.6h0M1586.5 604.2h0M1594.9 707.3h0M1590.8 766.5h0M1586.8 636.6h0M1590.0 674.4h0M1593.3 638.0h0M1592.3 781.4h0M1592.3 643.6h0M1589.6 589.0h0M1585.5 594.5h0M1585.0 614.8h0M1593.6 759.8h0M1587.4 603.4h0M1585.0 596.1h0M1589.8 604.7h0M1584.9 593.8h0M1585.4 577.0h0M1584.4 743.5h0M1585.5 811.3h0M1584.9 713.7h0M1584.3 656.1h0M1584.7 706.6h0M1584.5 672.6h0M1584.7 714.6h0M1585.3 729.8h0M1585.1 649.8h0M1595.7 616.4h0M1594.9 723.6h0M1595.2 746.3h0M1596.1 811.7h0M1595.8 601.2h0M1595.3 811.1h0M1596.3 579.8h0M1594.9 577.6h0M1595.0 586.0h0M1595.3 674.4h0M1596.1 569.5h0M1597.8 620.2h0M1598.8 621.6h0M1597.7 605.2h0M1599.8 719.2h0M1595.1 584.2h0M1599.3 759.8h0M1601.8 668.1h0M1597.2 768.9h0M1595.9 714.2h0M1601.3 737.1h0M1604.2 750.2h0M1600.4 675.5h0M1585.7 811.5h0M1598.9 807.9h0M1599.0 808.3h0M1590.2 810.3h0M1589.0 528.2h0M1590.5 514.6h0M1590.5 543.1h0M1584.9 488.9h0M1587.6 500.3h0M1592.2 522.9h0M1592.5 547.1h0M1586.3 518.3h0M1590.2 553.4h0M1585.5 470.4h0M1584.3 493.1h0M1588.9 537.8h0M1590.2 507.2h0M1588.6 479.7h0M1585.9 483.4h0M1585.9 469.3h0M1593.2 530.9h0M1593.9 527.0h0M1587.5 438.5h0M1588.7 440.9h0M1587.5 433.0h0M1585.6 349.7h0M1586.3 395.7h0M1589.1 386.5h0M1588.2 427.3h0M1586.3 378.5h0M1585.8 443.5h0M1587.7 426.3h0M1591.0 393.8h0"/>
<path d="M1590.8 320.1h0M1635.2 320.1h0M1681.3 351.1h0M1644.9 409.7h0M1606.6 474.6h0M1602.5 561.4h0M1608.4 596.0h0M1619.3 673.9h0M1607.8 736.5h0M1593.4 578.3h0M1587.6 696.9h0M1590.3 730.0h0M1587.3 629.4h0M1588.0 641.0h0M1588.9 712.5h0M1591.4 756.6h0M1588.6 582.3h0M1585.2 801.3h0M1586.2 574.0h0M1587.3 680.1h0M1592.2 574.7h0M1589.6 749.1h0M1591.5 784.7h0M1590.4 640.7h0M1585.9 574.1h0M1592.5 691.6h0M1588.6 715.0h0M1595.0 680.6h0M1587.4 629.9h0M1594.8 593.6h0M1588.6 714.5h0M1587.3 703.8h0M1595.1 773.6h0M1584.8 594.4h0M1589.4 613.3h0M1590.1 654.9h0M1584.5 606.0h0M1584.7 672.8h0M1591.2 712.7h0M1590.5 564.1h0M1584.6 667.0h0M1587.2 565.4h0M1584.2 746.2h0M1586.8 777.5h0M1591.7 613.4h0M1595.7 677.4h0M1590.2 769.5h0M1587.0 741.3h0M1588.7 564.4h0M1595.0 629.6h0M1588.9 797.1h0M1584.2 618.3h0M1593.8 730.9h0M1585.9 620.5h0M1593.5 661.5h0M1592.8 620.5h0M1589.6 614.9h0M1595.7 626.3h0M1584.2 649.8h0M1589.1 626.0h0M1594.7 731.0h0M1592.2 769.8h0M1595.8 786.7h0M1589.9 577.2h0M1593.6 645.4h0M1591.8 653.5h0M1584.2 753.3h0M1593.3 711.1h0M1588.5 630.0h0M1589.3 762.9h0M1589.5 705.1h0M1592.9 786.7h0M1591.5 621.6h0M1588.8 742.4h0M1594.9 724.8h0M1591.1 711.2h0M1591.8 756.5h0M1586.4 625.1h0M1591.6 606.5h0M1595.2 648.0h0M1594.5 729.0h0M1592.0 800.4h0M1585.7 811.9h0M1584.6 572.7h0M1586.5 598.2h0M1592.6 572.0h0M1592.7 696.2h0M1586.1 645.5h0M1594.8 749.5h0M1587.9 634.0h0M1594.8 715.9h0M1586.6 776.0h0M1592.2 668.1h0M1587.7 605.8h0M1585.3 797.7h0M1585.4 729.0h0M1591.7 668.4h0M1589.3 732.0h0M1587.8 766.8h0M1592.7 808.9h0M1584.9 766.7h0M1586.9 628.2h0M1591.2 586.8h0M1585.9 804.3h0M1586.3 755.5h0M1591.8 663.1h0M1586.1 675.9h0M1588.3 718.0h0M1587.4 697.6h0M1590.0 685.1h0M1587.2 589.3h0M1588.8 806.7h0M1589.2 801.1h0M1594.8 564.5h0M1585.6 792.1h0M1587.2 684.2h0M1585.1 578.6h0M1584.2 766.2h0M1584.9 730.8h0M1584.5 580.5h0M1584.9 738.4h0M1584.2 711.5h0M1585.1 787.0h0M1584.9 725.6h0M1585.2 606.2h0M1585.3 798.5h0M1585.1 767.9h0M1596.0 614.9h0M1595.3 583.3h0M1596.3 705.1h0M1595.0 745.8h0M1595.7 788.8h0M1595.3 598.4h0M1595.0 716.1h0M1595.6 588.9h0M1594.6 731.4h0M1595.8 578.3h0M1598.1 603.0h0M1595.8 690.9h0M1601.3 560.6h0M1598.8 659.3h0M1599.1 623.1h0M1599.9 696.8h0M1597.7 561.6h0M1599.4 776.2h0M1595.1 577.1h0M1600.9 692.2h0M1608.9 570.4h0M1601.9 607.3h0M1610.7 671.7h0M1586.2 807.4h0M1585.4 812.6h0M1585.1 809.8h0M1595.7 812.0h0M1584.7 482.0h0M1584.4 521.4h0M1584.5 494.0h0M1585.5 489.4h0M1587.0 502.6h0M1585.3 481.6h0M1589.1 525.1h0M1586.4 465.0h0M1590.2 476.8h0M1591.7 522.7h0M1591.8 510.2h0M1591.5 518.7h0M1586.8 517.1h0M1584.5 536.0h0M1592.1 523.4h0M1586.0 472.2h0M1598.7 466.8h0M1586.7 387.5h0M1584.1 383.3h0M1588.2 462.2h0M1586.1 449.6h0M1584.6 412.7h0M1589.0 402.2h0M1584.3 406.5h0M1586.7 438.1h0M1587.9 422.8h0M1587.3 455.6h0M1597.8 439.2h0M1591.6 463.0h0"/>
<path d="M1590.0 319.6h0M1634.9 320.4h0M1681.6 351.6h0M1655.8 406.4h0M1617.6 483.4h0M1605.9 551.3h0M1608.9 595.5h0M1619.1 674.1h0M1604.2 740.9h0M1592.8 750.8h0M1593.5 576.2h0M1592.6 678.1h0M1589.6 786.2h0M1596.0 624.7h0M1584.6 719.3h0M1585.7 698.7h0M1595.0 667.9h0M1585.6 743.7h0M1586.3 688.3h0M1595.9 747.8h0M1595.4 582.9h0M1588.5 770.9h0M1584.2 726.2h0M1587.6 637.4h0M1590.6 571.3h0M1588.2 569.3h0M1589.4 793.3h0M1590.7 694.5h0M1586.4 666.9h0M1592.5 595.5h0M1594.4 642.0h0M1586.5 562.9h0M1593.1 696.3h0M1588.4 767.4h0M1591.2 701.0h0M1588.9 604.5h0M1593.6 592.6h0M1584.4 682.8h0M1587.8 765.7h0M1587.0 718.8h0M1590.0 666.8h0M1590.0 791.3h0M1585.9 812.1h0M1589.7 564.4h0M1590.3 712.2h0M1588.5 813.4h0M1593.5 673.7h0M1587.6 666.1h0M1585.2 752.7h0M1585.4 635.9h0M1593.0 700.7h0M1592.2 590.3h0M1591.2 577.9h0M1595.4 799.2h0M1592.4 576.0h0M1591.8 719.7h0M1588.8 789.9h0M1588.0 561.1h0M1590.3 808.2h0M1591.7 737.7h0M1591.4 802.8h0M1587.7 791.5h0M1594.6 740.6h0M1588.2 793.7h0M1591.4 593.1h0M1587.4 793.6h0M1595.5 812.1h0M1594.0 645.0h0M1584.2 648.1h0M1595.4 618.6h0M1593.1 606.8h0M1594.7 668.6h0M1587.7 800.9h0M1591.2 702.1h0M1590.1 746.9h0M1592.3 744.9h0M1593.7 794.1h0M1586.6 727.5h0M1587.2 590.4h0M1591.6 585.7h0M1585.6 774.3h0M1595.2 684.6h0M1586.6 655.9h0M1584.1 588.8h0M1589.4 630.0h0M1585.5 658.8h0M1584.8 704.2h0M1590.9 605.3h0M1587.1 726.5h0M1592.9 649.4h0M1590.8 781.3h0M1584.6 611.3h0M1590.7 629.9h0M1584.5 790.6h0M1585.9 732.6h0M1594.8 780.1h0M1587.2 699.5h0M1584.2 675.9h0M1594.2 740.6h0M1590.8 751.0h0M1590.8 695.9h0M1596.0 700.3h0M1590.0 594.9h0M1595.0 682.7h0M1590.2 722.1h0M1586.4 606.0h0M1595.0 671.3h0M1588.2 787.9h0M1593.7 583.3h0M1595.1 756.5h0M1590.8 563.4h0M1592.6 741.1h0M1584.2 803.0h0M1593.9 796.2h0M1587.0 591.2h0M1595.3 583.8h0M1585.5 596.5h0M1584.2 684.8h0M1584.7 760.6h0M1585.0 596.4h0M1585.6 773.2h0M1584.4 708.3h0M1584.7 810.5h0M1584.4 798.9h0M1585.3 688.9h0M1585.5 664.0h0M1584.3 565.1h0M1595.2 690.6h0M1596.5 794.5h0M1596.3 690.3h0M1594.7 639.5h0M1594.9 662.4h0M1594.9 580.0h0M1595.4 634.9h0M1595.1 772.4h0M1596.5 587.7h0M1596.0 728.4h0M1600.2 770.0h0M1597.1 748.2h0M1600.4 628.3h0M1596.9 573.6h0M1599.3 709.2h0M1597.5 714.7h0M1596.2 649.4h0M1601.0 578.4h0M1596.5 732.0h0M1595.7 666.7h0M1613.5 769.0h0M1601.5 723.5h0M1602.6 677.8h0M1584.2 810.7h0M1589.4 809.6h0M1596.2 808.6h0M1595.7 811.9h0M1588.1 474.9h0M1588.7 545.4h0M1585.4 511.6h0M1590.6 491.1h0M1591.2 483.9h0M1590.2 484.6h0M1591.7 516.7h0M1592.9 549.9h0M1590.9 512.1h0M1591.9 528.9h0M1592.9 496.5h0M1591.8 476.4h0M1591.3 526.0h0M1588.6 521.5h0M1591.0 520.1h0M1592.9 517.9h0M1600.3 496.9h0M1586.1 463.1h0M1587.2 376.6h0M1585.7 464.2h0M1586.9 392.3h0M1586.3 349.6h0M1584.8 357.1h0M1587.9 464.4h0M1584.2 437.7h0M1587.5 345.3h0M1585.0 368.5h0M1588.7 353.2h0M1598.1 375.7h0"/>
<path d="M1590.3 319.5h0M1647.8 319.8h0M1693.8 348.2h0M1624.3 418.9h0M1617.0 483.3h0M1607.6 574.8h0M1610.9 604.4h0M1617.6 677.3h0M1612.6 770.3h0M1588.4 572.7h0M1595.3 601.5h0M1596.0 790.6h0M1592.0 792.2h0M1587.9 710.8h0M1595.0 563.8h0M1584.7 803.9h0M1591.1 699.0h0M1596.0 748.9h0M1588.4 597.2h0M1584.8 789.9h0M1586.2 654.5h0M1587.4 672.6h0M1585.1 786.3h0M1595.9 739.9h0M1586.7 709.0h0M1585.6 607.9h0M1594.4 738.3h0M1587.3 659.3h0M1595.1 743.3h0M1591.4 777.9h0M1585.1 787.8h0M1584.5 732.2h0M1594.1 656.6h0M1591.9 678.2h0M1594.6 670.6h0M1593.4 725.9h0M1584.1 654.7h0M1592.8 709.5h0M1585.3 571.0h0M1590.9 655.2h0M1585.0 684.4h0M1592.5 759.6h0M1590.1 692.3h0M1595.9 808.6h0M1585.9 636.7h0M1587.2 575.9h0M1584.6 745.3h0M1585.0 760.2h0M1588.6 612.0h0M1590.5 630.7h0M1586.9 731.3h0M1594.4 744.2h0M1589.7 602.1h0M1593.5 679.4h0M1595.4 784.7h0M1594.2 752.6h0M1594.5 586.3h0M1593.8 712.5h0M1587.3 786.3h0M1585.8 615.2h0M1586.6 590.5h0M1586.6 630.7h0M1589.1 569.6h0M1590.4 578.2h0M1586.7 651.8h0M1592.5 757.4h0M1591.8 564.3h0M1590.4 774.6h0M1588.2 791.9h0M1593.7 804.1h0M1584.2 645.2h0M1595.2 677.9h0M1591.9 731.0h0M1584.8 757.9h0M1586.8 585.4h0M1587.7 562.6h0M1590.6 716.6h0M1586.8 564.3h0M1592.3 566.3h0M1588.4 658.7h0M1591.4 626.0h0M1587.3 811.8h0M1592.7 782.9h0M1595.0 675.8h0M1596.0 658.5h0M1586.4 728.6h0M1593.8 742.4h0M1595.9 693.9h0M1585.2 748.0h0M1589.9 670.5h0M1587.5 711.3h0M1595.0 790.0h0M1587.2 709.8h0M1595.9 712.0h0M1586.5 738.1h0M1586.5 694.8h0M1591.0 781.9h0M1585.8 670.9h0M1594.2 596.6h0M1589.5 604.6h0M1588.8 610.0h0M1585.5 753.1h0M1593.0 702.4h0M1585.6 710.6h0M1595.3 622.4h0M1584.4 766.4h0M1591.9 611.0h0M1594.3 700.9h0M1592.9 707.0h0M1595.7 667.2h0M1593.2 781.7h0M1593.6 781.3h0M1588.6 622.3h0M1587.8 713.1h0M1590.0 598.4h0M1591.9 602.2h0M1585.0 771.3h0M1585.1 577.8h0M1585.5 669.4h0M1585.3 705.7h0M1585.1 640.5h0M1585.1 765.2h0M1584.4 799.0h0M1584.6 597.6h0M1585.2 663.9h0M1585.2 684.6h0M1585.3 745.2h0M1595.8 707.3h0M1596.0 749.6h0M1595.3 623.1h0M1595.1 772.2h0M1596.4 590.5h0M1594.6 644.9h0M1594.8 591.5h0M1595.4 717.4h0M1596.2 617.6h0M1596.0 711.3h0M1599.4 590.5h0M1600.3 598.6h0M1601.4 651.2h0M1595.8 731.2h0M1599.0 712.9h0M1595.8 758.4h0M1600.3 666.5h0M1595.9 576.8h0M1600.6 746.7h0M1596.6 649.8h0M1602.7 728.9h0M1604.8 613.8h0M1613.7 615.4h0M1598.0 808.1h0M1590.6 812.6h0M1595.8 809.0h0M1592.3 810.1h0M1586.9 471.8h0M1592.1 547.3h0M1586.9 492.7h0M1588.6 554.0h0M1586.4 474.9h0M1589.4 535.4h0M1590.5 484.6h0M1584.8 498.7h0M1592.3 466.3h0M1592.9 486.1h0M1585.8 530.9h0M1591.9 533.4h0M1584.4 509.8h0M1590.8 521.7h0M1586.5 536.8h0M1595.0 493.8h0M1605.3 493.1h0M1585.5 428.6h0M1587.2 417.9h0M1586.4 413.6h0M1586.9 406.2h0M1588.5 380.6h0M1588.2 409.1h0M1588.4 443.1h0M1584.4 398.9h0M1587.9 388.4h0M1585.6 449.9h0M1593.2 431.9h0M1588.2 456.4h0"/>
<path d="M1594.2 320.1h0M1664.2 319.8h0M1651.1 364.5h0M1607.2 426.5h0M1608.4 489.3h0M1595.8 336.9h0M1608.4 611.9h0M1609.2 675.6h0M1610.9 779.5h0M1590.8 641.6h0M1588.7 729.2h0M1591.7 761.6h0M1588.3 758.5h0M1589.4 605.7h0M1584.6 770.9h0M1585.2 597.7h0M1590.9 685.7h0M1585.8 667.7h0M1590.9 778.9h0M1585.0 577.2h0M1594.3 774.3h0M1587.8 653.0h0M1596.1 598.7h0M1593.3 573.2h0M1586.6 645.4h0M1585.8 770.0h0M1588.3 695.2h0M1593.4 699.7h0M1591.5 604.8h0M1589.4 566.0h0M1595.8 659.9h0M1594.6 712.2h0M1587.7 745.9h0M1588.0 753.3h0M1588.5 801.8h0M1585.5 667.6h0M1590.4 673.5h0M1588.6 667.2h0M1595.2 619.0h0M1592.5 773.1h0M1590.9 781.7h0M1590.2 767.6h0M1589.7 690.0h0M1589.4 794.4h0M1588.4 811.7h0M1587.9 728.3h0M1595.5 654.3h0M1584.4 669.0h0M1594.1 740.3h0M1586.2 705.0h0M1593.1 781.6h0M1592.7 736.0h0M1587.6 688.7h0M1591.6 693.0h0M1593.1 691.4h0M1591.7 765.6h0M1584.7 683.1h0M1595.1 768.5h0M1593.4 786.6h0M1587.6 591.1h0M1588.4 670.8h0M1595.8 627.9h0M1589.5 753.8h0M1591.9 808.6h0M1586.7 585.2h0M1590.5 780.9h0M1595.0 767.0h0M1589.4 572.1h0M1595.9 741.3h0M1591.8 759.4h0M1593.3 588.5h0M1585.1 769.4h0M1586.9 723.6h0M1590.5 703.1h0M1585.0 657.7h0M1591.9 646.9h0M1589.2 563.7h0M1595.3 808.1h0M1587.2 797.3h0M1584.1 634.3h0M1584.7 722.8h0M1587.4 762.5h0M1594.7 581.4h0M1585.8 671.0h0M1593.6 658.6h0M1593.8 629.1h0M1588.8 781.1h0M1596.0 609.3h0M1584.9 786.0h0M1592.2 694.0h0M1586.2 811.6h0M1592.8 752.0h0M1591.3 701.0h0M1592.8 717.2h0M1591.1 758.9h0M1584.4 682.7h0M1595.2 653.4h0M1587.2 803.0h0M1591.3 672.6h0M1590.8 696.5h0M1588.9 804.7h0M1594.8 644.6h0M1595.9 687.5h0M1586.5 752.5h0M1591.5 780.9h0M1593.0 767.0h0M1584.5 713.7h0M1591.9 670.0h0M1591.3 603.6h0M1590.7 771.7h0M1590.5 710.3h0M1589.9 738.3h0M1590.1 599.1h0M1590.3 638.9h0M1590.1 786.8h0M1590.2 774.0h0M1584.3 677.0h0M1585.2 618.4h0M1584.9 731.2h0M1585.2 586.9h0M1584.9 680.1h0M1584.4 778.2h0M1584.5 687.3h0M1585.4 641.2h0M1584.4 579.5h0M1584.5 698.5h0M1585.1 726.3h0M1594.8 612.1h0M1596.4 694.4h0M1596.0 596.8h0M1595.1 633.3h0M1594.6 602.4h0M1594.7 586.3h0M1595.0 765.4h0M1596.1 749.5h0M1596.5 577.1h0M1595.0 791.3h0M1596.1 688.7h0M1598.4 579.6h0M1598.2 785.1h0M1598.2 725.6h0M1601.2 811.0h0M1596.5 769.5h0M1600.1 783.1h0M1600.2 802.3h0M1599.8 561.0h0M1596.1 751.0h0M1604.3 689.5h0M1607.2 639.1h0M1611.4 686.3h0M1586.8 810.4h0M1597.1 808.3h0M1587.0 810.6h0M1596.3 810.7h0M1588.7 551.3h0M1589.5 519.9h0M1584.5 507.6h0M1592.9 559.6h0M1591.4 466.2h0M1585.9 484.6h0M1590.3 558.2h0M1585.4 506.0h0M1592.1 514.0h0M1589.9 532.9h0M1590.7 552.8h0M1587.2 518.2h0M1591.0 538.4h0M1589.2 476.6h0M1592.0 503.3h0M1607.7 523.5h0M1595.8 544.7h0M1588.7 427.6h0M1584.4 443.9h0M1589.0 370.5h0M1588.7 337.5h0M1587.7 418.0h0M1588.4 427.0h0M1587.5 454.0h0M1585.9 377.4h0M1587.1 437.1h0M1587.2 348.3h0M1589.7 459.9h0M1593.3 340.3h0"/>
<path d="M1594.1 320.0h0M1594.2 325.1h0M1655.8 370.0h0M1606.7 427.1h0M1612.6 496.9h0M1599.2 341.9h0M1609.1 611.5h0M1612.6 689.8h0M1605.9 799.6h0M1585.5 740.8h0M1594.9 721.7h0M1584.3 651.9h0M1595.8 635.3h0M1586.2 565.8h0M1595.0 688.0h0M1591.3 582.0h0M1587.4 594.4h0M1587.1 619.2h0M1592.6 668.4h0M1584.6 628.2h0M1594.5 762.7h0M1592.6 653.3h0M1592.4 615.6h0M1591.2 688.4h0M1590.4 580.1h0M1586.7 790.6h0M1592.9 734.1h0M1586.4 713.8h0M1584.7 752.8h0M1595.5 566.6h0M1586.8 721.6h0M1585.7 635.7h0M1590.7 669.9h0M1588.2 757.8h0M1584.8 798.2h0M1586.2 753.9h0M1591.8 728.1h0M1592.1 749.9h0M1587.9 564.2h0M1596.0 652.2h0M1594.5 686.7h0M1586.5 695.7h0M1585.6 721.4h0M1590.8 768.6h0M1595.9 771.2h0M1592.0 777.5h0M1595.8 617.8h0M1593.3 591.2h0M1592.3 797.7h0M1588.2 586.5h0M1589.6 661.0h0M1586.7 741.6h0M1590.0 577.6h0M1592.5 648.0h0M1589.2 655.4h0M1595.4 758.8h0M1595.0 669.6h0M1594.2 668.3h0M1587.6 639.8h0M1595.0 767.9h0M1595.3 649.4h0M1592.2 580.5h0M1595.7 571.9h0M1596.0 759.5h0M1585.6 723.0h0M1588.5 719.9h0M1590.4 775.6h0M1589.5 723.7h0M1584.9 786.2h0M1588.9 606.2h0M1592.1 621.2h0M1588.0 594.3h0M1590.0 591.9h0M1585.6 769.0h0M1589.6 629.3h0M1588.4 753.0h0M1588.5 754.9h0M1592.6 710.2h0M1588.1 771.7h0M1586.9 564.3h0M1590.1 615.4h0M1592.5 614.9h0M1590.4 565.3h0M1591.2 700.5h0M1591.3 631.1h0M1588.9 680.5h0M1587.7 713.4h0M1584.1 644.6h0M1594.6 593.0h0M1594.4 601.2h0M1594.9 694.0h0M1591.4 684.2h0M1594.5 727.4h0M1591.5 693.4h0M1592.6 717.9h0M1589.5 709.8h0M1590.5 742.2h0M1593.3 785.4h0M1590.6 771.5h0M1587.9 708.5h0M1591.8 790.9h0M1584.5 691.0h0M1585.8 604.9h0M1589.2 565.0h0M1593.0 586.8h0M1590.4 598.8h0M1595.5 612.0h0M1584.5 609.5h0M1595.5 651.7h0M1595.0 678.2h0M1584.8 730.4h0M1588.8 799.9h0M1586.8 660.3h0M1586.9 799.8h0M1590.2 655.2h0M1588.1 628.9h0M1584.5 728.6h0M1584.2 577.4h0M1584.2 707.8h0M1585.1 655.6h0M1584.5 574.2h0M1584.8 779.9h0M1585.5 584.9h0M1585.1 733.3h0M1584.9 701.5h0M1585.0 775.8h0M1595.9 725.6h0M1594.8 807.4h0M1595.2 691.0h0M1596.1 586.9h0M1595.7 659.2h0M1595.5 705.9h0M1595.0 729.0h0M1596.6 575.0h0M1594.9 686.8h0M1595.7 635.2h0M1595.8 670.6h0M1597.5 630.9h0M1601.3 779.9h0M1598.4 701.2h0M1599.6 695.9h0M1599.8 783.0h0M1596.9 705.3h0M1598.2 566.7h0M1600.5 697.5h0M1597.4 667.7h0M1604.5 675.0h0M1614.7 567.6h0M1602.9 801.4h0M1606.4 722.3h0M1592.1 813.3h0M1595.0 813.3h0M1590.3 813.3h0M1585.9 809.5h0M1584.5 513.0h0M1588.3 497.3h0M1592.2 479.8h0M1592.6 506.5h0M1584.6 502.2h0M1592.6 524.4h0M1588.6 525.2h0M1587.0 516.7h0M1591.6 540.9h0M1590.2 531.0h0M1586.3 555.6h0M1588.5 515.1h0M1588.4 549.4h0M1588.6 473.2h0M1588.6 558.6h0M1595.2 546.7h0M1605.8 529.6h0M1588.1 336.6h0M1586.5 331.7h0M1588.1 456.1h0M1585.5 438.6h0M1584.2 384.5h0M1585.9 445.6h0M1585.5 340.4h0M1587.5 421.7h0M1586.6 395.8h0M1584.3 380.9h0M1588.6 409.0h0M1588.5 446.4h0"/>
</g>
<path d="M1584.8 198.6 V848.0" stroke="#111" stroke-width="1" stroke-dasharray="4.2 3" fill="none" shape-rendering="crispEdges"/>
<path d="M1569.6 628.4 H1880.1" stroke="#111" stroke-width="1" stroke-dasharray="4.2 3" fill="none" shape-rendering="crispEdges"/>
<path d="M1584.8 326 V818" stroke="#000" stroke-width="2.1" stroke-dasharray="4.2 3" stroke-dashoffset="5.0" fill="none"/>
<path d="M1577.6 628.4 H1636" stroke="#000" stroke-width="2.1" stroke-dasharray="4.2 3" stroke-dashoffset="8" fill="none"/>
<rect x="1569.6" y="198.6" width="310.5" height="649.4" fill="none" stroke="#333333" stroke-width="2.3"/>
<text x="1741.5" y="268.8" font-size="33" text-anchor="middle">268</text>
<path d="M1582.7 848.0 V859.3" stroke="#333333" stroke-width="3.6" fill="none"/>
<text x="1596.2" y="888.2" font-size="33" text-anchor="end" transform="rotate(-45 1596.2 888.2)">0</text>
<path d="M1695.8 848.0 V859.3" stroke="#333333" stroke-width="3.6" fill="none"/>
<text x="1709.3" y="888.2" font-size="33" text-anchor="end" transform="rotate(-45 1709.3 888.2)">500</text>
<path d="M1808.9 848.0 V859.3" stroke="#333333" stroke-width="3.6" fill="none"/>
<text x="1822.4" y="888.2" font-size="33" text-anchor="end" transform="rotate(-45 1822.4 888.2)">1000</text>
<path d="M226.8 320.0 H238.4" stroke="#333333" stroke-width="3.6" fill="none"/>
<text x="206.0" y="335.8" font-size="33" text-anchor="end">1.0</text>
<path d="M226.8 566.7 H238.4" stroke="#333333" stroke-width="3.6" fill="none"/>
<text x="206.0" y="582.5" font-size="33" text-anchor="end">0.6</text>
<path d="M226.8 813.4 H238.4" stroke="#333333" stroke-width="3.6" fill="none"/>
<text x="206.0" y="829.2" font-size="33" text-anchor="end">0.2</text>
<text x="123.9" y="598.5" font-size="33" text-anchor="middle" transform="rotate(-90 123.9 598.5)">Relative SV size</text>
<text x="843.0" y="986.3" font-size="33" text-anchor="start" textLength="340.3">Number of repeat units</text>
<defs>
<linearGradient id="hr1" gradientUnits="userSpaceOnUse" x1="259.80" y1="0" x2="1889.90" y2="0"><stop offset="0.00000" stop-color="#df4b53"/><stop offset="0.00412" stop-color="#df4b53"/><stop offset="0.00412" stop-color="#d71f2e"/><stop offset="0.00943" stop-color="#d71f2e"/><stop offset="0.00943" stop-color="#df4b53"/><stop offset="0.01178" stop-color="#df4b53"/><stop offset="0.01178" stop-color="#d71f2e"/><stop offset="0.01296" stop-color="#d71f2e"/><stop offset="0.01296" stop-color="#df4b53"/><stop offset="0.01473" stop-color="#df4b53"/><stop offset="0.01473" stop-color="#d71f2e"/><stop offset="0.01826" stop-color="#d71f2e"/><stop offset="0.01826" stop-color="#df4b53"/><stop offset="0.02003" stop-color="#df4b53"/><stop offset="0.02003" stop-color="#d71f2e"/><stop offset="0.02474" stop-color="#d71f2e"/><stop offset="0.02474" stop-color="#f5c9c5"/><stop offset="0.02651" stop-color="#f5c9c5"/><stop offset="0.02651" stop-color="#ffffff"/><stop offset="0.02887" stop-color="#ffffff"/><stop offset="0.02887" stop-color="#f5c9c5"/><stop offset="0.03063" stop-color="#f5c9c5"/><stop offset="0.03063" stop-color="#d71f2e"/><stop offset="0.03652" stop-color="#d71f2e"/><stop offset="0.03652" stop-color="#e88583"/><stop offset="0.03829" stop-color="#e88583"/><stop offset="0.03829" stop-color="#df4b53"/><stop offset="0.04065" stop-color="#df4b53"/><stop offset="0.04065" stop-color="#e88583"/><stop offset="0.04241" stop-color="#e88583"/><stop offset="0.04241" stop-color="#df4b53"/><stop offset="0.04418" stop-color="#df4b53"/><stop offset="0.04418" stop-color="#e88583"/><stop offset="0.04654" stop-color="#e88583"/><stop offset="0.04654" stop-color="#df4b53"/><stop offset="0.04830" stop-color="#df4b53"/><stop offset="0.04830" stop-color="#d71f2e"/><stop offset="0.05420" stop-color="#d71f2e"/><stop offset="0.05420" stop-color="#ffffff"/><stop offset="0.05891" stop-color="#ffffff"/><stop offset="0.05891" stop-color="#cdd0e7"/><stop offset="0.06480" stop-color="#cdd0e7"/><stop offset="0.06480" stop-color="#e88583"/><stop offset="0.06598" stop-color="#e88583"/><stop offset="0.06598" stop-color="#f5c9c5"/><stop offset="0.06774" stop-color="#f5c9c5"/><stop offset="0.06774" stop-color="#e88583"/><stop offset="0.06951" stop-color="#e88583"/><stop offset="0.06951" stop-color="#df4b53"/><stop offset="0.07187" stop-color="#df4b53"/><stop offset="0.07187" stop-color="#d71f2e"/><stop offset="0.07481" stop-color="#d71f2e"/><stop offset="0.07481" stop-color="#f5c9c5"/><stop offset="0.07894" stop-color="#f5c9c5"/><stop offset="0.07894" stop-color="#ffffff"/><stop offset="0.08212" stop-color="#ffffff"/><stop offset="0.08212" stop-color="#df4b53"/><stop offset="0.08483" stop-color="#df4b53"/><stop offset="0.08483" stop-color="#f5c9c5"/><stop offset="0.08659" stop-color="#f5c9c5"/><stop offset="0.08659" stop-color="#e88583"/><stop offset="0.08836" stop-color="#e88583"/><stop offset="0.08836" stop-color="#d71f2e"/><stop offset="0.09249" stop-color="#d71f2e"/><stop offset="0.09249" stop-color="#df4b53"/><stop offset="0.09390" stop-color="#df4b53"/><stop offset="0.09390" stop-color="#d71f2e"/><stop offset="0.12052" stop-color="#d71f2e"/><stop offset="0.12052" stop-color="#cdd0e7"/><stop offset="0.12170" stop-color="#cdd0e7"/><stop offset="0.12170" stop-color="#969fd0"/><stop offset="0.12606" stop-color="#969fd0"/><stop offset="0.12606" stop-color="#ffffff"/><stop offset="0.12783" stop-color="#ffffff"/><stop offset="0.12783" stop-color="#f5c9c5"/><stop offset="0.12960" stop-color="#f5c9c5"/><stop offset="0.12960" stop-color="#cdd0e7"/><stop offset="0.13077" stop-color="#cdd0e7"/><stop offset="0.13077" stop-color="#969fd0"/><stop offset="0.13254" stop-color="#969fd0"/><stop offset="0.13254" stop-color="#cdd0e7"/><stop offset="0.13490" stop-color="#cdd0e7"/><stop offset="0.13490" stop-color="#f5c9c5"/><stop offset="0.13584" stop-color="#f5c9c5"/><stop offset="0.13584" stop-color="#d71f2e"/><stop offset="0.13961" stop-color="#d71f2e"/><stop offset="0.13961" stop-color="#f5c9c5"/><stop offset="0.14102" stop-color="#f5c9c5"/><stop offset="0.14102" stop-color="#ffffff"/><stop offset="0.14373" stop-color="#ffffff"/><stop offset="0.14373" stop-color="#e88583"/><stop offset="0.14727" stop-color="#e88583"/><stop offset="0.14727" stop-color="#d71f2e"/><stop offset="0.15610" stop-color="#d71f2e"/><stop offset="0.15610" stop-color="#f5c9c5"/><stop offset="0.15787" stop-color="#f5c9c5"/><stop offset="0.15787" stop-color="#e88583"/><stop offset="0.16317" stop-color="#e88583"/><stop offset="0.16317" stop-color="#ffffff"/><stop offset="0.16612" stop-color="#ffffff"/><stop offset="0.16612" stop-color="#d71f2e"/><stop offset="0.16883" stop-color="#d71f2e"/><stop offset="0.16882" stop-color="#df4b53"/><stop offset="0.17059" stop-color="#df4b53"/><stop offset="0.17059" stop-color="#d71f2e"/><stop offset="0.17919" stop-color="#d71f2e"/><stop offset="0.17919" stop-color="#ffffff"/><stop offset="0.18119" stop-color="#ffffff"/><stop offset="0.18119" stop-color="#f5c9c5"/><stop offset="0.18414" stop-color="#f5c9c5"/><stop offset="0.18414" stop-color="#d71f2e"/><stop offset="0.24010" stop-color="#d71f2e"/><stop offset="0.24010" stop-color="#ffffff"/><stop offset="0.24305" stop-color="#ffffff"/><stop offset="0.24305" stop-color="#f5c9c5"/><stop offset="0.24423" stop-color="#f5c9c5"/><stop offset="0.24423" stop-color="#ffffff"/><stop offset="0.24658" stop-color="#ffffff"/><stop offset="0.24658" stop-color="#f5c9c5"/><stop offset="0.24800" stop-color="#f5c9c5"/><stop offset="0.24800" stop-color="#ffffff"/><stop offset="0.25012" stop-color="#ffffff"/><stop offset="0.25012" stop-color="#cdd0e7"/><stop offset="0.25188" stop-color="#cdd0e7"/><stop offset="0.25188" stop-color="#5a6cb3"/><stop offset="0.25836" stop-color="#5a6cb3"/><stop offset="0.25836" stop-color="#3953a4"/><stop offset="0.26897" stop-color="#3953a4"/><stop offset="0.26897" stop-color="#5a6cb3"/><stop offset="0.27250" stop-color="#5a6cb3"/><stop offset="0.27250" stop-color="#969fd0"/><stop offset="0.27545" stop-color="#969fd0"/><stop offset="0.27545" stop-color="#3953a4"/><stop offset="0.27662" stop-color="#3953a4"/><stop offset="0.27662" stop-color="#969fd0"/><stop offset="0.28016" stop-color="#969fd0"/><stop offset="0.28016" stop-color="#ffffff"/><stop offset="0.28251" stop-color="#ffffff"/><stop offset="0.28251" stop-color="#3953a4"/><stop offset="0.29253" stop-color="#3953a4"/><stop offset="0.29253" stop-color="#5a6cb3"/><stop offset="0.29430" stop-color="#5a6cb3"/><stop offset="0.29430" stop-color="#3953a4"/><stop offset="0.29842" stop-color="#3953a4"/><stop offset="0.29842" stop-color="#d71f2e"/><stop offset="0.31197" stop-color="#d71f2e"/><stop offset="0.31197" stop-color="#f5c9c5"/><stop offset="0.31374" stop-color="#f5c9c5"/><stop offset="0.31374" stop-color="#d71f2e"/><stop offset="0.32787" stop-color="#d71f2e"/><stop offset="0.32787" stop-color="#f5c9c5"/><stop offset="0.33141" stop-color="#f5c9c5"/><stop offset="0.33141" stop-color="#d71f2e"/><stop offset="0.34060" stop-color="#d71f2e"/><stop offset="0.34059" stop-color="#df4b53"/><stop offset="0.34177" stop-color="#df4b53"/><stop offset="0.34177" stop-color="#969fd0"/><stop offset="0.34413" stop-color="#969fd0"/><stop offset="0.34413" stop-color="#cdd0e7"/><stop offset="0.34589" stop-color="#cdd0e7"/><stop offset="0.34589" stop-color="#ffffff"/><stop offset="0.34766" stop-color="#ffffff"/><stop offset="0.34766" stop-color="#f5c9c5"/><stop offset="0.34943" stop-color="#f5c9c5"/><stop offset="0.34943" stop-color="#e88583"/><stop offset="0.35178" stop-color="#e88583"/><stop offset="0.35178" stop-color="#df4b53"/><stop offset="0.35296" stop-color="#df4b53"/><stop offset="0.35296" stop-color="#e88583"/><stop offset="0.35532" stop-color="#e88583"/><stop offset="0.35532" stop-color="#f5c9c5"/><stop offset="0.36062" stop-color="#f5c9c5"/><stop offset="0.36062" stop-color="#ffffff"/><stop offset="0.36239" stop-color="#ffffff"/><stop offset="0.36239" stop-color="#d71f2e"/><stop offset="0.36474" stop-color="#d71f2e"/><stop offset="0.36474" stop-color="#e88583"/><stop offset="0.36651" stop-color="#e88583"/><stop offset="0.36651" stop-color="#df4b53"/><stop offset="0.36887" stop-color="#df4b53"/><stop offset="0.36887" stop-color="#e88583"/><stop offset="0.37064" stop-color="#e88583"/><stop offset="0.37064" stop-color="#ffffff"/><stop offset="0.37240" stop-color="#ffffff"/><stop offset="0.37240" stop-color="#cdd0e7"/><stop offset="0.37535" stop-color="#cdd0e7"/><stop offset="0.37535" stop-color="#5a6cb3"/><stop offset="0.37712" stop-color="#5a6cb3"/><stop offset="0.37712" stop-color="#3953a4"/><stop offset="0.38418" stop-color="#3953a4"/><stop offset="0.38418" stop-color="#cdd0e7"/><stop offset="0.38595" stop-color="#cdd0e7"/><stop offset="0.38595" stop-color="#5a6cb3"/><stop offset="0.38772" stop-color="#5a6cb3"/><stop offset="0.38772" stop-color="#969fd0"/><stop offset="0.39007" stop-color="#969fd0"/><stop offset="0.39007" stop-color="#cdd0e7"/><stop offset="0.39302" stop-color="#cdd0e7"/><stop offset="0.39302" stop-color="#f5c9c5"/><stop offset="0.39479" stop-color="#f5c9c5"/><stop offset="0.39479" stop-color="#e88583"/><stop offset="0.39620" stop-color="#e88583"/><stop offset="0.39620" stop-color="#ffffff"/><stop offset="0.39832" stop-color="#ffffff"/><stop offset="0.39832" stop-color="#d71f2e"/><stop offset="0.40186" stop-color="#d71f2e"/><stop offset="0.40186" stop-color="#e88583"/><stop offset="0.40480" stop-color="#e88583"/><stop offset="0.40480" stop-color="#f5c9c5"/><stop offset="0.40775" stop-color="#f5c9c5"/><stop offset="0.40775" stop-color="#e88583"/><stop offset="0.41010" stop-color="#e88583"/><stop offset="0.41010" stop-color="#df4b53"/><stop offset="0.41505" stop-color="#df4b53"/><stop offset="0.41505" stop-color="#f5c9c5"/><stop offset="0.41835" stop-color="#f5c9c5"/><stop offset="0.41835" stop-color="#cdd0e7"/><stop offset="0.42071" stop-color="#cdd0e7"/><stop offset="0.42071" stop-color="#e88583"/><stop offset="0.42306" stop-color="#e88583"/><stop offset="0.42306" stop-color="#df4b53"/><stop offset="0.42542" stop-color="#df4b53"/><stop offset="0.42542" stop-color="#cdd0e7"/><stop offset="0.42719" stop-color="#cdd0e7"/><stop offset="0.42719" stop-color="#969fd0"/><stop offset="0.42895" stop-color="#969fd0"/><stop offset="0.42895" stop-color="#cdd0e7"/><stop offset="0.43072" stop-color="#cdd0e7"/><stop offset="0.43072" stop-color="#f5c9c5"/><stop offset="0.43308" stop-color="#f5c9c5"/><stop offset="0.43308" stop-color="#d71f2e"/><stop offset="0.44073" stop-color="#d71f2e"/><stop offset="0.44073" stop-color="#e88583"/><stop offset="0.44309" stop-color="#e88583"/><stop offset="0.44309" stop-color="#cdd0e7"/><stop offset="0.44486" stop-color="#cdd0e7"/><stop offset="0.44486" stop-color="#969fd0"/><stop offset="0.44663" stop-color="#969fd0"/><stop offset="0.44663" stop-color="#5a6cb3"/><stop offset="0.44898" stop-color="#5a6cb3"/><stop offset="0.44898" stop-color="#3953a4"/><stop offset="0.45900" stop-color="#3953a4"/><stop offset="0.45900" stop-color="#969fd0"/><stop offset="0.46135" stop-color="#969fd0"/><stop offset="0.46135" stop-color="#cdd0e7"/><stop offset="0.46665" stop-color="#cdd0e7"/><stop offset="0.46665" stop-color="#3953a4"/><stop offset="0.47844" stop-color="#3953a4"/><stop offset="0.47844" stop-color="#5a6cb3"/><stop offset="0.48020" stop-color="#5a6cb3"/><stop offset="0.48020" stop-color="#3953a4"/><stop offset="0.48845" stop-color="#3953a4"/><stop offset="0.48845" stop-color="#cdd0e7"/><stop offset="0.49022" stop-color="#cdd0e7"/><stop offset="0.49022" stop-color="#5a6cb3"/><stop offset="0.49493" stop-color="#5a6cb3"/><stop offset="0.49493" stop-color="#969fd0"/><stop offset="0.49670" stop-color="#969fd0"/><stop offset="0.49670" stop-color="#5a6cb3"/><stop offset="0.49846" stop-color="#5a6cb3"/><stop offset="0.49846" stop-color="#969fd0"/><stop offset="0.50377" stop-color="#969fd0"/><stop offset="0.50377" stop-color="#3953a4"/><stop offset="0.52709" stop-color="#3953a4"/><stop offset="0.52709" stop-color="#5a6cb3"/><stop offset="0.52944" stop-color="#5a6cb3"/><stop offset="0.52944" stop-color="#3953a4"/><stop offset="0.54299" stop-color="#3953a4"/><stop offset="0.54299" stop-color="#969fd0"/><stop offset="0.54511" stop-color="#969fd0"/><stop offset="0.54511" stop-color="#5a6cb3"/><stop offset="0.54888" stop-color="#5a6cb3"/><stop offset="0.54888" stop-color="#cdd0e7"/><stop offset="0.55218" stop-color="#cdd0e7"/><stop offset="0.55218" stop-color="#3953a4"/><stop offset="0.56891" stop-color="#3953a4"/><stop offset="0.56891" stop-color="#5a6cb3"/><stop offset="0.57009" stop-color="#5a6cb3"/><stop offset="0.57009" stop-color="#3953a4"/><stop offset="0.58776" stop-color="#3953a4"/><stop offset="0.58776" stop-color="#5a6cb3"/><stop offset="0.58894" stop-color="#5a6cb3"/><stop offset="0.58894" stop-color="#3953a4"/><stop offset="0.60543" stop-color="#3953a4"/><stop offset="0.60543" stop-color="#ffffff"/><stop offset="0.60685" stop-color="#ffffff"/><stop offset="0.60685" stop-color="#3953a4"/><stop offset="0.60838" stop-color="#3953a4"/><stop offset="0.60838" stop-color="#969fd0"/><stop offset="0.61074" stop-color="#969fd0"/><stop offset="0.61074" stop-color="#3953a4"/><stop offset="0.61839" stop-color="#3953a4"/><stop offset="0.61839" stop-color="#5a6cb3"/><stop offset="0.61957" stop-color="#5a6cb3"/><stop offset="0.61957" stop-color="#3953a4"/><stop offset="0.63018" stop-color="#3953a4"/><stop offset="0.63018" stop-color="#5a6cb3"/><stop offset="0.63312" stop-color="#5a6cb3"/><stop offset="0.63312" stop-color="#ffffff"/><stop offset="0.63489" stop-color="#ffffff"/><stop offset="0.63489" stop-color="#969fd0"/><stop offset="0.63783" stop-color="#969fd0"/><stop offset="0.63783" stop-color="#ffffff"/><stop offset="0.64431" stop-color="#ffffff"/><stop offset="0.64431" stop-color="#f5c9c5"/><stop offset="0.64726" stop-color="#f5c9c5"/><stop offset="0.64726" stop-color="#e88583"/><stop offset="0.64961" stop-color="#e88583"/><stop offset="0.64961" stop-color="#3953a4"/><stop offset="0.65374" stop-color="#3953a4"/><stop offset="0.65374" stop-color="#969fd0"/><stop offset="0.65668" stop-color="#969fd0"/><stop offset="0.65668" stop-color="#3953a4"/><stop offset="0.68319" stop-color="#3953a4"/><stop offset="0.68319" stop-color="#e88583"/><stop offset="0.68413" stop-color="#e88583"/><stop offset="0.68413" stop-color="#f5c9c5"/><stop offset="0.68590" stop-color="#f5c9c5"/><stop offset="0.68590" stop-color="#ffffff"/><stop offset="0.68943" stop-color="#ffffff"/><stop offset="0.68943" stop-color="#f5c9c5"/><stop offset="0.69096" stop-color="#f5c9c5"/><stop offset="0.69096" stop-color="#969fd0"/><stop offset="0.69297" stop-color="#969fd0"/><stop offset="0.69297" stop-color="#e88583"/><stop offset="0.69473" stop-color="#e88583"/><stop offset="0.69473" stop-color="#f5c9c5"/><stop offset="0.69650" stop-color="#f5c9c5"/><stop offset="0.69650" stop-color="#ffffff"/><stop offset="0.69945" stop-color="#ffffff"/><stop offset="0.69945" stop-color="#cdd0e7"/><stop offset="0.70239" stop-color="#cdd0e7"/><stop offset="0.70239" stop-color="#3953a4"/><stop offset="0.70651" stop-color="#3953a4"/><stop offset="0.70651" stop-color="#5a6cb3"/><stop offset="0.70769" stop-color="#5a6cb3"/><stop offset="0.70769" stop-color="#3953a4"/><stop offset="0.71535" stop-color="#3953a4"/><stop offset="0.71535" stop-color="#cdd0e7"/><stop offset="0.71771" stop-color="#cdd0e7"/><stop offset="0.71771" stop-color="#3953a4"/><stop offset="0.71889" stop-color="#3953a4"/><stop offset="0.71889" stop-color="#ffffff"/><stop offset="0.72183" stop-color="#ffffff"/><stop offset="0.72183" stop-color="#969fd0"/><stop offset="0.72478" stop-color="#969fd0"/><stop offset="0.72478" stop-color="#5a6cb3"/><stop offset="0.72654" stop-color="#5a6cb3"/><stop offset="0.72654" stop-color="#969fd0"/><stop offset="0.72890" stop-color="#969fd0"/><stop offset="0.72890" stop-color="#5a6cb3"/><stop offset="0.73184" stop-color="#5a6cb3"/><stop offset="0.73184" stop-color="#3953a4"/><stop offset="0.73891" stop-color="#3953a4"/><stop offset="0.73891" stop-color="#cdd0e7"/><stop offset="0.74068" stop-color="#cdd0e7"/><stop offset="0.74068" stop-color="#3953a4"/><stop offset="0.74363" stop-color="#3953a4"/><stop offset="0.74363" stop-color="#f5c9c5"/><stop offset="0.74598" stop-color="#f5c9c5"/><stop offset="0.74598" stop-color="#ffffff"/><stop offset="0.74834" stop-color="#ffffff"/><stop offset="0.74834" stop-color="#cdd0e7"/><stop offset="0.75011" stop-color="#cdd0e7"/><stop offset="0.75011" stop-color="#f5c9c5"/><stop offset="0.75246" stop-color="#f5c9c5"/><stop offset="0.75246" stop-color="#cdd0e7"/><stop offset="0.75423" stop-color="#cdd0e7"/><stop offset="0.75423" stop-color="#3953a4"/><stop offset="0.77131" stop-color="#3953a4"/><stop offset="0.77131" stop-color="#5a6cb3"/><stop offset="0.77249" stop-color="#5a6cb3"/><stop offset="0.77249" stop-color="#3953a4"/><stop offset="0.80666" stop-color="#3953a4"/><stop offset="0.80666" stop-color="#969fd0"/><stop offset="0.80901" stop-color="#969fd0"/><stop offset="0.80901" stop-color="#5a6cb3"/><stop offset="0.81137" stop-color="#5a6cb3"/><stop offset="0.81137" stop-color="#969fd0"/><stop offset="0.81314" stop-color="#969fd0"/><stop offset="0.81314" stop-color="#3953a4"/><stop offset="0.83140" stop-color="#3953a4"/><stop offset="0.83140" stop-color="#5a6cb3"/><stop offset="0.83258" stop-color="#5a6cb3"/><stop offset="0.83258" stop-color="#3953a4"/><stop offset="0.87002" stop-color="#3953a4"/><stop offset="0.87002" stop-color="#969fd0"/><stop offset="0.87178" stop-color="#969fd0"/><stop offset="0.87178" stop-color="#5a6cb3"/><stop offset="0.87473" stop-color="#5a6cb3"/><stop offset="0.87473" stop-color="#3953a4"/><stop offset="0.89829" stop-color="#3953a4"/><stop offset="0.89829" stop-color="#cdd0e7"/><stop offset="0.90124" stop-color="#cdd0e7"/><stop offset="0.90124" stop-color="#5a6cb3"/><stop offset="0.90418" stop-color="#5a6cb3"/><stop offset="0.90418" stop-color="#3953a4"/><stop offset="0.91007" stop-color="#3953a4"/><stop offset="0.91007" stop-color="#f5c9c5"/><stop offset="0.91302" stop-color="#f5c9c5"/><stop offset="0.91302" stop-color="#5a6cb3"/><stop offset="0.91596" stop-color="#5a6cb3"/><stop offset="0.91596" stop-color="#969fd0"/><stop offset="0.91950" stop-color="#969fd0"/><stop offset="0.91950" stop-color="#5a6cb3"/><stop offset="0.92185" stop-color="#5a6cb3"/><stop offset="0.92185" stop-color="#969fd0"/><stop offset="0.92480" stop-color="#969fd0"/><stop offset="0.92480" stop-color="#5a6cb3"/><stop offset="0.92774" stop-color="#5a6cb3"/><stop offset="0.92774" stop-color="#f5c9c5"/><stop offset="0.92951" stop-color="#f5c9c5"/><stop offset="0.92951" stop-color="#ffffff"/><stop offset="0.93222" stop-color="#ffffff"/><stop offset="0.93222" stop-color="#3953a4"/><stop offset="0.94424" stop-color="#3953a4"/><stop offset="0.94424" stop-color="#5a6cb3"/><stop offset="0.94542" stop-color="#5a6cb3"/><stop offset="0.94542" stop-color="#3953a4"/><stop offset="0.95307" stop-color="#3953a4"/><stop offset="0.95307" stop-color="#5a6cb3"/><stop offset="0.95425" stop-color="#5a6cb3"/><stop offset="0.95425" stop-color="#3953a4"/><stop offset="0.97605" stop-color="#3953a4"/><stop offset="0.97605" stop-color="#f5c9c5"/><stop offset="0.97899" stop-color="#f5c9c5"/><stop offset="0.97899" stop-color="#e88583"/><stop offset="0.98135" stop-color="#e88583"/><stop offset="0.98135" stop-color="#df4b53"/><stop offset="0.98430" stop-color="#df4b53"/><stop offset="0.98430" stop-color="#d71f2e"/><stop offset="0.99254" stop-color="#d71f2e"/><stop offset="0.99254" stop-color="#f5c9c5"/><stop offset="0.99407" stop-color="#f5c9c5"/><stop offset="0.99407" stop-color="#d71f2e"/><stop offset="0.99996" stop-color="#d71f2e"/></linearGradient>
<linearGradient id="hr2" gradientUnits="userSpaceOnUse" x1="259.80" y1="0" x2="1889.90" y2="0"><stop offset="0.00000" stop-color="#d71f2e"/><stop offset="0.00412" stop-color="#d71f2e"/><stop offset="0.00412" stop-color="#df4b53"/><stop offset="0.00589" stop-color="#df4b53"/><stop offset="0.00589" stop-color="#e88583"/><stop offset="0.00825" stop-color="#e88583"/><stop offset="0.00825" stop-color="#df4b53"/><stop offset="0.01001" stop-color="#df4b53"/><stop offset="0.01001" stop-color="#d71f2e"/><stop offset="0.01178" stop-color="#d71f2e"/><stop offset="0.01178" stop-color="#df4b53"/><stop offset="0.01296" stop-color="#df4b53"/><stop offset="0.01296" stop-color="#d71f2e"/><stop offset="0.03947" stop-color="#d71f2e"/><stop offset="0.03947" stop-color="#df4b53"/><stop offset="0.04065" stop-color="#df4b53"/><stop offset="0.04065" stop-color="#d71f2e"/><stop offset="0.04677" stop-color="#d71f2e"/><stop offset="0.04677" stop-color="#3953a4"/><stop offset="0.05066" stop-color="#3953a4"/><stop offset="0.05066" stop-color="#cdd0e7"/><stop offset="0.05302" stop-color="#cdd0e7"/><stop offset="0.05302" stop-color="#969fd0"/><stop offset="0.05420" stop-color="#969fd0"/><stop offset="0.05420" stop-color="#3953a4"/><stop offset="0.05714" stop-color="#3953a4"/><stop offset="0.05714" stop-color="#969fd0"/><stop offset="0.05950" stop-color="#969fd0"/><stop offset="0.05950" stop-color="#cdd0e7"/><stop offset="0.06244" stop-color="#cdd0e7"/><stop offset="0.06244" stop-color="#3953a4"/><stop offset="0.06892" stop-color="#3953a4"/><stop offset="0.06892" stop-color="#5a6cb3"/><stop offset="0.07128" stop-color="#5a6cb3"/><stop offset="0.07128" stop-color="#cdd0e7"/><stop offset="0.07246" stop-color="#cdd0e7"/><stop offset="0.07246" stop-color="#ffffff"/><stop offset="0.07623" stop-color="#ffffff"/><stop offset="0.07623" stop-color="#cdd0e7"/><stop offset="0.07835" stop-color="#cdd0e7"/><stop offset="0.07835" stop-color="#969fd0"/><stop offset="0.08895" stop-color="#969fd0"/><stop offset="0.08895" stop-color="#3953a4"/><stop offset="0.09249" stop-color="#3953a4"/><stop offset="0.09249" stop-color="#ffffff"/><stop offset="0.09366" stop-color="#ffffff"/><stop offset="0.09366" stop-color="#e88583"/><stop offset="0.09720" stop-color="#e88583"/><stop offset="0.09720" stop-color="#f5c9c5"/><stop offset="0.09955" stop-color="#f5c9c5"/><stop offset="0.09955" stop-color="#e88583"/><stop offset="0.10132" stop-color="#e88583"/><stop offset="0.10132" stop-color="#f5c9c5"/><stop offset="0.10368" stop-color="#f5c9c5"/><stop offset="0.10368" stop-color="#e88583"/><stop offset="0.10721" stop-color="#e88583"/><stop offset="0.10721" stop-color="#cdd0e7"/><stop offset="0.11075" stop-color="#cdd0e7"/><stop offset="0.11075" stop-color="#ffffff"/><stop offset="0.11546" stop-color="#ffffff"/><stop offset="0.11546" stop-color="#f5c9c5"/><stop offset="0.11723" stop-color="#f5c9c5"/><stop offset="0.11723" stop-color="#e88583"/><stop offset="0.12312" stop-color="#e88583"/><stop offset="0.12312" stop-color="#f5c9c5"/><stop offset="0.12547" stop-color="#f5c9c5"/><stop offset="0.12547" stop-color="#ffffff"/><stop offset="0.13254" stop-color="#ffffff"/><stop offset="0.13254" stop-color="#969fd0"/><stop offset="0.13490" stop-color="#969fd0"/><stop offset="0.13490" stop-color="#e88583"/><stop offset="0.13843" stop-color="#e88583"/><stop offset="0.13843" stop-color="#df4b53"/><stop offset="0.14315" stop-color="#df4b53"/><stop offset="0.14315" stop-color="#d71f2e"/><stop offset="0.14609" stop-color="#d71f2e"/><stop offset="0.14609" stop-color="#f5c9c5"/><stop offset="0.14786" stop-color="#f5c9c5"/><stop offset="0.14786" stop-color="#e88583"/><stop offset="0.15021" stop-color="#e88583"/><stop offset="0.15021" stop-color="#f5c9c5"/><stop offset="0.15198" stop-color="#f5c9c5"/><stop offset="0.15198" stop-color="#ffffff"/><stop offset="0.15552" stop-color="#ffffff"/><stop offset="0.15552" stop-color="#d71f2e"/><stop offset="0.17684" stop-color="#d71f2e"/><stop offset="0.17684" stop-color="#3953a4"/><stop offset="0.18178" stop-color="#3953a4"/><stop offset="0.18178" stop-color="#969fd0"/><stop offset="0.18414" stop-color="#969fd0"/><stop offset="0.18414" stop-color="#ffffff"/><stop offset="0.18591" stop-color="#ffffff"/><stop offset="0.18591" stop-color="#969fd0"/><stop offset="0.18709" stop-color="#969fd0"/><stop offset="0.18709" stop-color="#ffffff"/><stop offset="0.19003" stop-color="#ffffff"/><stop offset="0.19003" stop-color="#969fd0"/><stop offset="0.19298" stop-color="#969fd0"/><stop offset="0.19298" stop-color="#3953a4"/><stop offset="0.20417" stop-color="#3953a4"/><stop offset="0.20417" stop-color="#5a6cb3"/><stop offset="0.20652" stop-color="#5a6cb3"/><stop offset="0.20652" stop-color="#3953a4"/><stop offset="0.21890" stop-color="#3953a4"/><stop offset="0.21890" stop-color="#969fd0"/><stop offset="0.22125" stop-color="#969fd0"/><stop offset="0.22125" stop-color="#3953a4"/><stop offset="0.22420" stop-color="#3953a4"/><stop offset="0.22420" stop-color="#5a6cb3"/><stop offset="0.22655" stop-color="#5a6cb3"/><stop offset="0.22655" stop-color="#3953a4"/><stop offset="0.23951" stop-color="#3953a4"/><stop offset="0.23951" stop-color="#d71f2e"/><stop offset="0.29901" stop-color="#d71f2e"/><stop offset="0.29901" stop-color="#f5c9c5"/><stop offset="0.30019" stop-color="#f5c9c5"/><stop offset="0.30019" stop-color="#ffffff"/><stop offset="0.30313" stop-color="#ffffff"/><stop offset="0.30313" stop-color="#f5c9c5"/><stop offset="0.30431" stop-color="#f5c9c5"/><stop offset="0.30431" stop-color="#e88583"/><stop offset="0.30784" stop-color="#e88583"/><stop offset="0.30784" stop-color="#d71f2e"/><stop offset="0.31315" stop-color="#d71f2e"/><stop offset="0.31315" stop-color="#e88583"/><stop offset="0.31550" stop-color="#e88583"/><stop offset="0.31550" stop-color="#df4b53"/><stop offset="0.31786" stop-color="#df4b53"/><stop offset="0.31786" stop-color="#e88583"/><stop offset="0.31963" stop-color="#e88583"/><stop offset="0.31963" stop-color="#df4b53"/><stop offset="0.32257" stop-color="#df4b53"/><stop offset="0.32257" stop-color="#f5c9c5"/><stop offset="0.32552" stop-color="#f5c9c5"/><stop offset="0.32552" stop-color="#e88583"/><stop offset="0.32964" stop-color="#e88583"/><stop offset="0.32964" stop-color="#ffffff"/><stop offset="0.33141" stop-color="#ffffff"/><stop offset="0.33141" stop-color="#3953a4"/><stop offset="0.33376" stop-color="#3953a4"/><stop offset="0.33376" stop-color="#5a6cb3"/><stop offset="0.33612" stop-color="#5a6cb3"/><stop offset="0.33612" stop-color="#3953a4"/><stop offset="0.35178" stop-color="#3953a4"/><stop offset="0.35178" stop-color="#f5c9c5"/><stop offset="0.35473" stop-color="#f5c9c5"/><stop offset="0.35473" stop-color="#d71f2e"/><stop offset="0.36180" stop-color="#d71f2e"/><stop offset="0.36180" stop-color="#e88583"/><stop offset="0.36416" stop-color="#e88583"/><stop offset="0.36416" stop-color="#df4b53"/><stop offset="0.36651" stop-color="#df4b53"/><stop offset="0.36651" stop-color="#f5c9c5"/><stop offset="0.36828" stop-color="#f5c9c5"/><stop offset="0.36828" stop-color="#ffffff"/><stop offset="0.37181" stop-color="#ffffff"/><stop offset="0.37181" stop-color="#f5c9c5"/><stop offset="0.37535" stop-color="#f5c9c5"/><stop offset="0.37535" stop-color="#d71f2e"/><stop offset="0.38124" stop-color="#d71f2e"/><stop offset="0.38124" stop-color="#df4b53"/><stop offset="0.38301" stop-color="#df4b53"/><stop offset="0.38301" stop-color="#d71f2e"/><stop offset="0.38595" stop-color="#d71f2e"/><stop offset="0.38595" stop-color="#e88583"/><stop offset="0.39007" stop-color="#e88583"/><stop offset="0.39007" stop-color="#3953a4"/><stop offset="0.40009" stop-color="#3953a4"/><stop offset="0.40009" stop-color="#5a6cb3"/><stop offset="0.40186" stop-color="#5a6cb3"/><stop offset="0.40186" stop-color="#969fd0"/><stop offset="0.40362" stop-color="#969fd0"/><stop offset="0.40362" stop-color="#3953a4"/><stop offset="0.41187" stop-color="#3953a4"/><stop offset="0.41187" stop-color="#969fd0"/><stop offset="0.41423" stop-color="#969fd0"/><stop offset="0.41423" stop-color="#3953a4"/><stop offset="0.44309" stop-color="#3953a4"/><stop offset="0.44309" stop-color="#ffffff"/><stop offset="0.44604" stop-color="#ffffff"/><stop offset="0.44604" stop-color="#cdd0e7"/><stop offset="0.44839" stop-color="#cdd0e7"/><stop offset="0.44839" stop-color="#969fd0"/><stop offset="0.45134" stop-color="#969fd0"/><stop offset="0.45134" stop-color="#cdd0e7"/><stop offset="0.45664" stop-color="#cdd0e7"/><stop offset="0.45664" stop-color="#969fd0"/><stop offset="0.45959" stop-color="#969fd0"/><stop offset="0.45959" stop-color="#3953a4"/><stop offset="0.46783" stop-color="#3953a4"/><stop offset="0.46783" stop-color="#5a6cb3"/><stop offset="0.47019" stop-color="#5a6cb3"/><stop offset="0.47019" stop-color="#3953a4"/><stop offset="0.48374" stop-color="#3953a4"/><stop offset="0.48374" stop-color="#969fd0"/><stop offset="0.48845" stop-color="#969fd0"/><stop offset="0.48845" stop-color="#3953a4"/><stop offset="0.49375" stop-color="#3953a4"/><stop offset="0.49375" stop-color="#5a6cb3"/><stop offset="0.49729" stop-color="#5a6cb3"/><stop offset="0.49729" stop-color="#3953a4"/><stop offset="0.50494" stop-color="#3953a4"/><stop offset="0.50494" stop-color="#969fd0"/><stop offset="0.51237" stop-color="#969fd0"/><stop offset="0.51236" stop-color="#3953a4"/><stop offset="0.52414" stop-color="#3953a4"/><stop offset="0.52414" stop-color="#5a6cb3"/><stop offset="0.52532" stop-color="#5a6cb3"/><stop offset="0.52532" stop-color="#3953a4"/><stop offset="0.53121" stop-color="#3953a4"/><stop offset="0.53121" stop-color="#5a6cb3"/><stop offset="0.53239" stop-color="#5a6cb3"/><stop offset="0.53239" stop-color="#3953a4"/><stop offset="0.54535" stop-color="#3953a4"/><stop offset="0.54535" stop-color="#5a6cb3"/><stop offset="0.55242" stop-color="#5a6cb3"/><stop offset="0.55242" stop-color="#3953a4"/><stop offset="0.57362" stop-color="#3953a4"/><stop offset="0.57362" stop-color="#5a6cb3"/><stop offset="0.57480" stop-color="#5a6cb3"/><stop offset="0.57480" stop-color="#3953a4"/><stop offset="0.60072" stop-color="#3953a4"/><stop offset="0.60072" stop-color="#cdd0e7"/><stop offset="0.60249" stop-color="#cdd0e7"/><stop offset="0.60249" stop-color="#969fd0"/><stop offset="0.60543" stop-color="#969fd0"/><stop offset="0.60543" stop-color="#3953a4"/><stop offset="0.60779" stop-color="#3953a4"/><stop offset="0.60779" stop-color="#5a6cb3"/><stop offset="0.61015" stop-color="#5a6cb3"/><stop offset="0.61015" stop-color="#3953a4"/><stop offset="0.61486" stop-color="#3953a4"/><stop offset="0.61486" stop-color="#969fd0"/><stop offset="0.61663" stop-color="#969fd0"/><stop offset="0.61663" stop-color="#3953a4"/><stop offset="0.63724" stop-color="#3953a4"/><stop offset="0.63724" stop-color="#969fd0"/><stop offset="0.64078" stop-color="#969fd0"/><stop offset="0.64078" stop-color="#5a6cb3"/><stop offset="0.64314" stop-color="#5a6cb3"/><stop offset="0.64314" stop-color="#969fd0"/><stop offset="0.64549" stop-color="#969fd0"/><stop offset="0.64549" stop-color="#3953a4"/><stop offset="0.65492" stop-color="#3953a4"/><stop offset="0.65492" stop-color="#5a6cb3"/><stop offset="0.65609" stop-color="#5a6cb3"/><stop offset="0.65609" stop-color="#3953a4"/><stop offset="0.67141" stop-color="#3953a4"/><stop offset="0.67141" stop-color="#5a6cb3"/><stop offset="0.67259" stop-color="#5a6cb3"/><stop offset="0.67259" stop-color="#3953a4"/><stop offset="0.68319" stop-color="#3953a4"/><stop offset="0.68319" stop-color="#cdd0e7"/><stop offset="0.68413" stop-color="#cdd0e7"/><stop offset="0.68413" stop-color="#ffffff"/><stop offset="0.68649" stop-color="#ffffff"/><stop offset="0.68649" stop-color="#f5c9c5"/><stop offset="0.68884" stop-color="#f5c9c5"/><stop offset="0.68884" stop-color="#cdd0e7"/><stop offset="0.69179" stop-color="#cdd0e7"/><stop offset="0.69179" stop-color="#969fd0"/><stop offset="0.69532" stop-color="#969fd0"/><stop offset="0.69532" stop-color="#5a6cb3"/><stop offset="0.69886" stop-color="#5a6cb3"/><stop offset="0.69886" stop-color="#969fd0"/><stop offset="0.70239" stop-color="#969fd0"/><stop offset="0.70239" stop-color="#f5c9c5"/><stop offset="0.70593" stop-color="#f5c9c5"/><stop offset="0.70593" stop-color="#ffffff"/><stop offset="0.70828" stop-color="#ffffff"/><stop offset="0.70828" stop-color="#e88583"/><stop offset="0.71123" stop-color="#e88583"/><stop offset="0.71123" stop-color="#f5c9c5"/><stop offset="0.71299" stop-color="#f5c9c5"/><stop offset="0.71299" stop-color="#d71f2e"/><stop offset="0.71417" stop-color="#d71f2e"/><stop offset="0.71417" stop-color="#ffffff"/><stop offset="0.71594" stop-color="#ffffff"/><stop offset="0.71594" stop-color="#f5c9c5"/><stop offset="0.71830" stop-color="#f5c9c5"/><stop offset="0.71830" stop-color="#ffffff"/><stop offset="0.72183" stop-color="#ffffff"/><stop offset="0.72183" stop-color="#f5c9c5"/><stop offset="0.72478" stop-color="#f5c9c5"/><stop offset="0.72478" stop-color="#e88583"/><stop offset="0.73184" stop-color="#e88583"/><stop offset="0.73184" stop-color="#d71f2e"/><stop offset="0.73361" stop-color="#d71f2e"/><stop offset="0.73361" stop-color="#cdd0e7"/><stop offset="0.73656" stop-color="#cdd0e7"/><stop offset="0.73656" stop-color="#f5c9c5"/><stop offset="0.73950" stop-color="#f5c9c5"/><stop offset="0.73950" stop-color="#d71f2e"/><stop offset="0.76542" stop-color="#d71f2e"/><stop offset="0.76542" stop-color="#f5c9c5"/><stop offset="0.76660" stop-color="#f5c9c5"/><stop offset="0.76660" stop-color="#cdd0e7"/><stop offset="0.76955" stop-color="#cdd0e7"/><stop offset="0.76955" stop-color="#ffffff"/><stop offset="0.77190" stop-color="#ffffff"/><stop offset="0.77190" stop-color="#f5c9c5"/><stop offset="0.77720" stop-color="#f5c9c5"/><stop offset="0.77720" stop-color="#e88583"/><stop offset="0.77838" stop-color="#e88583"/><stop offset="0.77838" stop-color="#f5c9c5"/><stop offset="0.78663" stop-color="#f5c9c5"/><stop offset="0.78663" stop-color="#d71f2e"/><stop offset="0.78781" stop-color="#d71f2e"/><stop offset="0.78781" stop-color="#e88583"/><stop offset="0.79311" stop-color="#e88583"/><stop offset="0.79311" stop-color="#df4b53"/><stop offset="0.79664" stop-color="#df4b53"/><stop offset="0.79664" stop-color="#d71f2e"/><stop offset="0.81903" stop-color="#d71f2e"/><stop offset="0.81903" stop-color="#3953a4"/><stop offset="0.83316" stop-color="#3953a4"/><stop offset="0.83316" stop-color="#ffffff"/><stop offset="0.83611" stop-color="#ffffff"/><stop offset="0.83611" stop-color="#f5c9c5"/><stop offset="0.83964" stop-color="#f5c9c5"/><stop offset="0.83964" stop-color="#969fd0"/><stop offset="0.84200" stop-color="#969fd0"/><stop offset="0.84200" stop-color="#f5c9c5"/><stop offset="0.84554" stop-color="#f5c9c5"/><stop offset="0.84554" stop-color="#ffffff"/><stop offset="0.84730" stop-color="#ffffff"/><stop offset="0.84730" stop-color="#e88583"/><stop offset="0.85084" stop-color="#e88583"/><stop offset="0.85084" stop-color="#3953a4"/><stop offset="0.85823" stop-color="#3953a4"/><stop offset="0.85823" stop-color="#5a6cb3"/><stop offset="0.86118" stop-color="#5a6cb3"/><stop offset="0.86118" stop-color="#969fd0"/><stop offset="0.86471" stop-color="#969fd0"/><stop offset="0.86471" stop-color="#5a6cb3"/><stop offset="0.86707" stop-color="#5a6cb3"/><stop offset="0.86707" stop-color="#e88583"/><stop offset="0.87002" stop-color="#e88583"/><stop offset="0.87002" stop-color="#cdd0e7"/><stop offset="0.87237" stop-color="#cdd0e7"/><stop offset="0.87237" stop-color="#e88583"/><stop offset="0.87591" stop-color="#e88583"/><stop offset="0.87591" stop-color="#df4b53"/><stop offset="0.87767" stop-color="#df4b53"/><stop offset="0.87767" stop-color="#ffffff"/><stop offset="0.87944" stop-color="#ffffff"/><stop offset="0.87944" stop-color="#f5c9c5"/><stop offset="0.88356" stop-color="#f5c9c5"/><stop offset="0.88356" stop-color="#df4b53"/><stop offset="0.88887" stop-color="#df4b53"/><stop offset="0.88887" stop-color="#cdd0e7"/><stop offset="0.89122" stop-color="#cdd0e7"/><stop offset="0.89122" stop-color="#f5c9c5"/><stop offset="0.89417" stop-color="#f5c9c5"/><stop offset="0.89417" stop-color="#cdd0e7"/><stop offset="0.89829" stop-color="#cdd0e7"/><stop offset="0.89829" stop-color="#3953a4"/><stop offset="0.91891" stop-color="#3953a4"/><stop offset="0.91891" stop-color="#ffffff"/><stop offset="0.92303" stop-color="#ffffff"/><stop offset="0.92303" stop-color="#969fd0"/><stop offset="0.92539" stop-color="#969fd0"/><stop offset="0.92539" stop-color="#3953a4"/><stop offset="0.93246" stop-color="#3953a4"/><stop offset="0.93246" stop-color="#5a6cb3"/><stop offset="0.93364" stop-color="#5a6cb3"/><stop offset="0.93364" stop-color="#3953a4"/><stop offset="0.94012" stop-color="#3953a4"/><stop offset="0.94012" stop-color="#969fd0"/><stop offset="0.94306" stop-color="#969fd0"/><stop offset="0.94306" stop-color="#5a6cb3"/><stop offset="0.94542" stop-color="#5a6cb3"/><stop offset="0.94542" stop-color="#969fd0"/><stop offset="0.94718" stop-color="#969fd0"/><stop offset="0.94718" stop-color="#cdd0e7"/><stop offset="0.94954" stop-color="#cdd0e7"/><stop offset="0.94954" stop-color="#3953a4"/><stop offset="0.96721" stop-color="#3953a4"/><stop offset="0.96721" stop-color="#cdd0e7"/><stop offset="0.96898" stop-color="#cdd0e7"/><stop offset="0.96898" stop-color="#5a6cb3"/><stop offset="0.97310" stop-color="#5a6cb3"/><stop offset="0.97310" stop-color="#969fd0"/><stop offset="0.97605" stop-color="#969fd0"/><stop offset="0.97605" stop-color="#ffffff"/><stop offset="0.98194" stop-color="#ffffff"/><stop offset="0.98194" stop-color="#f5c9c5"/><stop offset="0.98371" stop-color="#f5c9c5"/><stop offset="0.98371" stop-color="#ffffff"/><stop offset="0.98665" stop-color="#ffffff"/><stop offset="0.98665" stop-color="#3953a4"/><stop offset="0.99996" stop-color="#3953a4"/></linearGradient>
<linearGradient id="hr3" gradientUnits="userSpaceOnUse" x1="259.80" y1="0" x2="1889.90" y2="0"><stop offset="0.00000" stop-color="#f5c9c5"/><stop offset="0.00177" stop-color="#f5c9c5"/><stop offset="0.00177" stop-color="#e88583"/><stop offset="0.00354" stop-color="#e88583"/><stop offset="0.00354" stop-color="#df4b53"/><stop offset="0.00648" stop-color="#df4b53"/><stop offset="0.00648" stop-color="#f5c9c5"/><stop offset="0.00884" stop-color="#f5c9c5"/><stop offset="0.00884" stop-color="#d71f2e"/><stop offset="0.01708" stop-color="#d71f2e"/><stop offset="0.01708" stop-color="#f5c9c5"/><stop offset="0.02062" stop-color="#f5c9c5"/><stop offset="0.02062" stop-color="#d71f2e"/><stop offset="0.02769" stop-color="#d71f2e"/><stop offset="0.02769" stop-color="#e88583"/><stop offset="0.03122" stop-color="#e88583"/><stop offset="0.03122" stop-color="#d71f2e"/><stop offset="0.03535" stop-color="#d71f2e"/><stop offset="0.03535" stop-color="#e88583"/><stop offset="0.03829" stop-color="#e88583"/><stop offset="0.03829" stop-color="#df4b53"/><stop offset="0.03947" stop-color="#df4b53"/><stop offset="0.03947" stop-color="#d71f2e"/><stop offset="0.04654" stop-color="#d71f2e"/><stop offset="0.04654" stop-color="#f5c9c5"/><stop offset="0.04889" stop-color="#f5c9c5"/><stop offset="0.04889" stop-color="#e88583"/><stop offset="0.05125" stop-color="#e88583"/><stop offset="0.05125" stop-color="#f5c9c5"/><stop offset="0.05420" stop-color="#f5c9c5"/><stop offset="0.05420" stop-color="#d71f2e"/><stop offset="0.07187" stop-color="#d71f2e"/><stop offset="0.07187" stop-color="#f5c9c5"/><stop offset="0.07481" stop-color="#f5c9c5"/><stop offset="0.07481" stop-color="#df4b53"/><stop offset="0.07835" stop-color="#df4b53"/><stop offset="0.07835" stop-color="#e88583"/><stop offset="0.08247" stop-color="#e88583"/><stop offset="0.08247" stop-color="#d71f2e"/><stop offset="0.10191" stop-color="#d71f2e"/><stop offset="0.10191" stop-color="#df4b53"/><stop offset="0.10368" stop-color="#df4b53"/><stop offset="0.10368" stop-color="#d71f2e"/><stop offset="0.10721" stop-color="#d71f2e"/><stop offset="0.10721" stop-color="#f5c9c5"/><stop offset="0.11075" stop-color="#f5c9c5"/><stop offset="0.11075" stop-color="#e88583"/><stop offset="0.11605" stop-color="#e88583"/><stop offset="0.11605" stop-color="#f5c9c5"/><stop offset="0.12076" stop-color="#f5c9c5"/><stop offset="0.12076" stop-color="#3953a4"/><stop offset="0.12901" stop-color="#3953a4"/><stop offset="0.12901" stop-color="#5a6cb3"/><stop offset="0.13136" stop-color="#5a6cb3"/><stop offset="0.13136" stop-color="#3953a4"/><stop offset="0.13667" stop-color="#3953a4"/><stop offset="0.13667" stop-color="#969fd0"/><stop offset="0.13961" stop-color="#969fd0"/><stop offset="0.13961" stop-color="#ffffff"/><stop offset="0.14138" stop-color="#ffffff"/><stop offset="0.14138" stop-color="#969fd0"/><stop offset="0.14432" stop-color="#969fd0"/><stop offset="0.14432" stop-color="#cdd0e7"/><stop offset="0.14727" stop-color="#cdd0e7"/><stop offset="0.14727" stop-color="#3953a4"/><stop offset="0.16612" stop-color="#3953a4"/><stop offset="0.16612" stop-color="#969fd0"/><stop offset="0.16883" stop-color="#969fd0"/><stop offset="0.16882" stop-color="#cdd0e7"/><stop offset="0.17000" stop-color="#cdd0e7"/><stop offset="0.17000" stop-color="#969fd0"/><stop offset="0.17236" stop-color="#969fd0"/><stop offset="0.17236" stop-color="#3953a4"/><stop offset="0.17943" stop-color="#3953a4"/><stop offset="0.17943" stop-color="#5a6cb3"/><stop offset="0.18119" stop-color="#5a6cb3"/><stop offset="0.18119" stop-color="#3953a4"/><stop offset="0.18944" stop-color="#3953a4"/><stop offset="0.18944" stop-color="#969fd0"/><stop offset="0.19121" stop-color="#969fd0"/><stop offset="0.19121" stop-color="#ffffff"/><stop offset="0.19298" stop-color="#ffffff"/><stop offset="0.19298" stop-color="#3953a4"/><stop offset="0.20004" stop-color="#3953a4"/><stop offset="0.20004" stop-color="#cdd0e7"/><stop offset="0.20417" stop-color="#cdd0e7"/><stop offset="0.20417" stop-color="#3953a4"/><stop offset="0.22832" stop-color="#3953a4"/><stop offset="0.22832" stop-color="#ffffff"/><stop offset="0.23068" stop-color="#ffffff"/><stop offset="0.23068" stop-color="#969fd0"/><stop offset="0.23185" stop-color="#969fd0"/><stop offset="0.23185" stop-color="#5a6cb3"/><stop offset="0.23362" stop-color="#5a6cb3"/><stop offset="0.23362" stop-color="#ffffff"/><stop offset="0.23574" stop-color="#ffffff"/><stop offset="0.23574" stop-color="#969fd0"/><stop offset="0.23716" stop-color="#969fd0"/><stop offset="0.23716" stop-color="#3953a4"/><stop offset="0.23951" stop-color="#3953a4"/><stop offset="0.23951" stop-color="#5a6cb3"/><stop offset="0.24069" stop-color="#5a6cb3"/><stop offset="0.24069" stop-color="#3953a4"/><stop offset="0.26308" stop-color="#3953a4"/><stop offset="0.26308" stop-color="#969fd0"/><stop offset="0.26484" stop-color="#969fd0"/><stop offset="0.26484" stop-color="#3953a4"/><stop offset="0.26602" stop-color="#3953a4"/><stop offset="0.26602" stop-color="#969fd0"/><stop offset="0.26779" stop-color="#969fd0"/><stop offset="0.26779" stop-color="#3953a4"/><stop offset="0.27627" stop-color="#3953a4"/><stop offset="0.27627" stop-color="#ffffff"/><stop offset="0.27816" stop-color="#ffffff"/><stop offset="0.27816" stop-color="#3953a4"/><stop offset="0.28251" stop-color="#3953a4"/><stop offset="0.28251" stop-color="#ffffff"/><stop offset="0.28723" stop-color="#ffffff"/><stop offset="0.28723" stop-color="#969fd0"/><stop offset="0.29017" stop-color="#969fd0"/><stop offset="0.29017" stop-color="#3953a4"/><stop offset="0.29842" stop-color="#3953a4"/><stop offset="0.29842" stop-color="#cdd0e7"/><stop offset="0.30549" stop-color="#cdd0e7"/><stop offset="0.30549" stop-color="#f5c9c5"/><stop offset="0.30784" stop-color="#f5c9c5"/><stop offset="0.30784" stop-color="#969fd0"/><stop offset="0.30961" stop-color="#969fd0"/><stop offset="0.30961" stop-color="#f5c9c5"/><stop offset="0.31374" stop-color="#f5c9c5"/><stop offset="0.31374" stop-color="#3953a4"/><stop offset="0.32670" stop-color="#3953a4"/><stop offset="0.32670" stop-color="#e88583"/><stop offset="0.32787" stop-color="#e88583"/><stop offset="0.32787" stop-color="#f5c9c5"/><stop offset="0.33141" stop-color="#f5c9c5"/><stop offset="0.33141" stop-color="#3953a4"/><stop offset="0.33848" stop-color="#3953a4"/><stop offset="0.33848" stop-color="#969fd0"/><stop offset="0.34060" stop-color="#969fd0"/><stop offset="0.34059" stop-color="#cdd0e7"/><stop offset="0.34295" stop-color="#cdd0e7"/><stop offset="0.34295" stop-color="#ffffff"/><stop offset="0.34531" stop-color="#ffffff"/><stop offset="0.34531" stop-color="#f5c9c5"/><stop offset="0.34707" stop-color="#f5c9c5"/><stop offset="0.34707" stop-color="#5a6cb3"/><stop offset="0.35002" stop-color="#5a6cb3"/><stop offset="0.35002" stop-color="#cdd0e7"/><stop offset="0.35178" stop-color="#cdd0e7"/><stop offset="0.35178" stop-color="#3953a4"/><stop offset="0.38065" stop-color="#3953a4"/><stop offset="0.38065" stop-color="#969fd0"/><stop offset="0.38536" stop-color="#969fd0"/><stop offset="0.38536" stop-color="#3953a4"/><stop offset="0.39007" stop-color="#3953a4"/><stop offset="0.39007" stop-color="#cdd0e7"/><stop offset="0.39184" stop-color="#cdd0e7"/><stop offset="0.39184" stop-color="#5a6cb3"/><stop offset="0.39302" stop-color="#5a6cb3"/><stop offset="0.39302" stop-color="#ffffff"/><stop offset="0.39597" stop-color="#ffffff"/><stop offset="0.39597" stop-color="#cdd0e7"/><stop offset="0.39891" stop-color="#cdd0e7"/><stop offset="0.39891" stop-color="#3953a4"/><stop offset="0.40303" stop-color="#3953a4"/><stop offset="0.40303" stop-color="#5a6cb3"/><stop offset="0.40480" stop-color="#5a6cb3"/><stop offset="0.40480" stop-color="#3953a4"/><stop offset="0.41482" stop-color="#3953a4"/><stop offset="0.41482" stop-color="#e88583"/><stop offset="0.41835" stop-color="#e88583"/><stop offset="0.41835" stop-color="#d71f2e"/><stop offset="0.42424" stop-color="#d71f2e"/><stop offset="0.42424" stop-color="#e88583"/><stop offset="0.42719" stop-color="#e88583"/><stop offset="0.42719" stop-color="#df4b53"/><stop offset="0.42895" stop-color="#df4b53"/><stop offset="0.42895" stop-color="#d71f2e"/><stop offset="0.43249" stop-color="#d71f2e"/><stop offset="0.43249" stop-color="#ffffff"/><stop offset="0.43484" stop-color="#ffffff"/><stop offset="0.43484" stop-color="#f5c9c5"/><stop offset="0.43779" stop-color="#f5c9c5"/><stop offset="0.43779" stop-color="#e88583"/><stop offset="0.44191" stop-color="#e88583"/><stop offset="0.44191" stop-color="#df4b53"/><stop offset="0.44309" stop-color="#df4b53"/><stop offset="0.44309" stop-color="#3953a4"/><stop offset="0.45193" stop-color="#3953a4"/><stop offset="0.45193" stop-color="#5a6cb3"/><stop offset="0.45369" stop-color="#5a6cb3"/><stop offset="0.45369" stop-color="#3953a4"/><stop offset="0.46312" stop-color="#3953a4"/><stop offset="0.46312" stop-color="#969fd0"/><stop offset="0.46489" stop-color="#969fd0"/><stop offset="0.46489" stop-color="#3953a4"/><stop offset="0.46783" stop-color="#3953a4"/><stop offset="0.46783" stop-color="#5a6cb3"/><stop offset="0.47078" stop-color="#5a6cb3"/><stop offset="0.47078" stop-color="#3953a4"/><stop offset="0.48256" stop-color="#3953a4"/><stop offset="0.48256" stop-color="#f5c9c5"/><stop offset="0.48492" stop-color="#f5c9c5"/><stop offset="0.48492" stop-color="#cdd0e7"/><stop offset="0.48727" stop-color="#cdd0e7"/><stop offset="0.48727" stop-color="#f5c9c5"/><stop offset="0.48904" stop-color="#f5c9c5"/><stop offset="0.48904" stop-color="#969fd0"/><stop offset="0.49139" stop-color="#969fd0"/><stop offset="0.49139" stop-color="#5a6cb3"/><stop offset="0.49434" stop-color="#5a6cb3"/><stop offset="0.49434" stop-color="#3953a4"/><stop offset="0.53357" stop-color="#3953a4"/><stop offset="0.53357" stop-color="#5a6cb3"/><stop offset="0.53534" stop-color="#5a6cb3"/><stop offset="0.53534" stop-color="#3953a4"/><stop offset="0.54358" stop-color="#3953a4"/><stop offset="0.54358" stop-color="#969fd0"/><stop offset="0.54771" stop-color="#969fd0"/><stop offset="0.54771" stop-color="#3953a4"/><stop offset="0.57598" stop-color="#3953a4"/><stop offset="0.57598" stop-color="#5a6cb3"/><stop offset="0.57716" stop-color="#5a6cb3"/><stop offset="0.57716" stop-color="#3953a4"/><stop offset="0.58600" stop-color="#3953a4"/><stop offset="0.58600" stop-color="#969fd0"/><stop offset="0.58835" stop-color="#969fd0"/><stop offset="0.58835" stop-color="#3953a4"/><stop offset="0.59483" stop-color="#3953a4"/><stop offset="0.59483" stop-color="#5a6cb3"/><stop offset="0.59601" stop-color="#5a6cb3"/><stop offset="0.59601" stop-color="#3953a4"/><stop offset="0.60897" stop-color="#3953a4"/><stop offset="0.60897" stop-color="#5a6cb3"/><stop offset="0.61368" stop-color="#5a6cb3"/><stop offset="0.61368" stop-color="#3953a4"/><stop offset="0.62370" stop-color="#3953a4"/><stop offset="0.62370" stop-color="#ffffff"/><stop offset="0.63018" stop-color="#ffffff"/><stop offset="0.63018" stop-color="#3953a4"/><stop offset="0.66670" stop-color="#3953a4"/><stop offset="0.66670" stop-color="#5a6cb3"/><stop offset="0.66905" stop-color="#5a6cb3"/><stop offset="0.66905" stop-color="#3953a4"/><stop offset="0.67553" stop-color="#3953a4"/><stop offset="0.67553" stop-color="#5a6cb3"/><stop offset="0.67730" stop-color="#5a6cb3"/><stop offset="0.67730" stop-color="#3953a4"/><stop offset="0.70946" stop-color="#3953a4"/><stop offset="0.70946" stop-color="#cdd0e7"/><stop offset="0.71182" stop-color="#cdd0e7"/><stop offset="0.71182" stop-color="#e88583"/><stop offset="0.71358" stop-color="#e88583"/><stop offset="0.71358" stop-color="#d71f2e"/><stop offset="0.74363" stop-color="#d71f2e"/><stop offset="0.74363" stop-color="#ffffff"/><stop offset="0.74657" stop-color="#ffffff"/><stop offset="0.74657" stop-color="#df4b53"/><stop offset="0.74893" stop-color="#df4b53"/><stop offset="0.74893" stop-color="#e88583"/><stop offset="0.75187" stop-color="#e88583"/><stop offset="0.75187" stop-color="#df4b53"/><stop offset="0.75482" stop-color="#df4b53"/><stop offset="0.75482" stop-color="#ffffff"/><stop offset="0.75717" stop-color="#ffffff"/><stop offset="0.75717" stop-color="#e88583"/><stop offset="0.75835" stop-color="#e88583"/><stop offset="0.75835" stop-color="#ffffff"/><stop offset="0.76012" stop-color="#ffffff"/><stop offset="0.76012" stop-color="#e88583"/><stop offset="0.76248" stop-color="#e88583"/><stop offset="0.76248" stop-color="#df4b53"/><stop offset="0.76424" stop-color="#df4b53"/><stop offset="0.76424" stop-color="#d71f2e"/><stop offset="0.76542" stop-color="#d71f2e"/><stop offset="0.76542" stop-color="#ffffff"/><stop offset="0.76778" stop-color="#ffffff"/><stop offset="0.76778" stop-color="#cdd0e7"/><stop offset="0.76896" stop-color="#cdd0e7"/><stop offset="0.76896" stop-color="#3953a4"/><stop offset="0.78663" stop-color="#3953a4"/><stop offset="0.78663" stop-color="#5a6cb3"/><stop offset="0.78781" stop-color="#5a6cb3"/><stop offset="0.78781" stop-color="#3953a4"/><stop offset="0.79723" stop-color="#3953a4"/><stop offset="0.79723" stop-color="#5a6cb3"/><stop offset="0.79841" stop-color="#5a6cb3"/><stop offset="0.79841" stop-color="#3953a4"/><stop offset="0.80901" stop-color="#3953a4"/><stop offset="0.80901" stop-color="#5a6cb3"/><stop offset="0.81196" stop-color="#5a6cb3"/><stop offset="0.81196" stop-color="#3953a4"/><stop offset="0.81844" stop-color="#3953a4"/><stop offset="0.81844" stop-color="#cdd0e7"/><stop offset="0.82315" stop-color="#cdd0e7"/><stop offset="0.82315" stop-color="#d71f2e"/><stop offset="0.82492" stop-color="#d71f2e"/><stop offset="0.82492" stop-color="#f5c9c5"/><stop offset="0.83140" stop-color="#f5c9c5"/><stop offset="0.83140" stop-color="#e88583"/><stop offset="0.83611" stop-color="#e88583"/><stop offset="0.83611" stop-color="#cdd0e7"/><stop offset="0.84200" stop-color="#cdd0e7"/><stop offset="0.84200" stop-color="#d71f2e"/><stop offset="0.85260" stop-color="#d71f2e"/><stop offset="0.85260" stop-color="#df4b53"/><stop offset="0.85590" stop-color="#df4b53"/><stop offset="0.85588" stop-color="#d71f2e"/><stop offset="0.87708" stop-color="#d71f2e"/><stop offset="0.87708" stop-color="#df4b53"/><stop offset="0.87826" stop-color="#df4b53"/><stop offset="0.87826" stop-color="#d71f2e"/><stop offset="0.88474" stop-color="#d71f2e"/><stop offset="0.88474" stop-color="#f5c9c5"/><stop offset="0.88651" stop-color="#f5c9c5"/><stop offset="0.88651" stop-color="#ffffff"/><stop offset="0.88828" stop-color="#ffffff"/><stop offset="0.88828" stop-color="#e88583"/><stop offset="0.89004" stop-color="#e88583"/><stop offset="0.89004" stop-color="#f5c9c5"/><stop offset="0.89240" stop-color="#f5c9c5"/><stop offset="0.89240" stop-color="#e88583"/><stop offset="0.89417" stop-color="#e88583"/><stop offset="0.89417" stop-color="#d71f2e"/><stop offset="0.98783" stop-color="#d71f2e"/><stop offset="0.98783" stop-color="#e88583"/><stop offset="0.99019" stop-color="#e88583"/><stop offset="0.99019" stop-color="#df4b53"/><stop offset="0.99372" stop-color="#df4b53"/><stop offset="0.99372" stop-color="#e88583"/><stop offset="0.99549" stop-color="#e88583"/><stop offset="0.99549" stop-color="#d71f2e"/><stop offset="0.99996" stop-color="#d71f2e"/></linearGradient>
<linearGradient id="hr4" gradientUnits="userSpaceOnUse" x1="259.80" y1="0" x2="1889.90" y2="0"><stop offset="0.00000" stop-color="#d71f2e"/><stop offset="0.00354" stop-color="#d71f2e"/><stop offset="0.00354" stop-color="#f5c9c5"/><stop offset="0.00507" stop-color="#f5c9c5"/><stop offset="0.00507" stop-color="#d71f2e"/><stop offset="0.01708" stop-color="#d71f2e"/><stop offset="0.01708" stop-color="#e88583"/><stop offset="0.01885" stop-color="#e88583"/><stop offset="0.01885" stop-color="#df4b53"/><stop offset="0.02121" stop-color="#df4b53"/><stop offset="0.02121" stop-color="#e88583"/><stop offset="0.03063" stop-color="#e88583"/><stop offset="0.03063" stop-color="#cdd0e7"/><stop offset="0.03476" stop-color="#cdd0e7"/><stop offset="0.03476" stop-color="#f5c9c5"/><stop offset="0.03770" stop-color="#f5c9c5"/><stop offset="0.03770" stop-color="#ffffff"/><stop offset="0.04124" stop-color="#ffffff"/><stop offset="0.04124" stop-color="#e88583"/><stop offset="0.04772" stop-color="#e88583"/><stop offset="0.04772" stop-color="#d71f2e"/><stop offset="0.05007" stop-color="#d71f2e"/><stop offset="0.05007" stop-color="#e88583"/><stop offset="0.05361" stop-color="#e88583"/><stop offset="0.05361" stop-color="#ffffff"/><stop offset="0.05478" stop-color="#ffffff"/><stop offset="0.05478" stop-color="#e88583"/><stop offset="0.05832" stop-color="#e88583"/><stop offset="0.05832" stop-color="#f5c9c5"/><stop offset="0.06303" stop-color="#f5c9c5"/><stop offset="0.06303" stop-color="#969fd0"/><stop offset="0.06833" stop-color="#969fd0"/><stop offset="0.06833" stop-color="#f5c9c5"/><stop offset="0.07187" stop-color="#f5c9c5"/><stop offset="0.07187" stop-color="#d71f2e"/><stop offset="0.08212" stop-color="#d71f2e"/><stop offset="0.08212" stop-color="#ffffff"/><stop offset="0.08424" stop-color="#ffffff"/><stop offset="0.08424" stop-color="#5a6cb3"/><stop offset="0.08659" stop-color="#5a6cb3"/><stop offset="0.08659" stop-color="#3953a4"/><stop offset="0.08954" stop-color="#3953a4"/><stop offset="0.08954" stop-color="#ffffff"/><stop offset="0.09272" stop-color="#ffffff"/><stop offset="0.09272" stop-color="#f5c9c5"/><stop offset="0.09602" stop-color="#f5c9c5"/><stop offset="0.09602" stop-color="#e88583"/><stop offset="0.09838" stop-color="#e88583"/><stop offset="0.09838" stop-color="#cdd0e7"/><stop offset="0.10191" stop-color="#cdd0e7"/><stop offset="0.10191" stop-color="#f5c9c5"/><stop offset="0.10427" stop-color="#f5c9c5"/><stop offset="0.10427" stop-color="#cdd0e7"/><stop offset="0.10898" stop-color="#cdd0e7"/><stop offset="0.10898" stop-color="#e88583"/><stop offset="0.11134" stop-color="#e88583"/><stop offset="0.11134" stop-color="#f5c9c5"/><stop offset="0.11487" stop-color="#f5c9c5"/><stop offset="0.11487" stop-color="#e88583"/><stop offset="0.11723" stop-color="#e88583"/><stop offset="0.11723" stop-color="#df4b53"/><stop offset="0.12076" stop-color="#df4b53"/><stop offset="0.12076" stop-color="#d71f2e"/><stop offset="0.14727" stop-color="#d71f2e"/><stop offset="0.14727" stop-color="#ffffff"/><stop offset="0.15021" stop-color="#ffffff"/><stop offset="0.15021" stop-color="#d71f2e"/><stop offset="0.15552" stop-color="#d71f2e"/><stop offset="0.15552" stop-color="#ffffff"/><stop offset="0.15728" stop-color="#ffffff"/><stop offset="0.15728" stop-color="#f5c9c5"/><stop offset="0.16200" stop-color="#f5c9c5"/><stop offset="0.16200" stop-color="#ffffff"/><stop offset="0.16435" stop-color="#ffffff"/><stop offset="0.16435" stop-color="#e88583"/><stop offset="0.16883" stop-color="#e88583"/><stop offset="0.16882" stop-color="#f5c9c5"/><stop offset="0.17177" stop-color="#f5c9c5"/><stop offset="0.17177" stop-color="#df4b53"/><stop offset="0.17354" stop-color="#df4b53"/><stop offset="0.17354" stop-color="#ffffff"/><stop offset="0.17684" stop-color="#ffffff"/><stop offset="0.17684" stop-color="#d71f2e"/><stop offset="0.18414" stop-color="#d71f2e"/><stop offset="0.18414" stop-color="#ffffff"/><stop offset="0.18709" stop-color="#ffffff"/><stop offset="0.18709" stop-color="#f5c9c5"/><stop offset="0.19298" stop-color="#f5c9c5"/><stop offset="0.19298" stop-color="#e88583"/><stop offset="0.19569" stop-color="#e88583"/><stop offset="0.19569" stop-color="#ffffff"/><stop offset="0.20004" stop-color="#ffffff"/><stop offset="0.20004" stop-color="#3953a4"/><stop offset="0.21595" stop-color="#3953a4"/><stop offset="0.21595" stop-color="#5a6cb3"/><stop offset="0.21831" stop-color="#5a6cb3"/><stop offset="0.21831" stop-color="#3953a4"/><stop offset="0.22773" stop-color="#3953a4"/><stop offset="0.22773" stop-color="#969fd0"/><stop offset="0.23244" stop-color="#969fd0"/><stop offset="0.23244" stop-color="#f5c9c5"/><stop offset="0.23421" stop-color="#f5c9c5"/><stop offset="0.23421" stop-color="#df4b53"/><stop offset="0.23892" stop-color="#df4b53"/><stop offset="0.23892" stop-color="#d71f2e"/><stop offset="0.24069" stop-color="#d71f2e"/><stop offset="0.24069" stop-color="#3953a4"/><stop offset="0.24540" stop-color="#3953a4"/><stop offset="0.24540" stop-color="#969fd0"/><stop offset="0.24776" stop-color="#969fd0"/><stop offset="0.24776" stop-color="#3953a4"/><stop offset="0.25365" stop-color="#3953a4"/><stop offset="0.25365" stop-color="#5a6cb3"/><stop offset="0.25601" stop-color="#5a6cb3"/><stop offset="0.25601" stop-color="#3953a4"/><stop offset="0.26308" stop-color="#3953a4"/><stop offset="0.26308" stop-color="#969fd0"/><stop offset="0.26661" stop-color="#969fd0"/><stop offset="0.26661" stop-color="#cdd0e7"/><stop offset="0.27014" stop-color="#cdd0e7"/><stop offset="0.27014" stop-color="#969fd0"/><stop offset="0.27250" stop-color="#969fd0"/><stop offset="0.27250" stop-color="#5a6cb3"/><stop offset="0.27604" stop-color="#5a6cb3"/><stop offset="0.27604" stop-color="#3953a4"/><stop offset="0.27780" stop-color="#3953a4"/><stop offset="0.27780" stop-color="#cdd0e7"/><stop offset="0.28251" stop-color="#cdd0e7"/><stop offset="0.28251" stop-color="#3953a4"/><stop offset="0.28546" stop-color="#3953a4"/><stop offset="0.28546" stop-color="#ffffff"/><stop offset="0.28958" stop-color="#ffffff"/><stop offset="0.28958" stop-color="#5a6cb3"/><stop offset="0.29135" stop-color="#5a6cb3"/><stop offset="0.29135" stop-color="#cdd0e7"/><stop offset="0.29371" stop-color="#cdd0e7"/><stop offset="0.29371" stop-color="#ffffff"/><stop offset="0.29665" stop-color="#ffffff"/><stop offset="0.29665" stop-color="#cdd0e7"/><stop offset="0.29842" stop-color="#cdd0e7"/><stop offset="0.29842" stop-color="#969fd0"/><stop offset="0.30313" stop-color="#969fd0"/><stop offset="0.30313" stop-color="#cdd0e7"/><stop offset="0.30549" stop-color="#cdd0e7"/><stop offset="0.30549" stop-color="#969fd0"/><stop offset="0.30784" stop-color="#969fd0"/><stop offset="0.30784" stop-color="#3953a4"/><stop offset="0.31786" stop-color="#3953a4"/><stop offset="0.31786" stop-color="#cdd0e7"/><stop offset="0.32080" stop-color="#cdd0e7"/><stop offset="0.32080" stop-color="#3953a4"/><stop offset="0.33141" stop-color="#3953a4"/><stop offset="0.33141" stop-color="#969fd0"/><stop offset="0.33376" stop-color="#969fd0"/><stop offset="0.33376" stop-color="#3953a4"/><stop offset="0.34060" stop-color="#3953a4"/><stop offset="0.34059" stop-color="#969fd0"/><stop offset="0.34236" stop-color="#969fd0"/><stop offset="0.34236" stop-color="#cdd0e7"/><stop offset="0.34413" stop-color="#cdd0e7"/><stop offset="0.34413" stop-color="#969fd0"/><stop offset="0.34589" stop-color="#969fd0"/><stop offset="0.34589" stop-color="#5a6cb3"/><stop offset="0.34825" stop-color="#5a6cb3"/><stop offset="0.34825" stop-color="#ffffff"/><stop offset="0.35002" stop-color="#ffffff"/><stop offset="0.35002" stop-color="#969fd0"/><stop offset="0.35355" stop-color="#969fd0"/><stop offset="0.35355" stop-color="#e88583"/><stop offset="0.35650" stop-color="#e88583"/><stop offset="0.35650" stop-color="#cdd0e7"/><stop offset="0.35921" stop-color="#cdd0e7"/><stop offset="0.35921" stop-color="#d71f2e"/><stop offset="0.36592" stop-color="#d71f2e"/><stop offset="0.36592" stop-color="#e88583"/><stop offset="0.36828" stop-color="#e88583"/><stop offset="0.36828" stop-color="#f5c9c5"/><stop offset="0.37005" stop-color="#f5c9c5"/><stop offset="0.37005" stop-color="#e88583"/><stop offset="0.37240" stop-color="#e88583"/><stop offset="0.37240" stop-color="#df4b53"/><stop offset="0.37594" stop-color="#df4b53"/><stop offset="0.37594" stop-color="#f5c9c5"/><stop offset="0.37947" stop-color="#f5c9c5"/><stop offset="0.37947" stop-color="#969fd0"/><stop offset="0.38242" stop-color="#969fd0"/><stop offset="0.38242" stop-color="#ffffff"/><stop offset="0.38418" stop-color="#ffffff"/><stop offset="0.38418" stop-color="#3953a4"/><stop offset="0.38713" stop-color="#3953a4"/><stop offset="0.38713" stop-color="#cdd0e7"/><stop offset="0.39007" stop-color="#cdd0e7"/><stop offset="0.39007" stop-color="#d71f2e"/><stop offset="0.39597" stop-color="#d71f2e"/><stop offset="0.39597" stop-color="#e88583"/><stop offset="0.39832" stop-color="#e88583"/><stop offset="0.39832" stop-color="#d71f2e"/><stop offset="0.40775" stop-color="#d71f2e"/><stop offset="0.40775" stop-color="#f5c9c5"/><stop offset="0.40951" stop-color="#f5c9c5"/><stop offset="0.40951" stop-color="#e88583"/><stop offset="0.41187" stop-color="#e88583"/><stop offset="0.41187" stop-color="#f5c9c5"/><stop offset="0.41364" stop-color="#f5c9c5"/><stop offset="0.41364" stop-color="#df4b53"/><stop offset="0.41658" stop-color="#df4b53"/><stop offset="0.41658" stop-color="#d71f2e"/><stop offset="0.42071" stop-color="#d71f2e"/><stop offset="0.42071" stop-color="#f5c9c5"/><stop offset="0.42247" stop-color="#f5c9c5"/><stop offset="0.42247" stop-color="#ffffff"/><stop offset="0.42424" stop-color="#ffffff"/><stop offset="0.42424" stop-color="#f5c9c5"/><stop offset="0.42895" stop-color="#f5c9c5"/><stop offset="0.42895" stop-color="#969fd0"/><stop offset="0.43308" stop-color="#969fd0"/><stop offset="0.43308" stop-color="#e88583"/><stop offset="0.43484" stop-color="#e88583"/><stop offset="0.43484" stop-color="#d71f2e"/><stop offset="0.43720" stop-color="#d71f2e"/><stop offset="0.43720" stop-color="#e88583"/><stop offset="0.43897" stop-color="#e88583"/><stop offset="0.43897" stop-color="#d71f2e"/><stop offset="0.44309" stop-color="#d71f2e"/><stop offset="0.44309" stop-color="#969fd0"/><stop offset="0.44604" stop-color="#969fd0"/><stop offset="0.44604" stop-color="#cdd0e7"/><stop offset="0.45193" stop-color="#cdd0e7"/><stop offset="0.45193" stop-color="#ffffff"/><stop offset="0.45369" stop-color="#ffffff"/><stop offset="0.45369" stop-color="#f5c9c5"/><stop offset="0.45664" stop-color="#f5c9c5"/><stop offset="0.45664" stop-color="#e88583"/><stop offset="0.45959" stop-color="#e88583"/><stop offset="0.45959" stop-color="#969fd0"/><stop offset="0.46312" stop-color="#969fd0"/><stop offset="0.46312" stop-color="#f5c9c5"/><stop offset="0.46724" stop-color="#f5c9c5"/><stop offset="0.46724" stop-color="#969fd0"/><stop offset="0.47078" stop-color="#969fd0"/><stop offset="0.47078" stop-color="#cdd0e7"/><stop offset="0.47490" stop-color="#cdd0e7"/><stop offset="0.47490" stop-color="#ffffff"/><stop offset="0.48020" stop-color="#ffffff"/><stop offset="0.48020" stop-color="#969fd0"/><stop offset="0.48315" stop-color="#969fd0"/><stop offset="0.48315" stop-color="#3953a4"/><stop offset="0.48492" stop-color="#3953a4"/><stop offset="0.48492" stop-color="#cdd0e7"/><stop offset="0.48668" stop-color="#cdd0e7"/><stop offset="0.48668" stop-color="#5a6cb3"/><stop offset="0.49729" stop-color="#5a6cb3"/><stop offset="0.49729" stop-color="#3953a4"/><stop offset="0.52768" stop-color="#3953a4"/><stop offset="0.52768" stop-color="#5a6cb3"/><stop offset="0.53121" stop-color="#5a6cb3"/><stop offset="0.53121" stop-color="#969fd0"/><stop offset="0.53416" stop-color="#969fd0"/><stop offset="0.53416" stop-color="#5a6cb3"/><stop offset="0.53710" stop-color="#5a6cb3"/><stop offset="0.53710" stop-color="#cdd0e7"/><stop offset="0.53887" stop-color="#cdd0e7"/><stop offset="0.53887" stop-color="#969fd0"/><stop offset="0.54323" stop-color="#969fd0"/><stop offset="0.54323" stop-color="#d71f2e"/><stop offset="0.63018" stop-color="#d71f2e"/><stop offset="0.63018" stop-color="#e88583"/><stop offset="0.63371" stop-color="#e88583"/><stop offset="0.63371" stop-color="#f5c9c5"/><stop offset="0.63548" stop-color="#f5c9c5"/><stop offset="0.63548" stop-color="#e88583"/><stop offset="0.63724" stop-color="#e88583"/><stop offset="0.63724" stop-color="#f5c9c5"/><stop offset="0.63901" stop-color="#f5c9c5"/><stop offset="0.63901" stop-color="#ffffff"/><stop offset="0.64078" stop-color="#ffffff"/><stop offset="0.64078" stop-color="#e88583"/><stop offset="0.64314" stop-color="#e88583"/><stop offset="0.64314" stop-color="#d71f2e"/><stop offset="0.64490" stop-color="#d71f2e"/><stop offset="0.64490" stop-color="#e88583"/><stop offset="0.64667" stop-color="#e88583"/><stop offset="0.64667" stop-color="#df4b53"/><stop offset="0.64961" stop-color="#df4b53"/><stop offset="0.64961" stop-color="#d71f2e"/><stop offset="0.65668" stop-color="#d71f2e"/><stop offset="0.65668" stop-color="#e88583"/><stop offset="0.66081" stop-color="#e88583"/><stop offset="0.66081" stop-color="#df4b53"/><stop offset="0.66375" stop-color="#df4b53"/><stop offset="0.66375" stop-color="#f5c9c5"/><stop offset="0.66552" stop-color="#f5c9c5"/><stop offset="0.66552" stop-color="#e88583"/><stop offset="0.66905" stop-color="#e88583"/><stop offset="0.66905" stop-color="#f5c9c5"/><stop offset="0.67082" stop-color="#f5c9c5"/><stop offset="0.67082" stop-color="#e88583"/><stop offset="0.67436" stop-color="#e88583"/><stop offset="0.67436" stop-color="#d71f2e"/><stop offset="0.71830" stop-color="#d71f2e"/><stop offset="0.71830" stop-color="#e88583"/><stop offset="0.72065" stop-color="#e88583"/><stop offset="0.72065" stop-color="#f5c9c5"/><stop offset="0.72890" stop-color="#f5c9c5"/><stop offset="0.72890" stop-color="#df4b53"/><stop offset="0.73126" stop-color="#df4b53"/><stop offset="0.73126" stop-color="#e88583"/><stop offset="0.73597" stop-color="#e88583"/><stop offset="0.73597" stop-color="#ffffff"/><stop offset="0.73891" stop-color="#ffffff"/><stop offset="0.73891" stop-color="#3953a4"/><stop offset="0.74363" stop-color="#3953a4"/><stop offset="0.74363" stop-color="#cdd0e7"/><stop offset="0.74657" stop-color="#cdd0e7"/><stop offset="0.74657" stop-color="#f5c9c5"/><stop offset="0.74834" stop-color="#f5c9c5"/><stop offset="0.74834" stop-color="#969fd0"/><stop offset="0.75364" stop-color="#969fd0"/><stop offset="0.75364" stop-color="#d71f2e"/><stop offset="0.76071" stop-color="#d71f2e"/><stop offset="0.76071" stop-color="#e88583"/><stop offset="0.76189" stop-color="#e88583"/><stop offset="0.76189" stop-color="#f5c9c5"/><stop offset="0.76542" stop-color="#f5c9c5"/><stop offset="0.76542" stop-color="#d71f2e"/><stop offset="0.79664" stop-color="#d71f2e"/><stop offset="0.79664" stop-color="#e88583"/><stop offset="0.80077" stop-color="#e88583"/><stop offset="0.80077" stop-color="#df4b53"/><stop offset="0.80548" stop-color="#df4b53"/><stop offset="0.80548" stop-color="#f5c9c5"/><stop offset="0.80783" stop-color="#f5c9c5"/><stop offset="0.80783" stop-color="#e88583"/><stop offset="0.80960" stop-color="#e88583"/><stop offset="0.80960" stop-color="#df4b53"/><stop offset="0.81196" stop-color="#df4b53"/><stop offset="0.81196" stop-color="#e88583"/><stop offset="0.81726" stop-color="#e88583"/><stop offset="0.81726" stop-color="#df4b53"/><stop offset="0.81962" stop-color="#df4b53"/><stop offset="0.81962" stop-color="#e88583"/><stop offset="0.82138" stop-color="#e88583"/><stop offset="0.82138" stop-color="#d71f2e"/><stop offset="0.82315" stop-color="#d71f2e"/><stop offset="0.82315" stop-color="#f5c9c5"/><stop offset="0.82551" stop-color="#f5c9c5"/><stop offset="0.82551" stop-color="#ffffff"/><stop offset="0.82904" stop-color="#ffffff"/><stop offset="0.82904" stop-color="#cdd0e7"/><stop offset="0.83081" stop-color="#cdd0e7"/><stop offset="0.83081" stop-color="#ffffff"/><stop offset="0.83375" stop-color="#ffffff"/><stop offset="0.83375" stop-color="#d71f2e"/><stop offset="0.84259" stop-color="#d71f2e"/><stop offset="0.84259" stop-color="#e88583"/><stop offset="0.84554" stop-color="#e88583"/><stop offset="0.84554" stop-color="#d71f2e"/><stop offset="0.85143" stop-color="#d71f2e"/><stop offset="0.85143" stop-color="#969fd0"/><stop offset="0.86118" stop-color="#969fd0"/><stop offset="0.86118" stop-color="#ffffff"/><stop offset="0.86412" stop-color="#ffffff"/><stop offset="0.86412" stop-color="#f5c9c5"/><stop offset="0.86589" stop-color="#f5c9c5"/><stop offset="0.86589" stop-color="#ffffff"/><stop offset="0.86766" stop-color="#ffffff"/><stop offset="0.86766" stop-color="#3953a4"/><stop offset="0.87767" stop-color="#3953a4"/><stop offset="0.87767" stop-color="#969fd0"/><stop offset="0.88003" stop-color="#969fd0"/><stop offset="0.88003" stop-color="#5a6cb3"/><stop offset="0.88298" stop-color="#5a6cb3"/><stop offset="0.88298" stop-color="#969fd0"/><stop offset="0.88533" stop-color="#969fd0"/><stop offset="0.88533" stop-color="#5a6cb3"/><stop offset="0.88769" stop-color="#5a6cb3"/><stop offset="0.88769" stop-color="#d71f2e"/><stop offset="0.89711" stop-color="#d71f2e"/><stop offset="0.89711" stop-color="#df4b53"/><stop offset="0.89829" stop-color="#df4b53"/><stop offset="0.89829" stop-color="#d71f2e"/><stop offset="0.90124" stop-color="#d71f2e"/><stop offset="0.90124" stop-color="#e88583"/><stop offset="0.90418" stop-color="#e88583"/><stop offset="0.90418" stop-color="#df4b53"/><stop offset="0.90654" stop-color="#df4b53"/><stop offset="0.90654" stop-color="#d71f2e"/><stop offset="0.91007" stop-color="#d71f2e"/><stop offset="0.91007" stop-color="#df4b53"/><stop offset="0.91243" stop-color="#df4b53"/><stop offset="0.91243" stop-color="#e88583"/><stop offset="0.91596" stop-color="#e88583"/><stop offset="0.91596" stop-color="#f5c9c5"/><stop offset="0.91891" stop-color="#f5c9c5"/><stop offset="0.91891" stop-color="#3953a4"/><stop offset="0.93187" stop-color="#3953a4"/><stop offset="0.93187" stop-color="#ffffff"/><stop offset="0.93481" stop-color="#ffffff"/><stop offset="0.93481" stop-color="#cdd0e7"/><stop offset="0.94012" stop-color="#cdd0e7"/><stop offset="0.94012" stop-color="#969fd0"/><stop offset="0.94483" stop-color="#969fd0"/><stop offset="0.94483" stop-color="#cdd0e7"/><stop offset="0.94659" stop-color="#cdd0e7"/><stop offset="0.94659" stop-color="#5a6cb3"/><stop offset="0.94954" stop-color="#5a6cb3"/><stop offset="0.94954" stop-color="#3953a4"/><stop offset="0.95838" stop-color="#3953a4"/><stop offset="0.95838" stop-color="#5a6cb3"/><stop offset="0.95955" stop-color="#5a6cb3"/><stop offset="0.95955" stop-color="#3953a4"/><stop offset="0.97016" stop-color="#3953a4"/><stop offset="0.97016" stop-color="#5a6cb3"/><stop offset="0.97134" stop-color="#5a6cb3"/><stop offset="0.97134" stop-color="#3953a4"/><stop offset="0.98665" stop-color="#3953a4"/><stop offset="0.98665" stop-color="#ffffff"/><stop offset="0.98960" stop-color="#ffffff"/><stop offset="0.98960" stop-color="#969fd0"/><stop offset="0.99254" stop-color="#969fd0"/><stop offset="0.99254" stop-color="#3953a4"/><stop offset="0.99996" stop-color="#3953a4"/></linearGradient>
<linearGradient id="hr5" gradientUnits="userSpaceOnUse" x1="259.80" y1="0" x2="1889.90" y2="0"><stop offset="0.00000" stop-color="#3953a4"/><stop offset="0.05420" stop-color="#3953a4"/><stop offset="0.05420" stop-color="#5a6cb3"/><stop offset="0.05537" stop-color="#5a6cb3"/><stop offset="0.05537" stop-color="#3953a4"/><stop offset="0.12371" stop-color="#3953a4"/><stop offset="0.12371" stop-color="#5a6cb3"/><stop offset="0.12488" stop-color="#5a6cb3"/><stop offset="0.12488" stop-color="#3953a4"/><stop offset="0.14727" stop-color="#3953a4"/><stop offset="0.14727" stop-color="#ffffff"/><stop offset="0.14904" stop-color="#ffffff"/><stop offset="0.14904" stop-color="#f5c9c5"/><stop offset="0.15139" stop-color="#f5c9c5"/><stop offset="0.15139" stop-color="#5a6cb3"/><stop offset="0.15434" stop-color="#5a6cb3"/><stop offset="0.15434" stop-color="#cdd0e7"/><stop offset="0.15610" stop-color="#cdd0e7"/><stop offset="0.15610" stop-color="#3953a4"/><stop offset="0.15905" stop-color="#3953a4"/><stop offset="0.15905" stop-color="#969fd0"/><stop offset="0.16023" stop-color="#969fd0"/><stop offset="0.16023" stop-color="#3953a4"/><stop offset="0.16200" stop-color="#3953a4"/><stop offset="0.16200" stop-color="#969fd0"/><stop offset="0.16494" stop-color="#969fd0"/><stop offset="0.16494" stop-color="#5a6cb3"/><stop offset="0.16671" stop-color="#5a6cb3"/><stop offset="0.16671" stop-color="#3953a4"/><stop offset="0.17589" stop-color="#3953a4"/><stop offset="0.17589" stop-color="#5a6cb3"/><stop offset="0.17766" stop-color="#5a6cb3"/><stop offset="0.17766" stop-color="#3953a4"/><stop offset="0.18532" stop-color="#3953a4"/><stop offset="0.18532" stop-color="#969fd0"/><stop offset="0.18826" stop-color="#969fd0"/><stop offset="0.18826" stop-color="#3953a4"/><stop offset="0.19239" stop-color="#3953a4"/><stop offset="0.19239" stop-color="#5a6cb3"/><stop offset="0.19357" stop-color="#5a6cb3"/><stop offset="0.19357" stop-color="#3953a4"/><stop offset="0.20417" stop-color="#3953a4"/><stop offset="0.20417" stop-color="#5a6cb3"/><stop offset="0.20652" stop-color="#5a6cb3"/><stop offset="0.20652" stop-color="#3953a4"/><stop offset="0.22832" stop-color="#3953a4"/><stop offset="0.22832" stop-color="#f5c9c5"/><stop offset="0.23244" stop-color="#f5c9c5"/><stop offset="0.23244" stop-color="#e88583"/><stop offset="0.23421" stop-color="#e88583"/><stop offset="0.23421" stop-color="#ffffff"/><stop offset="0.23716" stop-color="#ffffff"/><stop offset="0.23716" stop-color="#f5c9c5"/><stop offset="0.24305" stop-color="#f5c9c5"/><stop offset="0.24305" stop-color="#3953a4"/><stop offset="0.24540" stop-color="#3953a4"/><stop offset="0.24540" stop-color="#5a6cb3"/><stop offset="0.25129" stop-color="#5a6cb3"/><stop offset="0.25129" stop-color="#3953a4"/><stop offset="0.26072" stop-color="#3953a4"/><stop offset="0.26072" stop-color="#5a6cb3"/><stop offset="0.26190" stop-color="#5a6cb3"/><stop offset="0.26190" stop-color="#3953a4"/><stop offset="0.29017" stop-color="#3953a4"/><stop offset="0.29017" stop-color="#ffffff"/><stop offset="0.29194" stop-color="#ffffff"/><stop offset="0.29194" stop-color="#969fd0"/><stop offset="0.29547" stop-color="#969fd0"/><stop offset="0.29547" stop-color="#cdd0e7"/><stop offset="0.29901" stop-color="#cdd0e7"/><stop offset="0.29901" stop-color="#3953a4"/><stop offset="0.30902" stop-color="#3953a4"/><stop offset="0.30902" stop-color="#cdd0e7"/><stop offset="0.31079" stop-color="#cdd0e7"/><stop offset="0.31079" stop-color="#3953a4"/><stop offset="0.31350" stop-color="#3953a4"/><stop offset="0.31350" stop-color="#cdd0e7"/><stop offset="0.31586" stop-color="#cdd0e7"/><stop offset="0.31586" stop-color="#ffffff"/><stop offset="0.31786" stop-color="#ffffff"/><stop offset="0.31786" stop-color="#3953a4"/><stop offset="0.32670" stop-color="#3953a4"/><stop offset="0.32670" stop-color="#d71f2e"/><stop offset="0.33376" stop-color="#d71f2e"/><stop offset="0.33376" stop-color="#df4b53"/><stop offset="0.33553" stop-color="#df4b53"/><stop offset="0.33553" stop-color="#d71f2e"/><stop offset="0.36298" stop-color="#d71f2e"/><stop offset="0.36298" stop-color="#df4b53"/><stop offset="0.36592" stop-color="#df4b53"/><stop offset="0.36592" stop-color="#d71f2e"/><stop offset="0.37653" stop-color="#d71f2e"/><stop offset="0.37653" stop-color="#e88583"/><stop offset="0.37947" stop-color="#e88583"/><stop offset="0.37947" stop-color="#d71f2e"/><stop offset="0.38359" stop-color="#d71f2e"/><stop offset="0.38359" stop-color="#e88583"/><stop offset="0.38536" stop-color="#e88583"/><stop offset="0.38536" stop-color="#d71f2e"/><stop offset="0.39243" stop-color="#d71f2e"/><stop offset="0.39243" stop-color="#f5c9c5"/><stop offset="0.39361" stop-color="#f5c9c5"/><stop offset="0.39361" stop-color="#ffffff"/><stop offset="0.39479" stop-color="#ffffff"/><stop offset="0.39479" stop-color="#e88583"/><stop offset="0.39597" stop-color="#e88583"/><stop offset="0.39597" stop-color="#d71f2e"/><stop offset="0.40009" stop-color="#d71f2e"/><stop offset="0.40009" stop-color="#e88583"/><stop offset="0.40245" stop-color="#e88583"/><stop offset="0.40245" stop-color="#df4b53"/><stop offset="0.40480" stop-color="#df4b53"/><stop offset="0.40480" stop-color="#f5c9c5"/><stop offset="0.40775" stop-color="#f5c9c5"/><stop offset="0.40775" stop-color="#d71f2e"/><stop offset="0.42071" stop-color="#d71f2e"/><stop offset="0.42071" stop-color="#e88583"/><stop offset="0.42247" stop-color="#e88583"/><stop offset="0.42247" stop-color="#d71f2e"/><stop offset="0.43013" stop-color="#d71f2e"/><stop offset="0.43013" stop-color="#e88583"/><stop offset="0.43249" stop-color="#e88583"/><stop offset="0.43249" stop-color="#d71f2e"/><stop offset="0.43720" stop-color="#d71f2e"/><stop offset="0.43720" stop-color="#ffffff"/><stop offset="0.44015" stop-color="#ffffff"/><stop offset="0.44015" stop-color="#e88583"/><stop offset="0.44168" stop-color="#e88583"/><stop offset="0.44168" stop-color="#ffffff"/><stop offset="0.44309" stop-color="#ffffff"/><stop offset="0.44309" stop-color="#d71f2e"/><stop offset="0.54323" stop-color="#d71f2e"/><stop offset="0.54323" stop-color="#3953a4"/><stop offset="0.55124" stop-color="#3953a4"/><stop offset="0.55124" stop-color="#5a6cb3"/><stop offset="0.55242" stop-color="#5a6cb3"/><stop offset="0.55242" stop-color="#3953a4"/><stop offset="0.57834" stop-color="#3953a4"/><stop offset="0.57834" stop-color="#5a6cb3"/><stop offset="0.58069" stop-color="#5a6cb3"/><stop offset="0.58069" stop-color="#3953a4"/><stop offset="0.59601" stop-color="#3953a4"/><stop offset="0.59601" stop-color="#969fd0"/><stop offset="0.59778" stop-color="#969fd0"/><stop offset="0.59778" stop-color="#5a6cb3"/><stop offset="0.60190" stop-color="#5a6cb3"/><stop offset="0.60190" stop-color="#3953a4"/><stop offset="0.60426" stop-color="#3953a4"/><stop offset="0.60426" stop-color="#5a6cb3"/><stop offset="0.60779" stop-color="#5a6cb3"/><stop offset="0.60779" stop-color="#ffffff"/><stop offset="0.61250" stop-color="#ffffff"/><stop offset="0.61250" stop-color="#cdd0e7"/><stop offset="0.61427" stop-color="#cdd0e7"/><stop offset="0.61427" stop-color="#ffffff"/><stop offset="0.61722" stop-color="#ffffff"/><stop offset="0.61722" stop-color="#cdd0e7"/><stop offset="0.62252" stop-color="#cdd0e7"/><stop offset="0.62252" stop-color="#ffffff"/><stop offset="0.62428" stop-color="#ffffff"/><stop offset="0.62428" stop-color="#969fd0"/><stop offset="0.62570" stop-color="#969fd0"/><stop offset="0.62570" stop-color="#f5c9c5"/><stop offset="0.62841" stop-color="#f5c9c5"/><stop offset="0.62841" stop-color="#e88583"/><stop offset="0.63018" stop-color="#e88583"/><stop offset="0.63018" stop-color="#d71f2e"/><stop offset="0.64903" stop-color="#d71f2e"/><stop offset="0.64903" stop-color="#e88583"/><stop offset="0.65079" stop-color="#e88583"/><stop offset="0.65079" stop-color="#d71f2e"/><stop offset="0.65197" stop-color="#d71f2e"/><stop offset="0.65197" stop-color="#e88583"/><stop offset="0.65315" stop-color="#e88583"/><stop offset="0.65315" stop-color="#d71f2e"/><stop offset="0.65492" stop-color="#d71f2e"/><stop offset="0.65492" stop-color="#e88583"/><stop offset="0.65668" stop-color="#e88583"/><stop offset="0.65668" stop-color="#d71f2e"/><stop offset="0.68260" stop-color="#d71f2e"/><stop offset="0.68260" stop-color="#f5c9c5"/><stop offset="0.68531" stop-color="#f5c9c5"/><stop offset="0.68531" stop-color="#ffffff"/><stop offset="0.68766" stop-color="#ffffff"/><stop offset="0.68766" stop-color="#969fd0"/><stop offset="0.68943" stop-color="#969fd0"/><stop offset="0.68943" stop-color="#cdd0e7"/><stop offset="0.69120" stop-color="#cdd0e7"/><stop offset="0.69120" stop-color="#969fd0"/><stop offset="0.69297" stop-color="#969fd0"/><stop offset="0.69297" stop-color="#cdd0e7"/><stop offset="0.69591" stop-color="#cdd0e7"/><stop offset="0.69591" stop-color="#f5c9c5"/><stop offset="0.69945" stop-color="#f5c9c5"/><stop offset="0.69945" stop-color="#ffffff"/><stop offset="0.70239" stop-color="#ffffff"/><stop offset="0.70239" stop-color="#d71f2e"/><stop offset="0.70534" stop-color="#d71f2e"/><stop offset="0.70534" stop-color="#ffffff"/><stop offset="0.70887" stop-color="#ffffff"/><stop offset="0.70887" stop-color="#f5c9c5"/><stop offset="0.71064" stop-color="#f5c9c5"/><stop offset="0.71064" stop-color="#cdd0e7"/><stop offset="0.71299" stop-color="#cdd0e7"/><stop offset="0.71299" stop-color="#3953a4"/><stop offset="0.73302" stop-color="#3953a4"/><stop offset="0.73302" stop-color="#cdd0e7"/><stop offset="0.73479" stop-color="#cdd0e7"/><stop offset="0.73479" stop-color="#3953a4"/><stop offset="0.75423" stop-color="#3953a4"/><stop offset="0.75423" stop-color="#f5c9c5"/><stop offset="0.75541" stop-color="#f5c9c5"/><stop offset="0.75541" stop-color="#d71f2e"/><stop offset="0.75776" stop-color="#d71f2e"/><stop offset="0.75776" stop-color="#969fd0"/><stop offset="0.76307" stop-color="#969fd0"/><stop offset="0.76307" stop-color="#cdd0e7"/><stop offset="0.76542" stop-color="#cdd0e7"/><stop offset="0.76542" stop-color="#3953a4"/><stop offset="0.78781" stop-color="#3953a4"/><stop offset="0.78781" stop-color="#5a6cb3"/><stop offset="0.78898" stop-color="#5a6cb3"/><stop offset="0.78898" stop-color="#3953a4"/><stop offset="0.81137" stop-color="#3953a4"/><stop offset="0.81137" stop-color="#cdd0e7"/><stop offset="0.81373" stop-color="#cdd0e7"/><stop offset="0.81373" stop-color="#ffffff"/><stop offset="0.81903" stop-color="#ffffff"/><stop offset="0.81903" stop-color="#d71f2e"/><stop offset="0.83434" stop-color="#d71f2e"/><stop offset="0.83434" stop-color="#e88583"/><stop offset="0.83611" stop-color="#e88583"/><stop offset="0.83611" stop-color="#df4b53"/><stop offset="0.83847" stop-color="#df4b53"/><stop offset="0.83847" stop-color="#e88583"/><stop offset="0.84023" stop-color="#e88583"/><stop offset="0.84023" stop-color="#d71f2e"/><stop offset="0.84671" stop-color="#d71f2e"/><stop offset="0.84671" stop-color="#df4b53"/><stop offset="0.84907" stop-color="#df4b53"/><stop offset="0.84907" stop-color="#d71f2e"/><stop offset="0.85823" stop-color="#d71f2e"/><stop offset="0.85823" stop-color="#f5c9c5"/><stop offset="0.86000" stop-color="#f5c9c5"/><stop offset="0.86000" stop-color="#ffffff"/><stop offset="0.86236" stop-color="#ffffff"/><stop offset="0.86236" stop-color="#f5c9c5"/><stop offset="0.86471" stop-color="#f5c9c5"/><stop offset="0.86471" stop-color="#e88583"/><stop offset="0.86707" stop-color="#e88583"/><stop offset="0.86707" stop-color="#ffffff"/><stop offset="0.87002" stop-color="#ffffff"/><stop offset="0.87002" stop-color="#df4b53"/><stop offset="0.87178" stop-color="#df4b53"/><stop offset="0.87178" stop-color="#f5c9c5"/><stop offset="0.87473" stop-color="#f5c9c5"/><stop offset="0.87473" stop-color="#d71f2e"/><stop offset="0.87885" stop-color="#d71f2e"/><stop offset="0.87885" stop-color="#df4b53"/><stop offset="0.88121" stop-color="#df4b53"/><stop offset="0.88121" stop-color="#d71f2e"/><stop offset="0.88769" stop-color="#d71f2e"/><stop offset="0.88769" stop-color="#ffffff"/><stop offset="0.89004" stop-color="#ffffff"/><stop offset="0.89004" stop-color="#cdd0e7"/><stop offset="0.89240" stop-color="#cdd0e7"/><stop offset="0.89240" stop-color="#969fd0"/><stop offset="0.89417" stop-color="#969fd0"/><stop offset="0.89417" stop-color="#cdd0e7"/><stop offset="0.89829" stop-color="#cdd0e7"/><stop offset="0.89829" stop-color="#5a6cb3"/><stop offset="0.90065" stop-color="#5a6cb3"/><stop offset="0.90065" stop-color="#3953a4"/><stop offset="0.90654" stop-color="#3953a4"/><stop offset="0.90654" stop-color="#f5c9c5"/><stop offset="0.90889" stop-color="#f5c9c5"/><stop offset="0.90889" stop-color="#e88583"/><stop offset="0.91243" stop-color="#e88583"/><stop offset="0.91243" stop-color="#969fd0"/><stop offset="0.91596" stop-color="#969fd0"/><stop offset="0.91596" stop-color="#ffffff"/><stop offset="0.91926" stop-color="#ffffff"/><stop offset="0.91926" stop-color="#3953a4"/><stop offset="0.93953" stop-color="#3953a4"/><stop offset="0.93953" stop-color="#969fd0"/><stop offset="0.94424" stop-color="#969fd0"/><stop offset="0.94424" stop-color="#3953a4"/><stop offset="0.94954" stop-color="#3953a4"/><stop offset="0.94954" stop-color="#5a6cb3"/><stop offset="0.95190" stop-color="#5a6cb3"/><stop offset="0.95190" stop-color="#3953a4"/><stop offset="0.95425" stop-color="#3953a4"/><stop offset="0.95425" stop-color="#ffffff"/><stop offset="0.95720" stop-color="#ffffff"/><stop offset="0.95720" stop-color="#3953a4"/><stop offset="0.96721" stop-color="#3953a4"/><stop offset="0.96721" stop-color="#5a6cb3"/><stop offset="0.97134" stop-color="#5a6cb3"/><stop offset="0.97134" stop-color="#3953a4"/><stop offset="0.98194" stop-color="#3953a4"/><stop offset="0.98194" stop-color="#cdd0e7"/><stop offset="0.98665" stop-color="#cdd0e7"/><stop offset="0.98665" stop-color="#5a6cb3"/><stop offset="0.98783" stop-color="#5a6cb3"/><stop offset="0.98783" stop-color="#f5c9c5"/><stop offset="0.99431" stop-color="#f5c9c5"/><stop offset="0.99431" stop-color="#969fd0"/><stop offset="0.99726" stop-color="#969fd0"/><stop offset="0.99726" stop-color="#5a6cb3"/><stop offset="0.99996" stop-color="#5a6cb3"/></linearGradient>
<clipPath id="hclip"><rect x="259.80" y="1308.50" width="1630.10" height="338.25"/></clipPath>
<filter id="hblur" filterUnits="userSpaceOnUse" x="200" y="1290" width="1710" height="380"><feGaussianBlur stdDeviation="0.7 0.3"/></filter>
</defs>
<g clip-path="url(#hclip)"><g filter="url(#hblur)">
<rect x="254.80" y="1303.50" width="1640.10" height="72.85" fill="url(#hr1)"/>
<rect x="254.80" y="1376.15" width="1640.10" height="67.85" fill="url(#hr2)"/>
<rect x="254.80" y="1443.80" width="1640.10" height="67.85" fill="url(#hr3)"/>
<rect x="254.80" y="1511.45" width="1640.10" height="67.85" fill="url(#hr4)"/>
<rect x="254.80" y="1579.10" width="1640.10" height="72.85" fill="url(#hr5)"/>
</g></g>
<path d="M290.7 1303.6v-12.0h2.5v12.0zM315.4 1303.6v-10.1h2.5v10.1zM362.3 1303.6v-11.0h2.5v11.0zM372.2 1303.6v-11.8h2.5v11.8zM382.1 1303.6v-10.7h2.5v10.7zM387.0 1303.6v-10.2h2.5v10.2zM414.2 1303.6v-8.9h2.5v8.9zM419.1 1303.6v-8.7h2.5v8.7zM424.0 1303.6v-7.2h2.5v7.2zM443.8 1303.6v-8.1h2.5v8.1zM461.1 1303.6v-8.0h2.5v8.0zM495.7 1303.6v-7.5h2.5v7.5zM505.5 1303.6v-11.7h2.5v11.7zM510.5 1303.6v-9.0h2.5v9.0zM517.9 1303.6v-12.5h2.5v12.5zM527.8 1303.6v-11.5h2.5v11.5zM545.1 1303.6v-11.8h2.5v11.8zM554.9 1303.6v-9.1h2.5v9.1zM599.4 1303.6v-6.4h2.5v6.4zM624.1 1303.6v-1.6h2.5v1.6zM641.4 1303.6v-13.9h2.5v13.9zM651.3 1303.6v-12.1h2.5v12.1zM661.2 1303.6v-10.8h2.5v10.8zM690.8 1303.6v-8.3h2.5v8.3zM698.2 1303.6v-8.8h2.5v8.8zM705.6 1303.6v-12.5h2.5v12.5zM735.2 1303.6v-7.3h2.5v7.3zM750.1 1303.6v-7.2h2.5v7.2zM787.1 1303.6v-7.0h2.5v7.0zM794.5 1303.6v-10.6h2.5v10.6zM799.5 1303.6v-12.1h2.5v12.1zM834.0 1303.6v-10.9h2.5v10.9zM839.0 1303.6v-8.7h2.5v8.7zM843.9 1303.6v-8.4h2.5v8.4zM863.7 1303.6v-8.5h2.5v8.5zM890.8 1303.6v-12.2h2.5v12.2zM908.1 1303.6v-8.6h2.5v8.6zM925.4 1303.6v-7.7h2.5v7.7zM930.4 1303.6v-12.0h2.5v12.0zM957.5 1303.6v-8.5h2.5v8.5zM964.9 1303.6v-11.0h2.5v11.0zM969.9 1303.6v-10.0h2.5v10.0zM974.8 1303.6v-13.6h2.5v13.6zM999.5 1303.6v-7.6h2.5v7.6zM1004.5 1303.6v-5.1h2.5v5.1zM1019.3 1303.6v-8.1h2.5v8.1zM1024.2 1303.6v-8.1h2.5v8.1zM1056.3 1303.6v-9.1h2.5v9.1zM1078.6 1303.6v-8.5h2.5v8.5zM1103.3 1303.6v-4.5h2.5v4.5zM1137.8 1303.6v-7.2h2.5v7.2zM1147.7 1303.6v-2.0h2.5v2.0zM1155.1 1303.6v-7.0h2.5v7.0zM1192.2 1303.6v-7.4h2.5v7.4zM1226.7 1303.6v-4.1h2.5v4.1zM1236.6 1303.6v-1.0h2.5v1.0zM1281.1 1303.6v-8.3h2.5v8.3zM1288.5 1303.6v-10.0h2.5v10.0zM1293.4 1303.6v-9.5h2.5v9.5zM1303.3 1303.6v-10.7h2.5v10.7zM1325.5 1303.6v-11.8h2.5v11.8zM1332.9 1303.6v-9.6h2.5v9.6zM1387.3 1303.6v-12.7h2.5v12.7zM1404.6 1303.6v-7.8h2.5v7.8zM1414.5 1303.6v-10.2h2.5v10.2zM1444.1 1303.6v-13.7h2.5v13.7zM1456.4 1303.6v-12.4h2.5v12.4zM1468.8 1303.6v-13.7h2.5v13.7zM1500.9 1303.6v-7.1h2.5v7.1zM1505.8 1303.6v-11.8h2.5v11.8zM1577.5 1303.6v-9.7h2.5v9.7zM1646.6 1303.6v-13.9h2.5v13.9zM1666.4 1303.6v-7.3h2.5v7.3zM1693.5 1303.6v-10.0h2.5v10.0zM1735.5 1303.6v-8.0h2.5v8.0zM1750.4 1303.6v-9.4h2.5v9.4zM1777.5 1303.6v-8.5h2.5v8.5zM1792.3 1303.6v-12.2h2.5v12.2zM1804.7 1303.6v-6.2h2.5v6.2zM1831.9 1303.6v-2.0h2.5v2.0zM1846.7 1303.6v-9.6h2.5v9.6zM1854.1 1303.6v-12.9h2.5v12.9zM1859.0 1303.6v-9.6h2.5v9.6zM1886.2 1303.6v-10.1h2.5v10.1z" fill="#949494"/>
<path d="M261.0 1303.6v-10.5h2.5v10.5M262.3 1293.1v-12.9h3.7v23.5M270.9 1303.6v-13.8h2.5v13.8M272.1 1289.8v-2.5h3.7v16.3M268.4 1303.6v-18.8h5.6v2.5M264.1 1280.1v-8.4h7.1v13.1M278.3 1303.6v-17.4h2.5v17.4M283.3 1303.6v-13.0h2.5v13.0M290.7 1303.6v-21.2h2.5v21.2M288.2 1303.6v-23.7h3.7v2.5M284.5 1290.6v-13.2h5.6v2.5M287.3 1277.4v-2.5h8.3v28.7M279.6 1286.2v-13.8h11.9v2.5M285.5 1272.4v-2.5h12.6v33.7M267.7 1271.7v-13.7h24.1v11.9M303.0 1303.6v-12.6h2.5v12.6M300.6 1303.6v-30.9h3.7v18.3M308.0 1303.6v-26.5h2.5v26.5M315.4 1303.6v-12.1h2.5v12.1M320.3 1303.6v-21.5h2.5v21.5M316.6 1291.5v-11.9h4.9v2.5M312.9 1303.6v-26.5h6.2v2.5M309.2 1277.1v-2.5h6.8v2.5M330.2 1303.6v-16.5h2.5v16.5M331.4 1287.1v-2.5h3.7v19.0M327.7 1303.6v-21.5h5.6v2.5M325.3 1303.6v-29.0h5.2v7.6M312.6 1274.6v-9.4h15.3v9.4M302.4 1272.7v-10.0h17.8v2.5M279.7 1258.0v-2.5h31.6v7.2M340.1 1303.6v-14.5h2.5v14.5M337.6 1303.6v-18.5h3.7v3.9M345.0 1303.6v-18.7h2.5v18.7M346.2 1284.9v-6.6h3.7v25.3M339.5 1285.1v-10.2h8.6v3.3M352.4 1303.6v-14.0h2.5v14.0M353.7 1289.6v-2.5h3.7v16.5M362.3 1303.6v-23.7h2.5v23.7M372.2 1303.6v-14.2h2.5v14.2M373.4 1289.4v-2.5h3.7v16.7M369.7 1303.6v-23.1h5.6v6.4M367.2 1303.6v-25.6h5.2v2.5M363.5 1279.9v-4.4h6.3v2.5M359.8 1303.6v-37.8h6.9v9.7M355.5 1287.1v-23.7h7.8v2.5M343.8 1274.9v-23.3h15.6v11.7M382.1 1303.6v-15.9h2.5v15.9M387.0 1303.6v-12.2h2.5v12.2M391.9 1303.6v-13.4h2.5v13.4M388.2 1291.4v-3.7h4.9v2.5M383.3 1287.7v-2.5h7.4v2.5M379.6 1303.6v-37.0h7.4v18.6M396.9 1303.6v-19.5h2.5v19.5M404.3 1303.6v-17.0h2.5v17.0M401.8 1303.6v-19.5h3.7v2.5M398.1 1284.1v-2.5h5.6v2.5M400.9 1281.6v-2.5h8.3v24.5M414.2 1303.6v-13.8h2.5v13.8M411.7 1303.6v-16.3h3.7v2.5M419.1 1303.6v-20.5h2.5v20.5M413.5 1287.3v-6.7h6.8v2.5M424.0 1303.6v-13.7h2.5v13.7M425.3 1289.9v-2.5h3.7v16.2M427.1 1287.4v-7.6h4.3v23.8M438.9 1303.6v-12.3h2.5v12.3M436.4 1303.6v-17.2h3.7v4.9M433.9 1303.6v-19.7h4.3v2.5M443.8 1303.6v-17.3h2.5v17.3M436.1 1283.9v-2.5h9.0v4.9M440.6 1281.4v-2.5h8.2v24.7M453.7 1303.6v-22.2h2.5v22.2M451.2 1303.6v-24.7h3.7v2.5M444.7 1278.9v-2.5h8.4v2.5M429.3 1279.8v-17.3h19.6v13.9M416.9 1280.6v-22.7h22.1v4.7M405.1 1279.1v-24.3h23.0v3.1M382.5 1266.6V1243.0H417.5V1254.8M351.6 1251.6V1239.8H400.0V1243.0M294.7 1255.5V1222.2H375.8V1239.8M461.1 1303.6v-11.6h2.5v11.6M458.6 1303.6v-23.1h3.7v11.5M466.0 1303.6v-22.4h2.5v22.4M471.0 1303.6v-19.9h2.5v19.9M472.2 1283.7v-2.5h3.7v22.4M467.3 1281.2v-2.5h6.8v2.5M460.5 1280.5v-12.6h10.2v10.7M480.9 1303.6v-11.0h2.5v11.0M478.4 1303.6v-16.8h3.7v5.7M488.3 1303.6v-14.9h2.5v14.9M485.8 1303.6v-24.4h3.7v9.5M480.2 1286.8v-10.1h7.4v2.5M495.7 1303.6v-14.8h2.5v14.8M493.2 1303.6v-17.3h3.7v2.5M483.9 1276.7v-2.5h11.1v12.1M465.6 1268.0v-14.7h23.9v20.9M505.5 1303.6v-19.4h2.5v19.4M503.1 1303.6v-21.9h3.7v2.5M510.5 1303.6v-23.9h2.5v23.9M504.9 1281.7v-4.8h6.8v2.7M500.6 1303.6v-42.4h7.7v15.8M517.9 1303.6v-16.5h2.5v16.5M515.4 1303.6v-19.0h3.7v2.5M522.8 1303.6v-19.5h2.5v19.5M517.3 1284.6v-7.2h6.8v6.6M527.8 1303.6v-13.5h2.5v13.5M535.2 1303.6v-21.5h2.5v21.5M540.1 1303.6v-11.6h2.5v11.6M536.4 1282.1v-2.5h4.9v12.5M532.7 1303.6v-27.2h6.2v3.1M529.0 1290.1v-22.8h6.8v9.1M545.1 1303.6v-22.5h2.5v22.5M532.4 1267.4v-2.5h13.9v16.2M520.7 1277.5v-21.6h18.7v9.0M504.6 1261.2V1246.2H529.7V1255.9M477.6 1253.3V1232.3H517.2V1246.2M554.9 1303.6v-11.1h2.5v11.1M556.2 1292.5v-6.9h3.7v17.9M552.5 1303.6v-20.4h5.6v2.5M550.0 1303.6v-22.9h5.2v2.5M562.4 1303.6v-20.9h2.5v20.9M569.8 1303.6v-14.8h2.5v14.8M567.3 1303.6v-18.9h3.7v4.1M574.7 1303.6v-14.2h2.5v14.2M575.9 1289.4v-12.9h3.7v27.1M569.1 1284.7v-10.7h8.6v2.5M582.1 1303.6v-22.6h2.5v22.6M573.5 1274.0v-2.5h9.9v9.4M563.6 1282.7v-13.7h14.8v2.5M552.6 1280.7v-33.0h18.4v21.3M589.5 1303.6v-5.4h2.5v5.4M594.5 1303.6v-10.9h2.5v10.9M599.4 1303.6v-8.4h2.5v8.4M600.6 1295.2v-2.5h3.7v10.9M595.7 1292.7v-2.5h6.8v2.5M611.8 1303.6v-8.5h2.5v8.5M616.7 1303.6v-7.3h2.5v7.3M613.0 1295.1v-2.5h4.9v3.7M609.3 1303.6v-13.5h6.2v2.5M606.8 1303.6v-16.0h5.6v2.5M599.1 1290.2v-5.2h10.5v2.5M590.8 1298.2v-15.6h13.6v2.5M624.1 1303.6v-3.6h2.5v3.6M621.6 1303.6v-6.1h3.7v2.5M623.5 1297.5v-2.5h5.6v8.6M626.3 1295.0v-2.5h5.2v11.1M597.6 1282.6v-2.5h31.3v12.4M587.1 1303.6v-32.1h26.2v8.6M634.0 1303.6v-16.7h2.5v16.7M635.2 1286.9v-7.3h3.7v24.0M641.4 1303.6v-16.5h2.5v16.5M642.6 1287.1v-2.5h3.7v19.0M644.5 1284.6v-7.3h4.3v26.3M637.1 1279.6v-17.3h9.6v15.0M596.7 1271.5V1234.4H641.8V1262.3M560.9 1247.7V1229.0H619.2V1234.4M497.4 1232.3V1208.7H590.1V1229.0M335.2 1222.2V1197.9H543.7V1208.7M651.3 1303.6v-18.2h2.5v18.2M652.5 1285.4v-2.5h3.7v20.7M661.2 1303.6v-12.8h2.5v12.8M662.4 1290.8v-12.8h3.7v25.6M658.7 1303.6v-28.1h5.6v2.5M654.4 1282.9v-9.9h7.1v2.5M671.0 1303.6v-12.5h2.5v12.5M672.3 1291.1v-2.5h3.7v15.0M674.1 1288.6v-2.5h4.3v17.5M668.6 1303.6v-30.8h7.7v13.3M657.9 1273.0v-5.5h14.5v5.4M683.4 1303.6v-22.0h2.5v22.0M680.9 1303.6v-30.9h3.7v8.8M690.8 1303.6v-15.8h2.5v15.8M698.2 1303.6v-10.8h2.5v10.8M695.7 1303.6v-13.3h3.7v2.5M697.6 1290.3v-2.5h5.6v15.8M692.0 1287.8v-2.5h8.3v2.5M688.3 1303.6v-20.8h7.9v2.5M705.6 1303.6v-19.2h2.5v19.2M692.3 1282.8v-8.8h14.6v10.4M710.5 1303.6v-9.7h2.5v9.7M711.8 1293.9v-2.5h3.7v12.2M713.6 1291.4v-2.5h4.3v14.7M699.5 1273.9v-11.3h16.2v26.3M682.8 1272.7v-12.6h24.9v2.5M665.2 1267.5v-9.9h30.1v2.5M725.4 1303.6v-15.0h2.5v15.0M726.6 1288.6v-2.5h3.7v17.5M728.5 1286.1v-2.5h4.3v20.0M722.9 1303.6v-22.5h7.7v2.5M720.4 1303.6v-25.0h6.3v2.5M735.2 1303.6v-25.4h2.5v25.4M742.7 1303.6v-22.9h2.5v22.9M740.2 1303.6v-25.4h3.7v2.5M736.5 1278.2v-2.5h5.6v2.5M723.6 1278.6v-24.4h15.7v21.5M679.8 1257.6V1247.7H731.3V1254.2M750.1 1303.6v-14.7h2.5v14.7M751.3 1288.9v-2.5h3.7v17.2M747.6 1303.6v-19.7h5.6v2.5M757.5 1303.6v-19.7h2.5v19.7M750.4 1283.9v-2.5h8.3v2.5M754.5 1281.4v-2.5h7.9v24.7M764.9 1303.6v-17.8h2.5v17.8M766.1 1285.8v-2.5h3.7v20.3M774.8 1303.6v-14.5h2.5v14.5M776.0 1289.1v-2.5h3.7v17.0M772.3 1303.6v-20.0h5.6v3.0M768.0 1283.3v-11.8h7.1v12.1M782.2 1303.6v-23.5h2.5v23.5M787.1 1303.6v-9.0h2.5v9.0M783.4 1280.1v-2.5h4.9v17.0M785.9 1277.6v-2.5h6.2v28.5M771.5 1271.5v-2.5h17.4v6.1M758.5 1278.9v-35.3h21.8v25.4M705.5 1247.7V1215.1H769.3V1243.6M794.5 1303.6v-20.6h2.5v20.6M799.5 1303.6v-20.7h2.5v20.7M806.9 1303.6v-20.4h2.5v20.4M804.4 1303.6v-22.9h3.7v2.5M800.7 1282.9v-4.7h5.6v2.5M811.8 1303.6v-23.5h2.5v23.5M813.0 1280.1v-2.5h3.7v26.0M821.7 1303.6v-18.7h2.5v18.7M822.9 1284.9v-2.5h3.7v21.2M819.2 1303.6v-26.8h5.6v5.6M814.9 1277.6v-4.6h7.1v3.9M829.1 1303.6v-14.6h2.5v14.6M818.4 1273.0v-2.5h11.9v18.6M803.5 1278.2v-20.5h20.9v12.8M795.8 1283.0v-47.9h18.2v22.6M834.0 1303.6v-18.8h2.5v18.8M839.0 1303.6v-14.9h2.5v14.9M843.9 1303.6v-10.4h2.5v10.4M840.2 1288.7v-2.5h4.9v7.0M842.7 1286.2v-2.5h6.2v19.9M835.3 1284.8v-3.6h10.5v2.5M856.3 1303.6v-9.6h2.5v9.6M853.8 1303.6v-23.8h3.7v14.2M863.7 1303.6v-18.4h2.5v18.4M864.9 1285.2v-2.5h3.7v20.9M861.2 1303.6v-23.4h5.6v2.5M855.7 1279.8v-2.5h8.3v2.9M851.3 1303.6v-28.8h8.5v2.5M840.5 1281.2v-26.0h15.1v19.6M873.6 1303.6v-9.2h2.5v9.2M871.1 1303.6v-22.5h3.7v13.3M872.9 1281.1v-2.5h5.6v25.0M875.7 1278.6v-3.5h5.2v28.6M890.8 1303.6v-14.2h2.5v14.2M888.4 1303.6v-16.7h3.7v2.5M885.9 1303.6v-19.2h4.3v2.5M888.1 1284.4v-2.5h7.7v21.7M883.4 1303.6v-24.2h8.5v2.5M878.3 1275.0v-25.1h9.3v29.5M847.8 1255.2V1228.6H883.2V1249.9M804.5 1235.1V1208.2H865.5V1228.6M737.4 1215.1V1192.1H835.0V1208.2M439.5 1197.9V1183.5H786.2V1192.1M898.3 1303.6v-18.9h2.5v18.9M908.1 1303.6v-10.6h2.5v10.6M909.4 1293.0v-2.5h3.7v13.1M905.7 1303.6v-15.6h5.6v2.5M903.2 1303.6v-20.0h5.2v4.4M905.8 1283.6v-2.5h9.7v22.5M920.5 1303.6v-28.2h2.5v28.2M918.0 1303.6v-32.1h3.7v3.9M910.7 1281.1v-13.9h9.2v4.3M925.4 1303.6v-9.7h2.5v9.7M915.3 1267.2v-2.7h11.4v29.4M930.4 1303.6v-20.0h2.5v20.0M921.0 1264.5v-2.5h10.6v21.6M899.5 1284.7v-37.0h26.8v14.3M935.3 1303.6v-11.1h2.5v11.1M936.5 1292.5v-14.0h3.7v25.1M942.7 1303.6v-12.7h2.5v12.7M943.9 1290.9v-2.5h3.7v15.2M945.8 1288.4v-2.5h4.3v17.7M948.0 1285.9v-5.7h4.6v23.4M950.3 1280.2v-2.5h4.8v25.9M957.5 1303.6v-20.7h2.5v20.7M958.8 1282.9v-2.5h3.7v23.2M952.7 1277.7v-2.5h7.9v5.2M938.4 1278.5v-18.3h18.3v15.0M964.9 1303.6v-19.7h2.5v19.7M969.9 1303.6v-17.7h2.5v17.7M966.2 1283.9v-2.5h4.9v4.6M974.8 1303.6v-17.9h2.5v17.9M979.8 1303.6v-24.0h2.5v24.0M976.1 1285.7v-9.2h4.9v3.0M968.6 1281.4v-25.9h9.9v21.1M947.6 1260.2V1238.7H973.4V1255.5M912.9 1247.7V1216.2H960.5V1238.7M987.2 1303.6v-7.8h2.5v7.8M988.4 1295.8v-8.9h3.7v16.7M984.7 1303.6v-19.2h5.6v2.5M999.5 1303.6v-9.6h2.5v9.6M1004.5 1303.6v-7.1h2.5v7.1M1005.7 1296.5v-2.5h3.7v9.6M1000.8 1294.0v-2.5h6.8v2.5M997.0 1303.6v-17.6h7.1v5.4M1011.9 1303.6v-16.0h2.5v16.0M1000.6 1286.0v-2.5h12.5v4.1M1019.3 1303.6v-10.1h2.5v10.1M1024.2 1303.6v-10.1h2.5v10.1M1020.5 1293.5v-2.5h4.9v2.5M1016.8 1303.6v-15.1h6.2v2.5M1019.9 1288.5v-2.5h9.3v17.6M1024.5 1286.0v-2.5h7.1v20.1M1006.9 1283.5v-9.2h21.2v9.1M1034.1 1303.6v-14.0h2.5v14.0M1041.5 1303.6v-4.6h2.5v4.6M1042.7 1299.0v-2.5h3.7v7.1M1044.6 1296.5v-2.5h4.3v9.6M1039.0 1303.6v-16.1h7.7v6.6M1035.3 1289.6v-6.1h7.6v3.9M1017.5 1274.4v-2.5h21.6v11.6M994.6 1303.6v-40.4h33.7v8.7M987.5 1284.4v-24.7h24.0v3.5M1051.4 1303.6v-7.9h2.5v7.9M1056.3 1303.6v-11.1h2.5v11.1M1052.6 1295.7v-5.8h4.9v2.5M1066.2 1303.6v-3.0h2.5v3.0M1063.7 1303.6v-4.1h3.7v1.1M1065.6 1299.5v-2.5h5.6v6.6M1068.4 1297.0v-2.5h5.2v9.1M1071.0 1294.5v-2.5h5.1v11.6M1078.6 1303.6v-10.5h2.5v10.5M1073.5 1292.0v-2.5h6.3v3.6M1086.0 1303.6v-9.1h2.5v9.1M1087.2 1294.5v-2.5h3.7v11.6M1083.5 1303.6v-14.1h5.6v2.5M1076.7 1289.5v-2.5h9.6v2.5M1095.8 1303.6v-10.2h2.5v10.2M1097.1 1293.4v-2.5h3.7v12.7M1093.4 1303.6v-15.2h5.6v2.5M1081.5 1287.0v-2.5h14.7v3.9M1103.3 1303.6v-6.5h2.5v6.5M1104.5 1297.1v-3.8h3.7v10.4M1110.7 1303.6v-5.9h2.5v5.9M1106.3 1293.2v-2.5h5.6v7.0M1120.5 1303.6v-4.1h2.5v4.1M1118.1 1303.6v-6.6h3.7v2.5M1119.9 1297.0v-2.5h5.6v9.1M1122.7 1294.5v-2.5h5.2v11.6M1115.6 1303.6v-14.1h9.7v2.5M1109.1 1290.7v-3.8h11.3v2.5M1130.4 1303.6v-9.9h2.5v9.9M1131.7 1293.7v-2.5h3.7v12.4M1114.8 1287.0v-2.5h18.7v6.7M1088.8 1284.5v-2.5h35.3v2.5M1137.8 1303.6v-9.9h2.5v9.9M1139.1 1293.7v-2.5h3.7v12.4M1106.5 1282.0v-2.5h34.4v11.7M1061.3 1303.6v-26.6h62.4v2.5M1055.1 1290.0v-33.5h37.4v20.5M999.6 1259.7V1248.4H1066.8V1256.5M1147.7 1303.6v-4.0h2.5v4.0M1145.2 1303.6v-6.5h3.7v2.5M1147.1 1297.1v-2.5h5.6v9.0M1155.1 1303.6v-9.0h2.5v9.0M1149.9 1294.6v-3.2h6.5v3.1M1162.5 1303.6v-4.1h2.5v4.1M1160.1 1303.6v-10.6h3.7v6.5M1153.1 1291.4v-11.6h8.8v13.1M1169.9 1303.6v-4.2h2.5v4.2M1167.5 1303.6v-6.7h3.7v2.5M1174.9 1303.6v-6.7h2.5v6.7M1169.3 1296.9v-2.5h6.8v2.5M1182.3 1303.6v-3.0h2.5v3.0M1179.8 1303.6v-4.2h3.7v1.2M1181.7 1299.4v-2.5h5.6v6.7M1184.4 1296.9v-2.5h5.2v9.2M1192.2 1303.6v-9.4h2.5v9.4M1187.1 1294.4v-2.8h6.3v2.5M1172.7 1294.4v-7.2h17.5v4.5M1199.6 1303.6v-8.4h2.5v8.4M1204.5 1303.6v-8.0h2.5v8.0M1200.8 1295.2v-2.6h4.9v3.0M1197.1 1303.6v-14.2h6.2v3.2M1211.9 1303.6v-3.0h2.5v3.0M1209.5 1303.6v-3.0h3.7v0.0M1216.9 1303.6v-3.0h2.5v3.0M1211.3 1300.6v-2.0h6.8v2.0M1214.7 1298.6v-2.5h7.1v7.5M1200.2 1289.4v-2.5h18.1v9.2M1181.5 1287.2v-2.8h27.7v2.5M1226.7 1303.6v-6.1h2.5v6.1M1224.3 1303.6v-8.6h3.7v2.5M1226.1 1295.0v-2.5h5.6v11.1M1236.6 1303.6v-3.0h2.5v3.0M1237.9 1300.6v-2.0h3.7v5.0M1234.2 1303.6v-7.5h5.6v2.5M1228.9 1292.5v-3.0h8.0v6.6M1244.0 1303.6v-8.1h2.5v8.1M1249.0 1303.6v-8.1h2.5v8.1M1245.3 1295.5v-2.5h4.9v2.5M1232.9 1289.5v-3.0h14.8v6.5M1195.4 1284.4v-7.3h45.0v9.4M1157.5 1279.8v-5.2h60.3v2.5M1256.4 1303.6v-6.0h2.5v6.0M1253.9 1303.6v-8.5h3.7v2.5M1255.8 1295.1v-2.5h5.6v11.0M1258.5 1292.6v-2.5h5.2v13.5M1266.3 1303.6v-12.3h2.5v12.3M1267.5 1291.3v-2.5h3.7v14.8M1273.7 1303.6v-9.6h2.5v9.6M1269.4 1288.8v-5.6h5.6v10.8M1272.1 1283.2v-3.8h6.5v24.2M1281.1 1303.6v-10.3h2.5v10.3M1282.3 1293.3v-9.1h3.7v19.4M1275.4 1279.4v-2.5h8.8v7.3M1261.2 1290.1v-22.4h18.6v9.2M1188.9 1274.6V1246.7H1270.5V1267.7M1288.5 1303.6v-12.0h2.5v12.0M1293.4 1303.6v-17.5h2.5v17.5M1298.4 1303.6v-17.5h2.5v17.5M1294.7 1286.1v-2.5h4.9v2.5M1303.3 1303.6v-15.2h2.5v15.2M1304.5 1288.4v-2.5h3.7v17.7M1306.4 1285.9v-2.5h4.3v20.2M1308.6 1283.4v-2.5h4.6v22.7M1297.1 1283.6v-7.5h13.7v4.8M1304.0 1276.0v-2.5h11.7v30.1M1289.7 1291.6v-24.1h20.1v6.1M1318.1 1303.6v-12.6h2.5v12.6M1319.4 1291.0v-5.2h3.7v17.8M1325.5 1303.6v-13.8h2.5v13.8M1332.9 1303.6v-17.9h2.5v17.9M1330.5 1303.6v-20.4h3.7v2.5M1326.8 1289.8v-9.1h5.6v2.5M1321.2 1285.8v-7.6h8.3v2.5M1342.8 1303.6v-15.2h2.5v15.2M1344.1 1288.4v-2.5h3.7v17.7M1340.4 1303.6v-20.2h5.6v2.5M1343.1 1283.4v-5.3h7.1v25.5M1337.9 1303.6v-28.0h8.8v2.5M1342.3 1275.6v-3.8h10.4v31.8M1355.2 1303.6v-19.4h2.5v19.4M1360.1 1303.6v-18.9h2.5v18.9M1365.1 1303.6v-9.5h2.5v9.5M1370.0 1303.6v-15.0h2.5v15.0M1366.3 1294.1v-9.5h4.9v3.9M1361.4 1284.7v-2.5h7.4v2.5M1356.4 1284.2v-13.2h8.6v11.2M1347.5 1271.8v-10.3h13.2v9.5M1325.4 1278.2v-19.2h28.7v2.5M1299.8 1267.5v-11.0h40.0v2.5M1377.4 1303.6v-12.3h2.5v12.3M1374.9 1303.6v-28.5h3.7v16.3M1382.3 1303.6v-16.9h2.5v16.9M1387.3 1303.6v-16.2h2.5v16.2M1392.2 1303.6v-16.2h2.5v16.2M1388.5 1287.4v-2.5h4.9v2.5M1383.6 1286.7v-11.4h7.4v9.6M1399.6 1303.6v-14.6h2.5v14.6M1397.2 1303.6v-30.3h3.7v15.7M1387.3 1275.3v-8.3h11.7v6.3M1376.8 1275.1v-10.6h16.4v2.5M1404.6 1303.6v-20.9h2.5v20.9M1405.8 1282.7v-2.5h3.7v23.4M1414.5 1303.6v-12.2h2.5v12.2M1415.7 1291.4v-2.5h3.7v14.7M1412.0 1303.6v-17.2h5.6v2.5M1407.7 1280.2v-15.7h7.1v21.9M1384.9 1264.5V1241.9H1411.3V1264.5M1319.8 1256.5V1237.6H1398.1V1241.9M1229.7 1246.7V1225.8H1358.9V1237.6M1033.2 1248.4V1210.4H1294.3V1225.8M936.7 1216.2V1198.6H1163.8V1210.4M1424.3 1303.6v-14.6h2.5v14.6M1421.9 1303.6v-30.0h3.7v15.4M1429.3 1303.6v-11.7h2.5v11.7M1434.2 1303.6v-14.5h2.5v14.5M1430.5 1291.9v-5.3h4.9v2.5M1433.0 1286.6v-2.5h6.2v19.5M1436.1 1284.1v-5.4h5.6v24.9M1444.1 1303.6v-16.4h2.5v16.4M1438.8 1278.7v-11.9h6.5v20.4M1449.0 1303.6v-22.8h2.5v22.8M1450.3 1280.8v-2.5h3.7v25.3M1456.4 1303.6v-15.0h2.5v15.0M1457.7 1288.6v-2.5h3.7v17.5M1459.5 1286.1v-7.8h4.3v25.3M1452.1 1278.3v-2.5h9.6v2.5M1442.1 1266.8v-2.5h14.8v11.5M1423.7 1273.6v-16.5h25.8v7.2M1468.8 1303.6v-15.7h2.5v15.7M1476.2 1303.6v-11.8h2.5v11.8M1473.7 1303.6v-24.9h3.7v13.1M1475.6 1278.7v-2.5h5.6v27.4M1470.0 1287.9v-14.1h8.3v2.5M1486.1 1303.6v-17.9h2.5v17.9M1483.6 1303.6v-26.8h3.7v8.9M1474.2 1273.7v-3.6h11.3v6.6M1466.3 1303.6v-56.4h13.5v23.0M1437.1 1257.1V1237.0H1473.4V1247.2M1491.0 1303.6v-26.5h2.5v26.5M1496.0 1303.6v-24.8h2.5v24.8M1500.9 1303.6v-9.1h2.5v9.1M1505.8 1303.6v-20.0h2.5v20.0M1502.1 1294.5v-13.4h4.9v2.5M1497.2 1278.8v-2.5h7.4v4.8M1492.3 1277.1v-18.7h8.6v17.9M1513.2 1303.6v-8.3h2.5v8.3M1518.2 1303.6v-6.6h2.5v6.6M1519.4 1297.0v-2.5h3.7v9.1M1525.6 1303.6v-8.3h2.5v8.3M1530.5 1303.6v-8.3h2.5v8.3M1526.8 1295.3v-2.5h4.9v2.5M1537.9 1303.6v-3.3h2.5v3.3M1535.5 1303.6v-5.8h3.7v2.5M1537.3 1297.8v-2.5h5.6v8.3M1547.8 1303.6v-5.8h2.5v5.8M1545.4 1303.6v-8.3h3.7v2.5M1540.1 1295.3v-2.5h7.1v2.5M1529.3 1292.8v-2.5h14.4v2.5M1552.8 1303.6v-6.2h2.5v6.2M1536.5 1290.3v-2.5h17.5v9.6M1521.3 1294.5v-9.2h24.0v2.5M1533.3 1285.3v-2.5h24.4v20.8M1514.5 1295.3v-21.6h31.0v9.1M1510.8 1303.6v-36.1h19.2v6.2M1567.6 1303.6v-12.4h2.5v12.4M1572.5 1303.6v-12.4h2.5v12.4M1568.8 1291.2v-2.5h4.9v2.5M1565.1 1303.6v-17.4h6.2v2.5M1562.6 1303.6v-19.9h5.6v2.5M1560.2 1303.6v-22.7h5.2v2.8M1577.5 1303.6v-14.1h2.5v14.1M1562.8 1280.9v-2.5h15.9v11.1M1582.4 1303.6v-14.0h2.5v14.0M1587.3 1303.6v-13.4h2.5v13.4M1588.6 1290.2v-2.5h3.7v15.9M1583.6 1289.6v-4.3h6.8v2.5M1570.7 1278.4v-19.3h16.3v26.1M1522.2 1267.5V1242.6H1578.8V1259.1M1496.8 1258.4V1222.3H1550.5V1242.6M1455.2 1237.0V1212.1H1523.7V1222.3M1594.8 1303.6v-17.9h2.5v17.9M1607.1 1303.6v-13.2h2.5v13.2M1604.6 1303.6v-16.4h3.7v3.2M1602.2 1303.6v-18.9h4.3v2.5M1604.3 1284.7v-2.5h7.7v21.4M1608.2 1282.2v-3.6h6.3v25.0M1611.3 1278.6v-2.5h5.6v27.5M1599.7 1303.6v-30.6h14.5v3.1M1596.0 1285.7v-15.2h10.9v2.5M1619.5 1303.6v-15.0h2.5v15.0M1624.4 1303.6v-16.5h2.5v16.5M1625.6 1287.1v-5.7h3.7v22.2M1620.7 1288.6v-9.7h6.8v2.5M1631.8 1303.6v-16.3h2.5v16.3M1636.7 1303.6v-12.8h2.5v12.8M1638.0 1290.8v-8.8h3.7v21.6M1639.8 1282.0v-5.0h4.3v26.6M1646.6 1303.6v-17.7h2.5v17.7M1642.0 1277.0v-4.9h5.9v13.8M1633.0 1287.3v-28.2h11.9v13.0M1624.1 1278.9v-23.6h14.9v3.8M1601.6 1270.5V1240.6H1631.6V1255.3M1656.5 1303.6v-14.6h2.5v14.6M1654.0 1303.6v-17.1h3.7v2.5M1651.6 1303.6v-25.0h4.3v8.0M1661.4 1303.6v-17.5h2.5v17.5M1666.4 1303.6v-9.3h2.5v9.3M1667.6 1294.3v-15.4h3.7v24.7M1662.7 1286.1v-14.3h6.8v7.0M1653.7 1278.6v-27.6h12.3v20.8M1673.8 1303.6v-11.8h2.5v11.8M1678.7 1303.6v-18.2h2.5v18.2M1683.7 1303.6v-18.2h2.5v18.2M1680.0 1285.4v-2.5h4.9v2.5M1675.0 1291.8v-28.3h7.4v19.4M1688.6 1303.6v-21.1h2.5v21.1M1693.5 1303.6v-21.6h2.5v21.6M1689.8 1282.5v-3.0h4.9v2.5M1698.5 1303.6v-17.6h2.5v17.6M1703.4 1303.6v-17.6h2.5v17.6M1699.7 1286.0v-2.5h4.9v2.5M1692.3 1279.5v-9.3h9.9v13.3M1678.7 1263.5v-15.8h18.5v22.5M1659.5 1251.0V1231.9H1688.2V1247.7M1616.6 1240.6V1221.8H1673.8V1231.9M1710.8 1303.6v-14.4h2.5v14.4M1712.1 1289.2v-2.5h3.7v16.9M1708.4 1303.6v-19.4h5.6v2.5M1720.7 1303.6v-19.5h2.5v19.5M1718.2 1303.6v-22.0h3.7v2.5M1720.1 1281.6v-2.5h5.6v24.5M1711.1 1284.2v-17.6h11.7v12.5M1730.6 1303.6v-15.7h2.5v15.7M1735.5 1303.6v-10.0h2.5v10.0M1736.8 1293.6v-5.7h3.7v15.7M1731.8 1287.9v-2.5h6.8v2.5M1742.9 1303.6v-12.9h2.5v12.9M1750.4 1303.6v-15.8h2.5v15.8M1747.9 1303.6v-18.3h3.7v2.5M1749.7 1285.3v-2.5h5.6v20.8M1744.2 1290.7v-14.9h8.3v7.0M1735.2 1285.4v-12.1h13.1v2.5M1728.1 1303.6v-38.2h13.7v7.9M1717.0 1266.6v-21.5h17.9v20.3M1760.2 1303.6v-10.1h2.5v10.1M1767.6 1303.6v-8.2h2.5v8.2M1765.2 1303.6v-16.9h3.7v8.7M1761.5 1293.5v-13.5h5.6v6.7M1764.2 1280.0v-3.4h8.3v27.1M1777.5 1303.6v-10.5h2.5v10.5M1775.1 1303.6v-19.0h3.7v8.5M1784.9 1303.6v-9.8h2.5v9.8M1786.2 1293.8v-2.5h3.7v12.3M1782.5 1303.6v-14.8h5.6v2.5M1776.9 1284.6v-2.5h8.3v6.7M1792.3 1303.6v-14.2h2.5v14.2M1799.8 1303.6v-11.7h2.5v11.7M1797.3 1303.6v-14.2h3.7v2.5M1793.6 1289.4v-2.5h5.6v2.5M1781.1 1282.1v-8.5h15.3v13.4M1768.4 1276.5v-8.7h20.3v5.7M1804.7 1303.6v-8.2h2.5v8.2M1805.9 1295.4v-2.6h3.7v10.9M1807.8 1292.7v-2.5h4.3v13.4M1814.6 1303.6v-16.5h2.5v16.5M1826.9 1303.6v-6.5h2.5v6.5M1831.9 1303.6v-4.0h2.5v4.0M1833.1 1299.6v-2.5h3.7v6.5M1828.2 1297.1v-2.5h6.8v2.5M1824.4 1303.6v-11.5h7.1v2.5M1822.0 1303.6v-14.0h6.0v2.5M1819.5 1303.6v-16.5h5.5v2.5M1815.8 1287.1v-2.5h6.4v2.5M1809.9 1290.2v-11.8h9.1v6.1M1778.6 1267.9v-5.2h35.9v15.8M1839.3 1303.6v-6.8h2.5v6.8M1846.7 1303.6v-12.5h2.5v12.5M1847.9 1291.1v-2.5h3.7v15.0M1844.2 1303.6v-17.5h5.6v2.5M1840.5 1296.8v-13.6h6.5v2.9M1796.5 1262.6v-2.5h47.2v23.1M1757.8 1303.6v-49.1h62.4v5.6M1854.1 1303.6v-18.3h2.5v18.3M1859.0 1303.6v-18.3h2.5v18.3M1855.3 1285.3v-2.5h4.9v2.5M1866.4 1303.6v-19.8h2.5v19.8M1871.4 1303.6v-20.3h2.5v20.3M1867.7 1283.8v-3.0h4.9v2.5M1878.8 1303.6v-15.6h2.5v15.6M1876.3 1303.6v-18.1h3.7v2.5M1870.1 1280.8v-2.5h8.0v7.3M1874.2 1278.3v-2.5h9.6v27.8M1864.0 1303.6v-30.3h15.0v2.5M1886.2 1303.6v-12.1h2.5v12.1M1871.5 1273.3v-2.5h16.0v20.7M1857.8 1282.8v-40.7h21.6v28.7M1787.0 1254.5V1223.6H1868.8V1242.1M1726.8 1245.1V1204.0H1827.9V1223.6M1645.2 1221.8V1190.6H1777.3V1204.0M1489.5 1212.1V1183.4H1711.3V1190.6M1050.2 1198.6V1176.5H1600.4V1183.4M612.9 1183.5V1165.3H1325.3V1176.5" fill="none" stroke="#1a1a1a" stroke-width="1.15" stroke-linejoin="miter"/>
<text x="93.7" y="1354.8" font-size="33" text-anchor="start" textLength="122.8">NCIGP1</text>
<text x="89.0" y="1422.5" font-size="33" text-anchor="start" textLength="125.2">NCIGP2</text>
<text x="89.0" y="1490.1" font-size="33" text-anchor="start" textLength="125.2">NCIGP3</text>
<text x="89.0" y="1557.8" font-size="33" text-anchor="start" textLength="125.2">NCIGP4</text>
<text x="46.1" y="1625.4" font-size="33" text-anchor="start" textLength="161.2">non–NCIG</text>
<text x="1800.5" y="1698.6" font-size="33" text-anchor="middle">Allelic diversity</text>
<rect x="1717.20" y="1719.4" width="10.90" height="25.6" fill="#3a54a5"/>
<rect x="1727.70" y="1719.4" width="10.90" height="25.6" fill="#4258a6"/>
<rect x="1738.20" y="1719.4" width="10.90" height="25.6" fill="#4c5da8"/>
<rect x="1748.70" y="1719.4" width="10.90" height="25.6" fill="#5a65ac"/>
<rect x="1759.20" y="1719.4" width="10.90" height="25.6" fill="#7e83bc"/>
<rect x="1769.70" y="1719.4" width="10.90" height="25.6" fill="#a3a6cf"/>
<rect x="1780.20" y="1719.4" width="10.90" height="25.6" fill="#c9cbe3"/>
<rect x="1790.70" y="1719.4" width="10.90" height="25.6" fill="#ffffff"/>
<rect x="1801.20" y="1719.4" width="10.90" height="25.6" fill="#f3cbc9"/>
<rect x="1811.70" y="1719.4" width="10.90" height="25.6" fill="#eda9a8"/>
<rect x="1822.20" y="1719.4" width="10.90" height="25.6" fill="#e58a8a"/>
<rect x="1832.70" y="1719.4" width="10.90" height="25.6" fill="#e0686b"/>
<rect x="1843.20" y="1719.4" width="10.90" height="25.6" fill="#dc4850"/>
<rect x="1853.70" y="1719.4" width="10.90" height="25.6" fill="#da2a38"/>
<rect x="1864.20" y="1719.4" width="10.90" height="25.6" fill="#d81f2e"/>
<path d="M1717.2 1745.0 H1874.7" stroke="#000" stroke-width="1.7" fill="none"/>
<path d="M1874.4 1719.4 V1745.0" stroke="#333" stroke-width="0.8" fill="none"/>
<path d="M1790.7 1720.2 h10.5" stroke="#000" stroke-width="1.8" fill="none"/>
<text x="1728.0" y="1781.2" font-size="33" text-anchor="middle">0</text>
<text x="1866.5" y="1781.2" font-size="33" text-anchor="middle">1</text>
</svg>
</body>
</html>
